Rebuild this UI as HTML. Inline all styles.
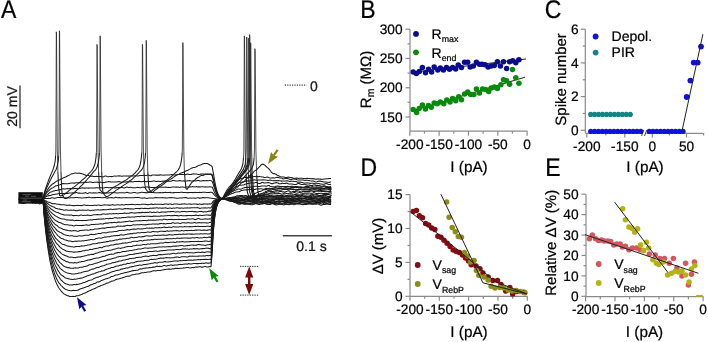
<!DOCTYPE html>
<html><head><meta charset="utf-8"><style>
html,body{margin:0;padding:0;background:#fff;width:708px;height:342px;overflow:hidden}
svg{display:block;will-change:transform}
text{font-family:"Liberation Sans", sans-serif;text-rendering:geometricPrecision;stroke:currentColor;stroke-width:0.22px}
</style></head><body>
<svg width="708" height="342" viewBox="0 0 708 342">
<rect width="708" height="342" fill="#fff"/>
<text transform="translate(1.0,17.5) scale(1,1.11)" font-size="23" fill="#000">A</text>
<path d="M18.7 199.8 19.7 199.6 20.7 199.4 21.7 199.7 22.7 200.2 23.7 200.3 24.7 200.1 25.7 199.9 26.7 200.1 27.7 200.3 28.7 199.9 29.7 199.8 30.7 200.0 31.7 199.9 32.7 199.7 33.7 199.0 34.7 199.0 35.7 198.6 36.7 199.1 37.7 199.1 38.7 199.7 39.7 199.8 40.7 200.1 41.7 199.3 42.7 198.8" fill="none" stroke="#1a1a1a" stroke-width="1.05" stroke-linejoin="round"/>
<path d="M18.7 199.5 19.7 199.2 20.7 199.4 21.7 199.9 22.7 199.9 23.7 200.2 24.7 200.1 25.7 200.2 26.7 200.1 27.7 199.9 28.7 200.1 29.7 199.8 30.7 199.8 31.7 200.2 32.7 200.1 33.7 200.3 34.7 199.9 35.7 200.2 36.7 200.5 37.7 200.7 38.7 200.5 39.7 200.0 40.7 199.9 41.7 200.2 42.7 198.8" fill="none" stroke="#1a1a1a" stroke-width="1.05" stroke-linejoin="round"/>
<path d="M18.7 198.0 19.7 197.9 20.7 197.3 21.7 197.6 22.7 197.2 23.7 197.1 24.7 197.0 25.7 197.6 26.7 198.1 27.7 197.8 28.7 197.3 29.7 197.2 30.7 197.0 31.7 197.1 32.7 196.9 33.7 197.8 34.7 198.1 35.7 198.1 36.7 197.6 37.7 197.3 38.7 197.9 39.7 197.8 40.7 197.8 41.7 197.5 42.7 198.8" fill="none" stroke="#1a1a1a" stroke-width="1.05" stroke-linejoin="round"/>
<path d="M18.7 199.8 19.7 200.4 20.7 200.6 21.7 200.7 22.7 200.6 23.7 200.3 24.7 200.6 25.7 200.4 26.7 200.7 27.7 200.0 28.7 200.1 29.7 199.5 30.7 199.2 31.7 199.1 32.7 199.3 33.7 199.9 34.7 200.7 35.7 200.7 36.7 200.4 37.7 199.9 38.7 200.2 39.7 200.4 40.7 200.2 41.7 200.3 42.7 198.8" fill="none" stroke="#1a1a1a" stroke-width="1.05" stroke-linejoin="round"/>
<path d="M18.7 202.8 19.7 202.9 20.7 202.7 21.7 203.2 22.7 203.2 23.7 203.5 24.7 203.0 25.7 203.0 26.7 202.4 27.7 202.2 28.7 202.3 29.7 202.3 30.7 202.9 31.7 202.3 32.7 203.1 33.7 202.6 34.7 203.3 35.7 203.2 36.7 203.0 37.7 203.1 38.7 203.5 39.7 203.9 40.7 203.5 41.7 203.0 42.7 198.8" fill="none" stroke="#1a1a1a" stroke-width="1.05" stroke-linejoin="round"/>
<path d="M18.7 199.2 19.7 199.2 20.7 198.8 21.7 199.4 22.7 199.6 23.7 200.2 24.7 199.8 25.7 199.7 26.7 199.3 27.7 199.2 28.7 199.4 29.7 199.3 30.7 199.4 31.7 199.0 32.7 198.9 33.7 199.5 34.7 199.7 35.7 199.6 36.7 199.2 37.7 199.8 38.7 199.7 39.7 199.5 40.7 198.9 41.7 198.9 42.7 198.8" fill="none" stroke="#1a1a1a" stroke-width="1.05" stroke-linejoin="round"/>
<path d="M43.0 198.7 43.7 199.5 44.4 200.1 45.1 200.5 45.8 200.8 46.5 201.3 47.2 201.7 47.9 201.9 48.6 202.2 49.3 202.3 50.0 202.7 50.7 202.8 51.4 203.2 52.1 203.5 52.8 203.8 53.5 203.8 54.2 203.6 54.9 203.7 55.6 203.8 56.3 204.1 57.0 204.2 57.7 204.3 58.4 204.2 59.1 204.2 59.8 204.5 60.5 204.8 61.2 204.8 61.9 204.8 62.6 204.7 63.3 204.8 64.0 204.8 64.7 204.9 65.4 205.0 66.1 205.1 66.8 205.4 67.5 205.2 68.2 205.2 68.9 205.1 69.6 205.1 70.3 205.2 71.0 205.3 71.7 205.4 72.4 205.5 73.1 205.8 73.8 205.6 74.5 205.7 75.2 205.5 75.9 205.6 76.6 205.4 77.3 205.3 78.0 205.4 78.7 205.5 79.4 205.6 80.1 205.5 80.8 205.6 81.5 205.6 82.2 205.4 82.9 205.2 83.6 205.0 84.3 204.9 85.0 204.9 85.7 205.2 86.4 205.5 87.1 205.5 87.8 205.2 88.5 205.3 89.2 205.4 89.9 205.5 90.6 205.4 91.3 205.4 92.0 205.4 92.7 205.5 93.4 205.5 94.1 205.3 94.8 205.3 95.5 205.2 96.2 205.4 96.9 205.2 97.6 205.2 98.3 205.1 99.0 205.0 99.7 205.2 100.4 205.4 101.1 205.4 101.8 205.3 102.5 205.2 103.2 205.0 103.9 204.9 104.6 204.8 105.3 205.1 106.0 204.9 106.7 204.9 107.4 204.9 108.1 205.1 108.8 205.1 109.5 205.1 110.2 205.2 110.9 205.0 111.6 205.0 112.3 204.6 113.0 204.8 113.7 205.0 114.4 205.2 115.1 205.1 115.8 205.0 116.5 204.9 117.2 204.8 117.9 204.8 118.6 204.8 119.3 204.9 120.0 205.0 120.7 205.0 121.4 204.7 122.1 204.6 122.8 204.8 123.5 204.9 124.2 204.9 124.9 204.7 125.6 204.5 126.3 204.5 127.0 204.6 127.7 204.7 128.4 204.7 129.1 204.5 129.8 204.6 130.5 204.4 131.2 204.4 131.9 204.3 132.6 204.5 133.3 204.5 134.0 204.6 134.7 204.7 135.4 204.7 136.1 204.6 136.8 204.4 137.5 204.5 138.2 204.4 138.9 204.4 139.6 204.6 140.3 204.7 141.0 204.6 141.7 204.3 142.4 204.3 143.1 204.2 143.8 204.2 144.5 204.3 145.2 204.3 145.9 204.5 146.6 204.6 147.3 204.7 148.0 204.6 148.7 204.7 149.4 204.6 150.1 204.5 150.8 204.1 151.5 204.1 152.2 204.3 152.9 204.6 153.6 204.5 154.3 204.2 155.0 204.1 155.7 204.2 156.4 204.3 157.1 204.3 157.8 204.3 158.5 204.3 159.2 204.3 159.9 204.3 160.6 204.3 161.3 204.3 162.0 204.5 162.7 204.6 163.4 204.5 164.1 204.1 164.8 204.1 165.5 203.9 166.2 203.9 166.9 204.0 167.6 204.2 168.3 204.4 169.0 204.1 169.7 204.0 170.4 203.9 171.1 204.1 171.8 204.4 172.5 204.5 173.2 204.4 173.9 204.0 174.6 204.0 175.3 204.0 176.0 204.0 176.7 204.0 177.4 203.9 178.1 204.2 178.8 204.3 179.5 204.5 180.2 204.3 180.9 204.3 181.6 204.1 182.3 204.1 183.0 204.0 183.7 203.9 184.4 203.8 185.1 203.9 185.8 204.0 186.5 204.2 187.2 204.2 187.9 204.1 188.6 203.9 189.3 203.9 190.0 204.1 190.7 204.1 191.4 204.2 192.1 204.2 192.8 204.1 193.5 203.9 194.2 203.9 194.9 204.1 195.6 204.0 196.3 204.1 197.0 204.1 197.7 204.4 198.4 204.2 199.1 204.1 199.8 203.9 200.5 204.2 201.2 204.2 201.9 204.5 202.6 204.1 203.3 204.2 204.0 203.8 204.7 203.9 205.4 203.9 206.1 204.0 206.8 204.1 207.5 204.1 208.2 204.1 208.9 203.9 209.6 203.8 210.3 203.9 211.0 203.9 212.1 202.9 213.1 201.4 214.1 200.5 215.1 200.0 216.1 199.5 217.1 199.3 218.1 199.0 219.1 198.9 220.1 198.9 221.1 198.8 222.1 198.9 223.1 199.0 224.1 199.4 225.1 199.6 226.1 199.8 227.1 200.1 228.1 200.4 229.1 200.8 230.1 201.0 231.1 201.1 232.1 201.4 233.1 201.6 234.1 202.3 235.1 202.6 236.1 203.1 237.1 203.2 238.1 204.0 239.1 204.2 240.1 204.2 241.1 203.8 242.1 203.8 243.1 203.9 244.1 204.2 245.1 204.2 246.1 204.3 247.1 204.2 248.1 204.2 249.1 204.1 250.1 204.4 251.1 204.7 252.1 204.7 253.1 204.4 254.1 204.2 255.1 203.8 256.1 203.7 257.1 203.8 258.1 204.1 259.1 204.4 260.1 204.0 261.1 203.9 262.1 203.8 263.1 203.9 264.1 203.4 265.1 203.3 266.1 203.6 267.1 204.3 268.1 204.4 269.1 204.2 270.1 204.2 271.1 203.6 272.1 203.8 273.1 203.6 274.1 204.4 275.1 204.6 276.1 205.0 277.1 204.8 278.1 204.6 279.1 204.3 280.1 204.2 281.1 204.2 282.1 204.4 283.1 204.9 284.1 204.8 285.1 204.4 286.1 204.0 287.1 204.4 288.1 204.5 289.1 204.8 290.1 204.2 291.1 204.2 292.1 203.9 293.1 204.4 294.1 204.8 295.1 204.5 296.1 204.0 297.1 203.8 298.1 203.9 299.1 203.8 300.1 203.9 301.1 204.1 302.1 204.6 303.1 204.3 304.1 204.5 305.1 204.3 306.1 204.6 307.1 204.1 308.1 204.0 309.1 203.8 310.1 203.9 311.1 204.3 312.1 204.2 313.1 204.2 314.1 203.9 315.1 203.9 316.1 204.2 317.1 204.0 318.1 204.1 319.1 204.1 320.1 204.9 321.1 205.3 322.1 205.0 323.1 204.6 324.1 204.5 325.1 204.4 326.1 204.3 327.1 203.9 328.1 204.1 329.1 204.1 330.1 203.8 331.1 203.4" fill="none" stroke="#1a1a1a" stroke-width="1.05" stroke-linejoin="round"/>
<path d="M43.0 198.8 43.7 199.8 44.4 200.8 45.1 201.5 45.8 202.3 46.5 202.8 47.2 203.3 47.9 203.7 48.6 204.4 49.3 204.9 50.0 205.4 50.7 205.7 51.4 206.0 52.1 206.5 52.8 206.7 53.5 206.9 54.2 207.1 54.9 207.8 55.6 208.3 56.3 208.5 57.0 208.5 57.7 208.8 58.4 209.0 59.1 209.1 59.8 209.1 60.5 209.4 61.2 209.6 61.9 209.5 62.6 209.8 63.3 210.0 64.0 210.2 64.7 210.2 65.4 209.9 66.1 210.0 66.8 209.9 67.5 210.2 68.2 210.3 68.9 210.3 69.6 210.2 70.3 210.2 71.0 210.1 71.7 210.3 72.4 210.2 73.1 210.3 73.8 210.1 74.5 210.3 75.2 210.4 75.9 210.7 76.6 210.8 77.3 210.8 78.0 210.5 78.7 210.2 79.4 210.1 80.1 210.2 80.8 210.3 81.5 210.2 82.2 210.3 82.9 210.1 83.6 210.3 84.3 210.2 85.0 210.3 85.7 210.3 86.4 210.2 87.1 210.2 87.8 210.0 88.5 210.0 89.2 210.2 89.9 210.6 90.6 210.7 91.3 210.6 92.0 210.3 92.7 210.3 93.4 210.2 94.1 210.2 94.8 210.0 95.5 210.0 96.2 209.9 96.9 209.9 97.6 209.8 98.3 209.7 99.0 209.9 99.7 210.0 100.4 210.0 101.1 209.8 101.8 209.9 102.5 209.7 103.2 209.6 103.9 209.6 104.6 209.7 105.3 209.7 106.0 209.8 106.7 209.7 107.4 209.6 108.1 209.4 108.8 209.6 109.5 209.3 110.2 209.3 110.9 209.1 111.6 209.3 112.3 209.4 113.0 209.6 113.7 209.3 114.4 209.3 115.1 209.1 115.8 209.2 116.5 209.1 117.2 209.1 117.9 208.9 118.6 208.8 119.3 208.7 120.0 208.8 120.7 208.9 121.4 209.0 122.1 209.2 122.8 209.2 123.5 208.9 124.2 208.7 124.9 208.6 125.6 208.6 126.3 208.7 127.0 208.7 127.7 208.6 128.4 208.6 129.1 208.7 129.8 208.9 130.5 208.8 131.2 208.9 131.9 208.8 132.6 208.9 133.3 208.9 134.0 208.9 134.7 208.8 135.4 208.6 136.1 208.5 136.8 208.4 137.5 208.6 138.2 208.4 138.9 208.6 139.6 208.6 140.3 208.6 141.0 208.2 141.7 208.2 142.4 208.3 143.1 208.4 143.8 208.4 144.5 208.3 145.2 208.4 145.9 208.3 146.6 208.4 147.3 208.4 148.0 208.7 148.7 208.6 149.4 208.5 150.1 208.1 150.8 208.3 151.5 208.2 152.2 208.2 152.9 208.1 153.6 208.1 154.3 208.1 155.0 208.0 155.7 207.9 156.4 207.8 157.1 207.8 157.8 208.0 158.5 208.2 159.2 208.0 159.9 207.9 160.6 208.0 161.3 208.3 162.0 208.3 162.7 208.1 163.4 208.1 164.1 208.0 164.8 208.0 165.5 207.8 166.2 208.0 166.9 208.2 167.6 208.4 168.3 208.2 169.0 208.2 169.7 208.0 170.4 208.1 171.1 208.2 171.8 208.4 172.5 208.3 173.2 208.0 173.9 208.0 174.6 208.2 175.3 208.1 176.0 207.9 176.7 207.7 177.4 207.8 178.1 208.0 178.8 208.1 179.5 208.1 180.2 208.2 180.9 208.0 181.6 208.0 182.3 208.1 183.0 208.3 183.7 208.3 184.4 208.0 185.1 208.1 185.8 208.0 186.5 208.0 187.2 207.8 187.9 208.0 188.6 208.0 189.3 208.0 190.0 207.8 190.7 207.9 191.4 207.8 192.1 207.7 192.8 207.7 193.5 207.8 194.2 207.8 194.9 207.8 195.6 207.8 196.3 207.8 197.0 207.8 197.7 207.6 198.4 207.9 199.1 208.1 199.8 208.4 200.5 208.2 201.2 208.1 201.9 207.9 202.6 207.9 203.3 208.0 204.0 207.8 204.7 207.9 205.4 207.8 206.1 208.0 206.8 208.0 207.5 207.9 208.2 207.8 208.9 207.8 209.6 207.9 210.3 207.9 211.0 207.8 212.1 206.1 213.1 203.8 214.1 202.0 215.1 201.0 216.1 200.2 217.1 199.7 218.1 199.3 219.1 199.2 220.1 199.0 221.1 199.0 222.1 198.8 223.1 198.8 224.1 198.8 225.1 198.9 226.1 198.9 227.1 198.9 228.1 199.0 229.1 199.3 230.1 199.4 231.1 199.2 232.1 199.0 233.1 199.0 234.1 198.9 235.1 199.1 236.1 199.1 237.1 199.5 238.1 199.7 239.1 200.0 240.1 199.9 241.1 199.7 242.1 199.8 243.1 199.9 244.1 199.6 245.1 199.4 246.1 199.2 247.1 199.8 248.1 199.2 249.1 199.3 250.1 198.8 251.1 199.4 252.1 199.8 253.1 199.8 254.1 199.6 255.1 199.7 256.1 199.4 257.1 199.5 258.1 199.1 259.1 199.6 260.1 199.6 261.1 199.6 262.1 199.4 263.1 199.4 264.1 199.7 265.1 199.5 266.1 200.0 267.1 200.3 268.1 200.2 269.1 199.8 270.1 199.8 271.1 200.2 272.1 200.1 273.1 199.6 274.1 199.4 275.1 199.5 276.1 199.4 277.1 199.7 278.1 199.6 279.1 199.6 280.1 199.2 281.1 199.4 282.1 199.3 283.1 199.4 284.1 199.5 285.1 199.8 286.1 199.9 287.1 199.9 288.1 199.8 289.1 199.7 290.1 199.5 291.1 199.7 292.1 199.5 293.1 199.8 294.1 199.8 295.1 199.9 296.1 199.6 297.1 199.4 298.1 199.5 299.1 199.3 300.1 199.7 301.1 199.5 302.1 199.2 303.1 198.8 304.1 198.4 305.1 198.9 306.1 199.1 307.1 199.8 308.1 199.5 309.1 199.2 310.1 199.4 311.1 199.8 312.1 199.9 313.1 199.7 314.1 200.0 315.1 200.2 316.1 200.1 317.1 199.9 318.1 199.8 319.1 199.8 320.1 199.3 321.1 199.2 322.1 199.1 323.1 199.4 324.1 199.4 325.1 200.2 326.1 200.1 327.1 200.0 328.1 199.3 329.1 199.6 330.1 199.8 331.1 199.9" fill="none" stroke="#1a1a1a" stroke-width="1.05" stroke-linejoin="round"/>
<path d="M43.0 198.4 43.7 200.1 44.4 201.6 45.1 202.7 45.8 203.6 46.5 204.5 47.2 205.5 47.9 206.3 48.6 207.0 49.3 207.4 50.0 208.0 50.7 208.7 51.4 209.2 52.1 209.8 52.8 210.1 53.5 210.8 54.2 211.1 54.9 211.5 55.6 211.9 56.3 212.3 57.0 212.4 57.7 212.6 58.4 212.8 59.1 213.2 59.8 213.4 60.5 213.8 61.2 214.1 61.9 214.2 62.6 214.4 63.3 214.6 64.0 214.9 64.7 215.1 65.4 215.0 66.1 215.0 66.8 215.0 67.5 215.0 68.2 215.1 68.9 215.0 69.6 215.2 70.3 215.0 71.0 215.0 71.7 215.1 72.4 215.4 73.1 215.6 73.8 215.6 74.5 215.6 75.2 215.4 75.9 215.4 76.6 215.4 77.3 215.6 78.0 215.7 78.7 215.7 79.4 215.5 80.1 215.2 80.8 215.0 81.5 215.1 82.2 215.3 82.9 215.4 83.6 215.4 84.3 215.3 85.0 215.3 85.7 215.4 86.4 215.3 87.1 215.1 87.8 215.1 88.5 215.2 89.2 215.3 89.9 215.4 90.6 215.4 91.3 215.4 92.0 215.3 92.7 215.0 93.4 214.8 94.1 214.7 94.8 214.8 95.5 214.8 96.2 214.7 96.9 214.6 97.6 214.6 98.3 214.7 99.0 214.8 99.7 214.7 100.4 214.7 101.1 214.7 101.8 214.3 102.5 214.0 103.2 213.9 103.9 214.0 104.6 214.1 105.3 214.2 106.0 214.2 106.7 214.0 107.4 214.1 108.1 214.1 108.8 214.0 109.5 213.8 110.2 213.8 110.9 213.9 111.6 213.9 112.3 213.7 113.0 213.7 113.7 213.6 114.4 213.7 115.1 213.7 115.8 213.6 116.5 213.5 117.2 213.8 117.9 213.7 118.6 213.8 119.3 213.5 120.0 213.5 120.7 213.4 121.4 213.5 122.1 213.6 122.8 213.5 123.5 213.3 124.2 213.1 124.9 213.1 125.6 213.2 126.3 213.4 127.0 213.3 127.7 213.3 128.4 213.3 129.1 213.3 129.8 213.0 130.5 212.7 131.2 212.5 131.9 212.8 132.6 212.8 133.3 213.0 134.0 212.9 134.7 213.1 135.4 213.1 136.1 213.0 136.8 212.8 137.5 212.7 138.2 212.7 138.9 212.6 139.6 212.6 140.3 212.7 141.0 212.6 141.7 212.6 142.4 212.3 143.1 212.5 143.8 212.5 144.5 212.6 145.2 212.6 145.9 212.3 146.6 212.4 147.3 212.3 148.0 212.5 148.7 212.4 149.4 212.1 150.1 212.0 150.8 212.0 151.5 212.4 152.2 212.5 152.9 212.5 153.6 212.1 154.3 212.2 155.0 212.4 155.7 212.5 156.4 212.3 157.1 212.0 157.8 212.0 158.5 212.3 159.2 212.5 159.9 212.6 160.6 212.3 161.3 212.1 162.0 212.1 162.7 211.9 163.4 212.0 164.1 211.9 164.8 212.1 165.5 212.1 166.2 212.1 166.9 212.0 167.6 211.8 168.3 211.7 169.0 211.7 169.7 211.7 170.4 211.6 171.1 211.6 171.8 211.5 172.5 211.5 173.2 211.4 173.9 211.6 174.6 211.7 175.3 212.1 176.0 211.9 176.7 211.8 177.4 211.7 178.1 211.8 178.8 211.8 179.5 211.9 180.2 211.9 180.9 211.8 181.6 211.5 182.3 211.5 183.0 211.7 183.7 211.6 184.4 211.5 185.1 211.5 185.8 211.7 186.5 211.7 187.2 211.7 187.9 211.7 188.6 211.6 189.3 211.5 190.0 211.5 190.7 211.6 191.4 211.4 192.1 211.3 192.8 211.5 193.5 211.8 194.2 211.6 194.9 211.8 195.6 211.5 196.3 211.9 197.0 211.7 197.7 211.9 198.4 211.8 199.1 211.6 199.8 211.5 200.5 211.4 201.2 211.3 201.9 211.5 202.6 211.7 203.3 212.1 204.0 211.7 204.7 211.8 205.4 211.8 206.1 212.0 206.8 211.8 207.5 211.6 208.2 211.4 208.9 211.1 209.6 211.1 210.3 211.1 211.0 211.2 212.1 209.3 213.1 205.9 214.1 203.5 215.1 201.9 216.1 200.7 217.1 200.0 218.1 199.6 219.1 199.2 220.1 199.0 221.1 198.7 222.1 198.7 223.1 198.8 224.1 198.9 225.1 198.9 226.1 198.7 227.1 198.7 228.1 198.7 229.1 198.8 230.1 199.2 231.1 199.1 232.1 199.1 233.1 198.9 234.1 198.7 235.1 198.7 236.1 198.5 237.1 198.9 238.1 199.1 239.1 199.0 240.1 198.9 241.1 198.7 242.1 198.9 243.1 199.4 244.1 199.3 245.1 199.0 246.1 198.8 247.1 199.0 248.1 199.4 249.1 199.3 250.1 199.0 251.1 198.9 252.1 199.0 253.1 199.5 254.1 199.4 255.1 199.3 256.1 198.6 257.1 198.9 258.1 199.1 259.1 199.1 260.1 198.9 261.1 198.9 262.1 198.7 263.1 198.4 264.1 198.5 265.1 198.8 266.1 199.0 267.1 199.1 268.1 199.4 269.1 199.4 270.1 199.7 271.1 199.7 272.1 199.8 273.1 199.3 274.1 199.3 275.1 198.9 276.1 198.7 277.1 198.7 278.1 198.5 279.1 198.6 280.1 198.5 281.1 198.8 282.1 198.4 283.1 198.4 284.1 198.5 285.1 198.9 286.1 198.8 287.1 199.0 288.1 198.6 289.1 198.8 290.1 198.9 291.1 199.2 292.1 199.3 293.1 199.3 294.1 199.3 295.1 199.1 296.1 198.8 297.1 199.1 298.1 198.6 299.1 198.4 300.1 198.0 301.1 198.4 302.1 198.4 303.1 198.4 304.1 198.6 305.1 198.7 306.1 199.0 307.1 199.2 308.1 199.2 309.1 199.2 310.1 199.4 311.1 199.6 312.1 199.5 313.1 199.1 314.1 198.9 315.1 199.0 316.1 199.3 317.1 199.3 318.1 199.1 319.1 199.1 320.1 199.2 321.1 199.1 322.1 198.6 323.1 198.5 324.1 198.4 325.1 199.1 326.1 199.3 327.1 199.2 328.1 198.8 329.1 198.9 330.1 199.3 331.1 199.2" fill="none" stroke="#1a1a1a" stroke-width="1.05" stroke-linejoin="round"/>
<path d="M43.0 199.2 43.7 201.1 44.4 202.7 45.1 203.9 45.8 205.2 46.5 206.3 47.2 207.6 47.9 208.4 48.6 209.4 49.3 210.3 50.0 211.3 50.7 211.9 51.4 212.6 52.1 213.4 52.8 213.9 53.5 214.4 54.2 214.9 54.9 215.5 55.6 216.0 56.3 216.4 57.0 216.7 57.7 217.1 58.4 217.6 59.1 217.9 59.8 218.3 60.5 218.5 61.2 218.8 61.9 219.0 62.6 218.9 63.3 219.0 64.0 219.0 64.7 219.2 65.4 219.5 66.1 219.7 66.8 219.9 67.5 219.8 68.2 220.0 68.9 219.9 69.6 220.1 70.3 220.1 71.0 220.2 71.7 220.1 72.4 220.1 73.1 220.3 73.8 220.5 74.5 220.7 75.2 220.6 75.9 220.4 76.6 220.3 77.3 220.4 78.0 220.3 78.7 220.5 79.4 220.4 80.1 220.5 80.8 220.4 81.5 220.5 82.2 220.6 82.9 220.6 83.6 220.5 84.3 220.6 85.0 220.5 85.7 220.5 86.4 220.5 87.1 220.3 87.8 220.3 88.5 220.0 89.2 219.9 89.9 219.9 90.6 219.8 91.3 219.9 92.0 219.8 92.7 219.9 93.4 219.5 94.1 219.4 94.8 219.4 95.5 219.5 96.2 219.5 96.9 219.1 97.6 219.2 98.3 219.1 99.0 219.3 99.7 219.0 100.4 219.1 101.1 218.9 101.8 219.2 102.5 218.9 103.2 218.8 103.9 218.9 104.6 218.9 105.3 218.8 106.0 218.5 106.7 218.4 107.4 218.6 108.1 218.7 108.8 218.7 109.5 218.4 110.2 218.2 110.9 218.4 111.6 218.6 112.3 218.5 113.0 218.3 113.7 218.1 114.4 217.8 115.1 217.7 115.8 217.8 116.5 217.8 117.2 218.2 117.9 218.0 118.6 218.0 119.3 217.8 120.0 217.9 120.7 218.0 121.4 217.7 122.1 217.5 122.8 217.6 123.5 217.6 124.2 217.5 124.9 217.4 125.6 217.4 126.3 217.3 127.0 217.2 127.7 217.0 128.4 217.1 129.1 217.1 129.8 217.3 130.5 217.3 131.2 217.1 131.9 217.0 132.6 217.0 133.3 217.1 134.0 217.2 134.7 217.0 135.4 216.8 136.1 216.8 136.8 216.7 137.5 216.5 138.2 216.5 138.9 216.5 139.6 216.7 140.3 216.4 141.0 216.3 141.7 216.2 142.4 216.3 143.1 216.4 143.8 216.3 144.5 216.4 145.2 216.2 145.9 216.3 146.6 216.2 147.3 216.3 148.0 216.3 148.7 216.3 149.4 216.2 150.1 216.4 150.8 216.2 151.5 216.4 152.2 216.3 152.9 216.4 153.6 216.1 154.3 216.3 155.0 216.1 155.7 216.1 156.4 216.2 157.1 216.3 157.8 216.3 158.5 216.3 159.2 216.3 159.9 216.2 160.6 216.0 161.3 215.8 162.0 216.0 162.7 216.0 163.4 216.1 164.1 215.9 164.8 215.8 165.5 215.8 166.2 215.7 166.9 215.8 167.6 215.5 168.3 215.6 169.0 215.5 169.7 215.6 170.4 215.7 171.1 215.6 171.8 215.7 172.5 215.6 173.2 215.7 173.9 215.4 174.6 215.3 175.3 215.4 176.0 215.4 176.7 215.6 177.4 215.6 178.1 215.8 178.8 216.0 179.5 215.8 180.2 215.6 180.9 215.5 181.6 215.6 182.3 215.8 183.0 215.7 183.7 215.7 184.4 215.7 185.1 215.8 185.8 215.7 186.5 215.6 187.2 215.6 187.9 215.5 188.6 215.6 189.3 215.5 190.0 215.6 190.7 215.5 191.4 215.7 192.1 215.5 192.8 215.5 193.5 215.6 194.2 215.5 194.9 215.4 195.6 215.1 196.3 215.1 197.0 215.5 197.7 215.5 198.4 215.7 199.1 215.3 199.8 215.3 200.5 215.3 201.2 215.6 201.9 215.5 202.6 215.5 203.3 215.3 204.0 215.3 204.7 215.2 205.4 215.1 206.1 215.0 206.8 215.0 207.5 215.1 208.2 215.3 208.9 215.1 209.6 215.2 210.3 215.3 211.0 215.5 212.1 212.4 213.1 207.7 214.1 204.6 215.1 202.6 216.1 201.3 217.1 200.5 218.1 199.9 219.1 199.5 220.1 199.1 221.1 199.0 222.1 198.8 223.1 198.9 224.1 199.0 225.1 199.3 226.1 199.6 227.1 199.8 228.1 200.1 229.1 200.3 230.1 200.6 231.1 200.6 232.1 200.9 233.1 201.2 234.1 201.6 235.1 201.8 236.1 202.1 237.1 202.4 238.1 202.3 239.1 202.5 240.1 202.5 241.1 202.7 242.1 202.5 243.1 202.8 244.1 203.0 245.1 203.3 246.1 203.5 247.1 203.4 248.1 203.2 249.1 203.3 250.1 203.0 251.1 203.3 252.1 202.9 253.1 202.9 254.1 202.2 255.1 202.3 256.1 202.4 257.1 203.1 258.1 203.1 259.1 203.0 260.1 202.5 261.1 202.4 262.1 202.3 263.1 202.4 264.1 202.2 265.1 202.3 266.1 202.4 267.1 202.7 268.1 202.5 269.1 202.2 270.1 202.7 271.1 202.5 272.1 203.1 273.1 202.9 274.1 203.2 275.1 202.7 276.1 202.8 277.1 203.2 278.1 203.1 279.1 202.9 280.1 202.9 281.1 203.2 282.1 203.4 283.1 203.0 284.1 203.0 285.1 202.3 286.1 202.9 287.1 202.6 288.1 202.4 289.1 202.1 290.1 202.2 291.1 203.1 292.1 203.1 293.1 203.2 294.1 202.9 295.1 203.3 296.1 203.1 297.1 203.4 298.1 203.2 299.1 203.1 300.1 202.8 301.1 202.7 302.1 202.7 303.1 203.1 304.1 202.8 305.1 203.2 306.1 203.0 307.1 203.1 308.1 202.7 309.1 202.5 310.1 202.9 311.1 203.2 312.1 203.1 313.1 203.0 314.1 202.8 315.1 202.8 316.1 202.3 317.1 202.5 318.1 202.6 319.1 202.9 320.1 202.9 321.1 203.1 322.1 202.6 323.1 202.4 324.1 201.8 325.1 202.5 326.1 203.1 327.1 203.3 328.1 203.1 329.1 202.6 330.1 202.8 331.1 203.0" fill="none" stroke="#1a1a1a" stroke-width="1.05" stroke-linejoin="round"/>
<path d="M43.0 199.0 43.7 201.4 44.4 203.5 45.1 205.3 45.8 207.1 46.5 208.5 47.2 209.7 47.9 210.8 48.6 212.1 49.3 213.4 50.0 214.3 50.7 215.3 51.4 216.1 52.1 217.1 52.8 217.9 53.5 218.7 54.2 219.3 54.9 220.0 55.6 220.4 56.3 221.1 57.0 221.3 57.7 221.8 58.4 222.0 59.1 222.5 59.8 222.6 60.5 222.8 61.2 223.1 61.9 223.4 62.6 223.9 63.3 224.0 64.0 224.4 64.7 224.5 65.4 224.8 66.1 224.8 66.8 224.8 67.5 224.8 68.2 225.0 68.9 225.1 69.6 225.3 70.3 225.3 71.0 225.3 71.7 225.3 72.4 225.5 73.1 225.8 73.8 225.9 74.5 225.9 75.2 225.5 75.9 225.3 76.6 225.2 77.3 225.4 78.0 225.5 78.7 225.6 79.4 225.5 80.1 225.5 80.8 225.6 81.5 225.6 82.2 225.5 82.9 225.2 83.6 225.4 84.3 225.2 85.0 225.1 85.7 224.9 86.4 224.8 87.1 224.9 87.8 225.2 88.5 225.2 89.2 225.2 89.9 224.9 90.6 224.8 91.3 224.6 92.0 224.5 92.7 224.5 93.4 224.6 94.1 224.4 94.8 224.4 95.5 224.2 96.2 224.3 96.9 224.2 97.6 224.2 98.3 224.2 99.0 224.1 99.7 224.0 100.4 223.7 101.1 223.8 101.8 223.9 102.5 224.1 103.2 224.0 103.9 223.5 104.6 223.4 105.3 223.1 106.0 223.1 106.7 223.2 107.4 223.1 108.1 223.1 108.8 222.7 109.5 222.7 110.2 222.7 110.9 222.7 111.6 222.6 112.3 222.7 113.0 222.6 113.7 222.5 114.4 222.2 115.1 222.4 115.8 222.6 116.5 222.7 117.2 222.4 117.9 222.1 118.6 222.1 119.3 222.1 120.0 222.2 120.7 222.2 121.4 222.2 122.1 222.1 122.8 222.0 123.5 222.1 124.2 221.8 124.9 221.8 125.6 221.6 126.3 221.6 127.0 221.4 127.7 221.4 128.4 221.3 129.1 221.1 129.8 221.0 130.5 221.2 131.2 221.5 131.9 221.6 132.6 221.5 133.3 221.2 134.0 221.1 134.7 221.0 135.4 220.9 136.1 220.7 136.8 220.7 137.5 220.7 138.2 220.7 138.9 220.7 139.6 220.6 140.3 220.8 141.0 220.7 141.7 220.7 142.4 220.6 143.1 220.5 143.8 220.5 144.5 220.4 145.2 220.4 145.9 220.5 146.6 220.7 147.3 220.4 148.0 220.2 148.7 220.0 149.4 220.2 150.1 220.2 150.8 220.1 151.5 220.2 152.2 220.2 152.9 220.1 153.6 220.1 154.3 220.2 155.0 220.2 155.7 220.2 156.4 219.9 157.1 220.1 157.8 220.0 158.5 219.9 159.2 219.8 159.9 219.7 160.6 219.8 161.3 219.8 162.0 219.9 162.7 219.8 163.4 219.3 164.1 219.3 164.8 219.2 165.5 219.5 166.2 219.6 166.9 219.8 167.6 219.7 168.3 219.6 169.0 219.5 169.7 219.5 170.4 219.4 171.1 219.3 171.8 219.5 172.5 219.5 173.2 219.7 173.9 219.6 174.6 219.5 175.3 219.4 176.0 219.5 176.7 219.5 177.4 219.6 178.1 219.4 178.8 219.2 179.5 219.4 180.2 219.4 180.9 219.4 181.6 219.4 182.3 219.5 183.0 219.6 183.7 219.4 184.4 219.5 185.1 219.5 185.8 219.6 186.5 219.3 187.2 219.1 187.9 218.9 188.6 219.0 189.3 219.1 190.0 219.2 190.7 219.1 191.4 218.9 192.1 218.8 192.8 218.8 193.5 219.0 194.2 219.2 194.9 219.6 195.6 219.6 196.3 219.4 197.0 219.0 197.7 218.6 198.4 218.5 199.1 218.6 199.8 219.1 200.5 219.2 201.2 219.2 201.9 219.2 202.6 219.2 203.3 219.2 204.0 219.1 204.7 219.0 205.4 218.7 206.1 218.9 206.8 219.1 207.5 219.3 208.2 219.0 208.9 218.9 209.6 218.8 210.3 218.9 211.0 218.9 212.1 215.4 213.1 209.7 214.1 206.0 215.1 203.4 216.1 201.8 217.1 200.8 218.1 200.0 219.1 199.6 220.1 199.2 221.1 198.9 222.1 198.8 223.1 198.8 224.1 199.1 225.1 199.2 226.1 199.2 227.1 199.4 228.1 199.5 229.1 199.7 230.1 199.8 231.1 200.1 232.1 200.2 233.1 200.4 234.1 200.4 235.1 200.4 236.1 200.7 237.1 200.9 238.1 201.2 239.1 201.1 240.1 201.0 241.1 200.8 242.1 200.7 243.1 200.9 244.1 201.2 245.1 201.5 246.1 201.5 247.1 201.8 248.1 201.7 249.1 201.6 250.1 201.4 251.1 200.9 252.1 201.3 253.1 201.3 254.1 201.8 255.1 201.2 256.1 201.2 257.1 200.9 258.1 201.3 259.1 201.3 260.1 201.3 261.1 201.3 262.1 201.4 263.1 201.5 264.1 201.8 265.1 201.7 266.1 201.7 267.1 201.4 268.1 201.4 269.1 201.4 270.1 201.4 271.1 201.8 272.1 202.1 273.1 202.0 274.1 202.0 275.1 201.7 276.1 201.8 277.1 201.4 278.1 201.5 279.1 201.8 280.1 201.8 281.1 201.5 282.1 201.3 283.1 201.3 284.1 201.5 285.1 200.8 286.1 201.1 287.1 201.4 288.1 202.1 289.1 202.0 290.1 202.1 291.1 202.1 292.1 202.0 293.1 201.5 294.1 201.3 295.1 201.2 296.1 201.5 297.1 201.3 298.1 201.1 299.1 201.0 300.1 201.1 301.1 201.2 302.1 201.3 303.1 201.0 304.1 200.6 305.1 201.0 306.1 201.1 307.1 201.4 308.1 201.3 309.1 201.7 310.1 201.5 311.1 201.2 312.1 201.2 313.1 201.5 314.1 201.5 315.1 201.3 316.1 201.3 317.1 201.6 318.1 201.9 319.1 201.7 320.1 201.6 321.1 201.5 322.1 201.8 323.1 201.4 324.1 201.5 325.1 201.2 326.1 201.1 327.1 201.1 328.1 201.2 329.1 201.4 330.1 201.3 331.1 200.9" fill="none" stroke="#1a1a1a" stroke-width="1.05" stroke-linejoin="round"/>
<path d="M43.0 198.9 43.7 202.1 44.4 204.4 45.1 206.4 45.8 208.3 46.5 210.3 47.2 212.3 47.9 213.9 48.6 215.2 49.3 216.3 50.0 217.4 50.7 218.4 51.4 219.7 52.1 220.8 52.8 221.9 53.5 222.5 54.2 223.4 54.9 224.1 55.6 224.8 56.3 225.1 57.0 225.5 57.7 226.1 58.4 226.8 59.1 227.4 59.8 227.7 60.5 228.0 61.2 228.2 61.9 228.6 62.6 229.0 63.3 229.4 64.0 229.5 64.7 229.7 65.4 229.9 66.1 230.2 66.8 230.1 67.5 230.2 68.2 230.5 68.9 230.7 69.6 230.7 70.3 230.6 71.0 230.9 71.7 231.0 72.4 230.8 73.1 230.8 73.8 230.6 74.5 230.7 75.2 230.7 75.9 230.8 76.6 231.0 77.3 231.2 78.0 231.3 78.7 231.3 79.4 230.8 80.1 230.6 80.8 230.4 81.5 230.4 82.2 230.3 82.9 230.3 83.6 230.2 84.3 230.2 85.0 230.0 85.7 229.9 86.4 229.9 87.1 230.0 87.8 230.2 88.5 230.2 89.2 230.1 89.9 229.9 90.6 229.6 91.3 229.8 92.0 229.8 92.7 229.8 93.4 229.4 94.1 229.2 94.8 228.9 95.5 228.9 96.2 228.9 96.9 229.0 97.6 228.9 98.3 228.8 99.0 228.6 99.7 228.6 100.4 228.4 101.1 228.3 101.8 228.3 102.5 228.1 103.2 228.3 103.9 228.1 104.6 228.4 105.3 228.0 106.0 228.0 106.7 227.6 107.4 227.5 108.1 227.4 108.8 227.5 109.5 227.4 110.2 227.4 110.9 227.2 111.6 227.3 112.3 227.1 113.0 227.2 113.7 226.9 114.4 227.0 115.1 226.9 115.8 227.0 116.5 226.6 117.2 226.3 117.9 226.1 118.6 226.2 119.3 226.3 120.0 226.3 120.7 226.1 121.4 226.2 122.1 226.2 122.8 226.2 123.5 226.1 124.2 226.1 124.9 226.1 125.6 225.8 126.3 225.6 127.0 225.4 127.7 225.3 128.4 225.4 129.1 225.5 129.8 225.6 130.5 225.6 131.2 225.5 131.9 225.3 132.6 225.0 133.3 224.8 134.0 224.8 134.7 224.9 135.4 224.9 136.1 224.8 136.8 224.7 137.5 224.7 138.2 224.8 138.9 224.8 139.6 224.8 140.3 224.7 141.0 224.6 141.7 224.5 142.4 224.7 143.1 224.7 143.8 224.8 144.5 224.7 145.2 224.9 145.9 224.6 146.6 224.7 147.3 224.5 148.0 224.5 148.7 224.2 149.4 224.3 150.1 224.2 150.8 224.2 151.5 224.3 152.2 224.1 152.9 224.0 153.6 223.9 154.3 224.0 155.0 224.2 155.7 224.0 156.4 224.0 157.1 223.9 157.8 224.2 158.5 223.9 159.2 223.9 159.9 223.6 160.6 223.6 161.3 223.4 162.0 223.6 162.7 223.7 163.4 223.6 164.1 223.6 164.8 223.7 165.5 223.9 166.2 223.7 166.9 223.5 167.6 223.5 168.3 223.5 169.0 223.4 169.7 223.4 170.4 223.6 171.1 223.5 171.8 223.1 172.5 222.8 173.2 222.8 173.9 223.0 174.6 223.2 175.3 223.3 176.0 223.2 176.7 223.1 177.4 223.0 178.1 223.1 178.8 223.0 179.5 223.4 180.2 223.4 180.9 223.4 181.6 223.0 182.3 222.8 183.0 222.7 183.7 222.8 184.4 222.7 185.1 223.0 185.8 223.0 186.5 223.0 187.2 222.7 187.9 222.6 188.6 222.7 189.3 222.8 190.0 223.0 190.7 222.9 191.4 223.1 192.1 223.0 192.8 223.0 193.5 222.7 194.2 222.5 194.9 222.6 195.6 222.9 196.3 223.1 197.0 223.0 197.7 222.8 198.4 222.8 199.1 222.6 199.8 222.8 200.5 222.8 201.2 222.9 201.9 222.7 202.6 222.7 203.3 222.8 204.0 222.7 204.7 222.8 205.4 222.8 206.1 222.9 206.8 222.8 207.5 222.9 208.2 222.9 208.9 222.8 209.6 222.6 210.3 222.5 211.0 222.2 212.1 218.3 213.1 211.5 214.1 207.2 215.1 204.2 216.1 202.3 217.1 201.2 218.1 200.4 219.1 199.9 220.1 199.5 221.1 199.1 222.1 198.9 223.1 198.7 224.1 198.6 225.1 198.3 226.1 198.1 227.1 198.0 228.1 197.7 229.1 197.6 230.1 197.4 231.1 197.4 232.1 197.2 233.1 197.0 234.1 196.9 235.1 196.7 236.1 196.3 237.1 195.8 238.1 195.7 239.1 195.7 240.1 195.5 241.1 195.5 242.1 195.6 243.1 195.8 244.1 196.0 245.1 195.5 246.1 195.6 247.1 195.9 248.1 196.3 249.1 196.1 250.1 195.8 251.1 196.2 252.1 196.0 253.1 195.8 254.1 195.4 255.1 195.8 256.1 195.8 257.1 196.0 258.1 195.7 259.1 195.6 260.1 195.4 261.1 195.4 262.1 195.3 263.1 195.5 264.1 195.4 265.1 195.9 266.1 195.8 267.1 195.9 268.1 195.7 269.1 195.5 270.1 195.7 271.1 195.6 272.1 195.9 273.1 196.1 274.1 196.0 275.1 195.9 276.1 196.1 277.1 195.7 278.1 195.7 279.1 195.5 280.1 195.8 281.1 195.4 282.1 195.6 283.1 195.8 284.1 196.6 285.1 196.3 286.1 196.3 287.1 196.0 288.1 196.0 289.1 196.1 290.1 196.0 291.1 196.0 292.1 195.7 293.1 196.0 294.1 196.0 295.1 195.9 296.1 195.5 297.1 195.5 298.1 195.4 299.1 195.5 300.1 195.1 301.1 195.3 302.1 195.5 303.1 196.0 304.1 196.2 305.1 196.5 306.1 196.3 307.1 196.9 308.1 196.6 309.1 196.7 310.1 196.0 311.1 195.2 312.1 195.1 313.1 195.2 314.1 196.3 315.1 196.0 316.1 196.2 317.1 195.6 318.1 196.2 319.1 195.4 320.1 195.4 321.1 195.1 322.1 195.7 323.1 195.7 324.1 195.3 325.1 195.3 326.1 195.6 327.1 196.1 328.1 196.2 329.1 196.3 330.1 196.2 331.1 195.6" fill="none" stroke="#1a1a1a" stroke-width="1.05" stroke-linejoin="round"/>
<path d="M43.0 198.9 43.7 202.7 44.4 205.4 45.1 207.9 45.8 210.2 46.5 212.4 47.2 214.2 47.9 216.2 48.6 217.9 49.3 219.5 50.0 220.5 50.7 221.7 51.4 223.1 52.1 224.4 52.8 225.5 53.5 226.4 54.2 227.2 54.9 227.9 55.6 228.8 56.3 229.6 57.0 230.6 57.7 231.0 58.4 231.5 59.1 231.8 59.8 232.3 60.5 232.6 61.2 232.8 61.9 233.2 62.6 233.8 63.3 234.1 64.0 234.5 64.7 234.8 65.4 235.1 66.1 235.2 66.8 235.2 67.5 235.4 68.2 235.6 68.9 235.8 69.6 235.9 70.3 235.8 71.0 235.8 71.7 235.7 72.4 235.8 73.1 236.0 73.8 236.3 74.5 236.3 75.2 236.3 75.9 236.3 76.6 236.4 77.3 236.2 78.0 236.0 78.7 235.9 79.4 235.8 80.1 235.8 80.8 235.9 81.5 235.9 82.2 235.9 82.9 235.7 83.6 235.7 84.3 235.4 85.0 235.3 85.7 235.2 86.4 235.2 87.1 235.3 87.8 235.3 88.5 235.2 89.2 235.0 89.9 234.6 90.6 234.5 91.3 234.3 92.0 234.5 92.7 234.4 93.4 234.5 94.1 234.4 94.8 234.4 95.5 234.2 96.2 234.0 96.9 233.9 97.6 233.8 98.3 233.6 99.0 233.5 99.7 233.6 100.4 233.6 101.1 233.4 101.8 232.9 102.5 232.7 103.2 232.7 103.9 232.7 104.6 232.8 105.3 232.8 106.0 232.9 106.7 232.7 107.4 232.5 108.1 232.2 108.8 232.3 109.5 232.1 110.2 232.0 110.9 232.0 111.6 231.9 112.3 231.9 113.0 231.8 113.7 231.7 114.4 231.6 115.1 231.4 115.8 231.4 116.5 231.4 117.2 231.2 117.9 230.9 118.6 230.7 119.3 230.5 120.0 230.5 120.7 230.5 121.4 230.4 122.1 230.3 122.8 230.2 123.5 230.4 124.2 230.2 124.9 230.2 125.6 230.0 126.3 229.9 127.0 229.6 127.7 229.6 128.4 229.8 129.1 230.0 129.8 229.9 130.5 229.6 131.2 229.4 131.9 229.2 132.6 229.2 133.3 229.1 134.0 229.1 134.7 229.1 135.4 229.3 136.1 229.2 136.8 229.0 137.5 228.8 138.2 228.7 138.9 228.8 139.6 229.0 140.3 229.0 141.0 228.9 141.7 228.7 142.4 228.9 143.1 228.8 143.8 228.7 144.5 228.6 145.2 228.4 145.9 228.3 146.6 228.0 147.3 228.1 148.0 228.2 148.7 228.3 149.4 228.1 150.1 228.3 150.8 228.2 151.5 228.1 152.2 228.1 152.9 228.2 153.6 228.3 154.3 227.9 155.0 227.7 155.7 227.7 156.4 227.8 157.1 228.0 157.8 227.8 158.5 227.8 159.2 227.5 159.9 227.8 160.6 227.7 161.3 227.8 162.0 227.6 162.7 227.4 163.4 227.2 164.1 227.1 164.8 227.1 165.5 227.4 166.2 227.5 166.9 227.6 167.6 227.4 168.3 227.2 169.0 227.1 169.7 227.3 170.4 227.3 171.1 227.4 171.8 227.2 172.5 226.9 173.2 226.8 173.9 226.7 174.6 226.9 175.3 227.0 176.0 227.0 176.7 226.9 177.4 227.0 178.1 227.0 178.8 226.9 179.5 226.7 180.2 226.7 180.9 226.7 181.6 226.8 182.3 227.0 183.0 226.9 183.7 226.8 184.4 226.6 185.1 226.8 185.8 226.7 186.5 226.7 187.2 226.8 187.9 226.7 188.6 226.7 189.3 226.6 190.0 226.7 190.7 226.6 191.4 226.7 192.1 226.7 192.8 226.7 193.5 226.6 194.2 226.5 194.9 226.4 195.6 226.3 196.3 226.4 197.0 226.4 197.7 226.3 198.4 226.3 199.1 226.5 199.8 226.4 200.5 226.5 201.2 226.4 201.9 226.6 202.6 226.5 203.3 226.5 204.0 226.5 204.7 226.6 205.4 226.4 206.1 226.5 206.8 226.3 207.5 226.3 208.2 226.3 208.9 226.3 209.6 226.6 210.3 226.5 211.0 226.5 212.1 221.3 213.1 213.6 214.1 208.5 215.1 205.2 216.1 203.1 217.1 201.6 218.1 200.7 219.1 199.9 220.1 199.3 221.1 199.0 222.1 198.8 223.1 198.3 224.1 197.6 225.1 196.9 226.1 196.5 227.1 196.1 228.1 195.6 229.1 194.9 230.1 194.3 231.1 194.0 232.1 193.6 233.1 193.2 234.1 192.7 235.1 192.3 236.1 192.0 237.1 191.9 238.1 191.8 239.1 191.7 240.1 191.2 241.1 190.6 242.1 190.4 243.1 190.2 244.1 189.9 245.1 189.9 246.1 189.8 247.1 190.0 248.1 189.7 249.1 189.4 250.1 189.4 251.1 189.2 252.1 189.0 253.1 189.4 254.1 189.4 255.1 189.5 256.1 188.9 257.1 188.9 258.1 188.8 259.1 188.9 260.1 188.8 261.1 188.8 262.1 188.9 263.1 189.3 264.1 189.1 265.1 188.8 266.1 188.2 267.1 188.7 268.1 188.9 269.1 189.3 270.1 189.1 271.1 188.9 272.1 188.8 273.1 188.8 274.1 188.8 275.1 188.9 276.1 188.9 277.1 189.1 278.1 188.8 279.1 188.4 280.1 188.6 281.1 188.7 282.1 189.1 283.1 189.0 284.1 188.9 285.1 189.1 286.1 189.1 287.1 189.5 288.1 189.2 289.1 189.0 290.1 189.0 291.1 189.2 292.1 189.2 293.1 188.9 294.1 189.3 295.1 189.6 296.1 190.2 297.1 189.9 298.1 189.8 299.1 189.3 300.1 189.3 301.1 189.8 302.1 190.0 303.1 190.1 304.1 190.0 305.1 190.1 306.1 190.0 307.1 189.8 308.1 190.0 309.1 190.2 310.1 190.3 311.1 190.2 312.1 190.0 313.1 190.0 314.1 189.8 315.1 190.1 316.1 189.8 317.1 190.1 318.1 190.4 319.1 190.8 320.1 190.6 321.1 190.2 322.1 190.6 323.1 190.8 324.1 191.1 325.1 190.9 326.1 190.9 327.1 191.2 328.1 191.2 329.1 191.3 330.1 190.7 331.1 190.6" fill="none" stroke="#1a1a1a" stroke-width="1.05" stroke-linejoin="round"/>
<path d="M43.0 198.9 43.7 203.0 44.4 206.4 45.1 209.3 45.8 212.0 46.5 214.2 47.2 216.4 47.9 218.4 48.6 220.5 49.3 222.1 50.0 223.8 50.7 225.3 51.4 226.7 52.1 227.9 52.8 229.0 53.5 230.3 54.2 231.1 54.9 232.1 55.6 232.7 56.3 233.7 57.0 234.6 57.7 235.4 58.4 236.1 59.1 236.5 59.8 237.3 60.5 237.8 61.2 238.5 61.9 238.6 62.6 238.7 63.3 239.0 64.0 239.5 64.7 239.8 65.4 240.0 66.1 240.1 66.8 240.4 67.5 240.5 68.2 240.9 68.9 240.9 69.6 241.0 70.3 241.0 71.0 241.2 71.7 241.4 72.4 241.6 73.1 241.6 73.8 241.5 74.5 241.2 75.2 241.2 75.9 241.1 76.6 241.4 77.3 241.2 78.0 241.0 78.7 240.9 79.4 241.0 80.1 241.2 80.8 241.1 81.5 240.9 82.2 240.8 82.9 240.7 83.6 240.9 84.3 240.7 85.0 240.6 85.7 240.4 86.4 240.5 87.1 240.3 87.8 240.3 88.5 239.9 89.2 240.1 89.9 239.8 90.6 239.6 91.3 239.4 92.0 239.4 92.7 239.7 93.4 239.7 94.1 239.5 94.8 239.2 95.5 238.8 96.2 238.6 96.9 238.4 97.6 238.3 98.3 238.0 99.0 237.9 99.7 237.9 100.4 238.3 101.1 238.2 101.8 238.0 102.5 237.7 103.2 237.4 103.9 237.3 104.6 236.9 105.3 237.1 106.0 237.1 106.7 237.0 107.4 236.8 108.1 236.7 108.8 236.8 109.5 236.7 110.2 236.4 110.9 236.2 111.6 236.0 112.3 236.1 113.0 236.0 113.7 235.8 114.4 235.7 115.1 235.6 115.8 235.7 116.5 235.5 117.2 235.6 117.9 235.6 118.6 235.5 119.3 235.4 120.0 235.1 120.7 234.8 121.4 234.7 122.1 234.9 122.8 235.0 123.5 235.1 124.2 234.9 124.9 234.7 125.6 234.5 126.3 234.4 127.0 234.3 127.7 234.0 128.4 234.0 129.1 233.8 129.8 233.9 130.5 233.6 131.2 233.7 131.9 233.5 132.6 233.7 133.3 233.3 134.0 233.3 134.7 233.3 135.4 233.3 136.1 233.3 136.8 233.0 137.5 232.8 138.2 232.8 138.9 232.8 139.6 232.9 140.3 232.8 141.0 232.7 141.7 232.6 142.4 232.5 143.1 232.5 143.8 232.7 144.5 232.5 145.2 232.6 145.9 232.4 146.6 232.3 147.3 232.0 148.0 231.9 148.7 232.0 149.4 232.2 150.1 232.2 150.8 232.2 151.5 232.0 152.2 231.5 152.9 231.6 153.6 231.5 154.3 231.8 155.0 231.8 155.7 231.7 156.4 231.8 157.1 231.8 157.8 232.0 158.5 231.7 159.2 231.5 159.9 231.3 160.6 231.3 161.3 231.2 162.0 231.3 162.7 231.3 163.4 231.5 164.1 231.3 164.8 231.4 165.5 231.4 166.2 231.1 166.9 230.9 167.6 230.8 168.3 231.2 169.0 231.2 169.7 231.1 170.4 230.9 171.1 231.0 171.8 230.9 172.5 230.9 173.2 230.7 173.9 230.8 174.6 230.8 175.3 230.7 176.0 230.7 176.7 230.6 177.4 230.8 178.1 230.8 178.8 230.9 179.5 231.0 180.2 230.9 180.9 230.7 181.6 230.4 182.3 230.6 183.0 230.7 183.7 230.9 184.4 230.7 185.1 230.4 185.8 230.4 186.5 230.4 187.2 230.7 187.9 230.5 188.6 230.5 189.3 230.5 190.0 230.4 190.7 230.4 191.4 230.3 192.1 230.4 192.8 230.4 193.5 230.5 194.2 230.5 194.9 230.2 195.6 230.1 196.3 230.1 197.0 230.3 197.7 230.1 198.4 230.0 199.1 229.9 199.8 230.0 200.5 230.1 201.2 230.4 201.9 230.3 202.6 230.2 203.3 230.1 204.0 230.1 204.7 230.1 205.4 230.2 206.1 230.3 206.8 230.4 207.5 230.1 208.2 230.1 208.9 229.8 209.6 229.8 210.3 229.9 211.0 230.3 212.1 224.5 213.1 215.6 214.1 209.8 215.1 206.0 216.1 203.5 217.1 201.9 218.1 200.6 219.1 199.8 220.1 199.2 221.1 198.8 222.1 198.6 223.1 198.1 224.1 197.2 225.1 196.5 226.1 195.7 227.1 195.0 228.1 194.3 229.1 193.6 230.1 192.9 231.1 192.4 232.1 191.8 233.1 191.2 234.1 190.6 235.1 190.2 236.1 190.0 237.1 189.4 238.1 189.1 239.1 189.0 240.1 189.3 241.1 189.0 242.1 188.8 243.1 188.1 244.1 187.9 245.1 187.3 246.1 187.4 247.1 187.3 248.1 187.6 249.1 187.2 250.1 187.2 251.1 186.7 252.1 186.8 253.1 186.5 254.1 186.3 255.1 186.3 256.1 186.3 257.1 186.3 258.1 186.4 259.1 186.4 260.1 186.4 261.1 186.1 262.1 186.0 263.1 185.9 264.1 186.0 265.1 186.1 266.1 186.3 267.1 185.9 268.1 185.6 269.1 185.5 270.1 186.2 271.1 186.5 272.1 186.8 273.1 186.7 274.1 186.7 275.1 186.5 276.1 186.2 277.1 186.0 278.1 186.1 279.1 186.3 280.1 186.5 281.1 186.6 282.1 186.6 283.1 186.6 284.1 186.6 285.1 186.7 286.1 186.8 287.1 186.8 288.1 186.6 289.1 186.8 290.1 186.8 291.1 187.2 292.1 187.1 293.1 187.5 294.1 187.3 295.1 187.3 296.1 187.0 297.1 187.1 298.1 187.1 299.1 187.5 300.1 187.7 301.1 187.9 302.1 187.6 303.1 187.7 304.1 187.9 305.1 187.9 306.1 187.7 307.1 187.7 308.1 187.7 309.1 187.9 310.1 188.2 311.1 187.8 312.1 188.0 313.1 188.3 314.1 188.9 315.1 188.6 316.1 188.2 317.1 188.1 318.1 188.0 319.1 188.3 320.1 188.2 321.1 188.5 322.1 188.8 323.1 188.6 324.1 188.6 325.1 188.0 326.1 188.1 327.1 188.1 328.1 188.3 329.1 188.6 330.1 188.4 331.1 188.7" fill="none" stroke="#1a1a1a" stroke-width="1.05" stroke-linejoin="round"/>
<path d="M43.0 199.1 43.7 203.8 44.4 207.4 45.1 210.8 45.8 213.8 46.5 216.8 47.2 219.5 47.9 221.8 48.6 223.9 49.3 225.8 50.0 227.4 50.7 228.9 51.4 230.2 52.1 231.7 52.8 233.2 53.5 234.5 54.2 235.9 54.9 237.0 55.6 238.1 56.3 238.8 57.0 239.5 57.7 240.2 58.4 240.9 59.1 241.5 59.8 242.1 60.5 242.7 61.2 243.4 61.9 243.9 62.6 244.2 63.3 244.4 64.0 244.5 64.7 245.0 65.4 245.1 66.1 245.5 66.8 245.7 67.5 246.1 68.2 246.2 68.9 246.1 69.6 246.3 70.3 246.4 71.0 246.8 71.7 246.7 72.4 246.8 73.1 246.9 73.8 246.9 74.5 247.0 75.2 246.6 75.9 246.7 76.6 246.5 77.3 246.6 78.0 246.4 78.7 246.4 79.4 246.6 80.1 246.3 80.8 246.2 81.5 245.8 82.2 246.1 82.9 245.9 83.6 245.9 84.3 245.7 85.0 245.7 85.7 245.6 86.4 245.5 87.1 245.3 87.8 244.9 88.5 244.9 89.2 244.8 89.9 244.8 90.6 244.8 91.3 244.3 92.0 244.1 92.7 243.7 93.4 243.7 94.1 243.8 94.8 243.8 95.5 243.7 96.2 243.6 96.9 243.4 97.6 243.2 98.3 242.8 99.0 243.0 99.7 242.7 100.4 242.7 101.1 242.5 101.8 242.6 102.5 242.4 103.2 242.2 103.9 242.1 104.6 242.1 105.3 241.9 106.0 241.8 106.7 241.6 107.4 241.6 108.1 241.6 108.8 241.4 109.5 241.0 110.2 240.8 110.9 240.9 111.6 241.0 112.3 240.8 113.0 240.8 113.7 240.5 114.4 240.4 115.1 240.0 115.8 240.0 116.5 239.8 117.2 239.9 117.9 239.7 118.6 239.6 119.3 239.1 120.0 239.2 120.7 239.1 121.4 239.2 122.1 238.9 122.8 238.8 123.5 238.8 124.2 238.8 124.9 238.8 125.6 238.7 126.3 238.6 127.0 238.2 127.7 238.2 128.4 238.2 129.1 238.3 129.8 237.9 130.5 237.7 131.2 237.3 131.9 237.3 132.6 237.5 133.3 237.7 134.0 237.7 134.7 237.5 135.4 237.5 136.1 237.4 136.8 237.3 137.5 237.2 138.2 236.9 138.9 236.8 139.6 236.8 140.3 237.0 141.0 236.9 141.7 236.7 142.4 236.6 143.1 236.6 143.8 236.6 144.5 236.5 145.2 236.0 145.9 235.9 146.6 235.8 147.3 235.8 148.0 235.9 148.7 236.1 149.4 236.1 150.1 236.0 150.8 236.0 151.5 236.0 152.2 236.0 152.9 235.7 153.6 235.6 154.3 235.3 155.0 235.3 155.7 235.5 156.4 235.5 157.1 235.4 157.8 235.2 158.5 235.3 159.2 235.3 159.9 235.5 160.6 235.3 161.3 235.2 162.0 235.0 162.7 235.1 163.4 235.1 164.1 235.1 164.8 235.2 165.5 235.2 166.2 235.2 166.9 235.1 167.6 235.1 168.3 234.9 169.0 234.6 169.7 234.7 170.4 234.8 171.1 234.9 171.8 234.8 172.5 234.9 173.2 234.9 173.9 234.8 174.6 234.6 175.3 234.5 176.0 234.7 176.7 234.6 177.4 234.5 178.1 234.4 178.8 234.2 179.5 234.2 180.2 234.2 180.9 234.4 181.6 234.3 182.3 234.3 183.0 234.1 183.7 234.1 184.4 234.2 185.1 234.2 185.8 234.3 186.5 234.1 187.2 234.1 187.9 233.9 188.6 233.9 189.3 233.9 190.0 234.1 190.7 234.1 191.4 234.1 192.1 234.1 192.8 234.1 193.5 234.2 194.2 234.2 194.9 234.1 195.6 234.0 196.3 234.0 197.0 233.9 197.7 234.0 198.4 234.0 199.1 234.1 199.8 234.0 200.5 233.8 201.2 233.7 201.9 233.7 202.6 233.9 203.3 233.9 204.0 233.8 204.7 233.8 205.4 233.8 206.1 233.8 206.8 233.8 207.5 234.0 208.2 234.1 208.9 233.9 209.6 233.7 210.3 233.7 211.0 233.6 212.1 227.4 213.1 217.6 214.1 211.1 215.1 207.0 216.1 204.2 217.1 202.2 218.1 200.8 219.1 199.8 220.1 199.3 221.1 199.0 222.1 198.9 223.1 198.0 224.1 196.7 225.1 195.5 226.1 194.3 227.1 193.1 228.1 192.1 229.1 191.3 230.1 190.6 231.1 190.0 232.1 189.4 233.1 188.8 234.1 188.1 235.1 187.3 236.1 186.8 237.1 186.3 238.1 186.0 239.1 185.6 240.1 185.3 241.1 185.2 242.1 185.1 243.1 184.9 244.1 184.7 245.1 184.2 246.1 184.1 247.1 183.6 248.1 183.5 249.1 183.2 250.1 183.1 251.1 182.9 252.1 182.8 253.1 183.0 254.1 183.1 255.1 182.6 256.1 182.5 257.1 182.6 258.1 183.2 259.1 183.6 260.1 183.4 261.1 183.0 262.1 182.5 263.1 182.5 264.1 182.9 265.1 182.9 266.1 182.8 267.1 182.7 268.1 182.6 269.1 182.7 270.1 182.9 271.1 183.6 272.1 183.6 273.1 183.6 274.1 183.0 275.1 183.1 276.1 182.4 277.1 182.8 278.1 183.0 279.1 183.8 280.1 183.7 281.1 183.7 282.1 183.1 283.1 183.4 284.1 183.4 285.1 183.6 286.1 183.0 287.1 183.3 288.1 183.7 289.1 184.1 290.1 183.9 291.1 183.9 292.1 184.1 293.1 184.3 294.1 184.5 295.1 184.5 296.1 184.4 297.1 184.0 298.1 183.6 299.1 183.5 300.1 183.9 301.1 184.5 302.1 184.5 303.1 184.4 304.1 184.1 305.1 184.4 306.1 184.7 307.1 185.2 308.1 185.0 309.1 185.0 310.1 185.3 311.1 185.6 312.1 185.6 313.1 185.0 314.1 184.9 315.1 185.0 316.1 185.4 317.1 185.6 318.1 185.5 319.1 185.5 320.1 185.8 321.1 186.3 322.1 186.3 323.1 185.9 324.1 185.7 325.1 186.0 326.1 186.5 327.1 186.5 328.1 186.8 329.1 186.8 330.1 186.8 331.1 186.1" fill="none" stroke="#1a1a1a" stroke-width="1.05" stroke-linejoin="round"/>
<path d="M43.0 198.6 43.7 204.3 44.4 208.5 45.1 212.5 45.8 215.7 46.5 218.8 47.2 221.4 47.9 224.0 48.6 226.4 49.3 228.7 50.0 230.8 50.7 232.8 51.4 234.4 52.1 236.1 52.8 237.3 53.5 238.5 54.2 239.6 54.9 240.8 55.6 242.0 56.3 243.2 57.0 243.9 57.7 244.6 58.4 245.1 59.1 246.2 59.8 246.9 60.5 247.7 61.2 248.0 61.9 248.6 62.6 249.1 63.3 249.6 64.0 249.7 64.7 250.1 65.4 250.5 66.1 251.0 66.8 251.2 67.5 251.3 68.2 251.4 68.9 251.5 69.6 251.7 70.3 251.8 71.0 251.8 71.7 251.8 72.4 251.9 73.1 252.1 73.8 252.1 74.5 252.2 75.2 252.0 75.9 251.9 76.6 251.9 77.3 251.9 78.0 251.7 78.7 251.6 79.4 251.6 80.1 251.6 80.8 251.4 81.5 251.2 82.2 251.0 82.9 250.8 83.6 250.8 84.3 250.7 85.0 250.5 85.7 250.3 86.4 250.3 87.1 250.2 87.8 250.3 88.5 250.1 89.2 249.8 89.9 249.4 90.6 249.3 91.3 249.5 92.0 249.5 92.7 249.3 93.4 249.1 94.1 248.8 94.8 248.8 95.5 248.5 96.2 248.5 96.9 248.3 97.6 248.2 98.3 248.0 99.0 247.7 99.7 247.5 100.4 247.5 101.1 247.8 101.8 247.8 102.5 247.5 103.2 246.8 103.9 246.7 104.6 246.4 105.3 246.3 106.0 246.1 106.7 246.0 107.4 246.1 108.1 246.0 108.8 245.9 109.5 245.6 110.2 245.2 110.9 245.0 111.6 244.9 112.3 245.0 113.0 245.0 113.7 244.9 114.4 244.6 115.1 244.5 115.8 244.2 116.5 244.1 117.2 244.1 117.9 244.3 118.6 244.1 119.3 243.8 120.0 243.7 120.7 243.8 121.4 243.6 122.1 243.3 122.8 243.0 123.5 243.2 124.2 243.1 124.9 243.0 125.6 242.7 126.3 243.0 127.0 242.9 127.7 242.8 128.4 242.4 129.1 242.4 129.8 242.3 130.5 242.2 131.2 242.0 131.9 241.7 132.6 241.6 133.3 241.4 134.0 241.3 134.7 241.2 135.4 241.2 136.1 241.3 136.8 241.4 137.5 241.4 138.2 241.1 138.9 241.0 139.6 240.8 140.3 240.6 141.0 240.5 141.7 240.7 142.4 241.0 143.1 240.8 143.8 240.5 144.5 240.3 145.2 240.3 145.9 240.3 146.6 240.2 147.3 239.9 148.0 239.8 148.7 239.9 149.4 240.1 150.1 240.0 150.8 239.8 151.5 239.6 152.2 239.7 152.9 239.6 153.6 239.6 154.3 239.3 155.0 239.2 155.7 239.2 156.4 239.5 157.1 239.5 157.8 239.3 158.5 239.2 159.2 239.3 159.9 239.2 160.6 239.2 161.3 239.2 162.0 239.3 162.7 239.3 163.4 239.2 164.1 239.0 164.8 238.9 165.5 238.8 166.2 238.6 166.9 238.7 167.6 238.6 168.3 238.8 169.0 238.7 169.7 238.8 170.4 238.7 171.1 238.7 171.8 238.8 172.5 238.7 173.2 238.6 173.9 238.4 174.6 238.6 175.3 238.7 176.0 238.6 176.7 238.3 177.4 238.1 178.1 238.2 178.8 238.2 179.5 238.5 180.2 238.3 180.9 238.3 181.6 238.1 182.3 238.2 183.0 238.0 183.7 237.9 184.4 238.0 185.1 238.1 185.8 237.9 186.5 238.0 187.2 237.9 187.9 238.2 188.6 238.1 189.3 238.2 190.0 238.1 190.7 238.1 191.4 238.0 192.1 237.8 192.8 237.8 193.5 237.8 194.2 238.1 194.9 237.8 195.6 237.7 196.3 237.5 197.0 237.6 197.7 237.6 198.4 237.7 199.1 237.9 199.8 237.9 200.5 237.8 201.2 237.7 201.9 237.9 202.6 237.8 203.3 237.6 204.0 237.5 204.7 237.3 205.4 237.4 206.1 237.5 206.8 237.7 207.5 237.6 208.2 237.3 208.9 237.1 209.6 237.1 210.3 237.4 211.0 237.4 212.1 230.4 213.1 219.7 214.1 212.4 215.1 207.7 216.1 204.6 217.1 202.4 218.1 201.0 219.1 200.0 220.1 199.5 221.1 199.2 222.1 198.9 223.1 197.7 224.1 196.2 225.1 194.7 226.1 193.3 227.1 191.7 228.1 190.3 229.1 189.4 230.1 188.6 231.1 187.9 232.1 186.8 233.1 186.0 234.1 185.3 235.1 184.8 236.1 184.5 237.1 183.9 238.1 183.2 239.1 182.6 240.1 182.2 241.1 182.2 242.1 182.1 243.1 182.0 244.1 181.9 245.1 181.4 246.1 181.1 247.1 180.9 248.1 180.8 249.1 180.9 250.1 180.8 251.1 180.6 252.1 180.2 253.1 180.0 254.1 179.8 255.1 180.1 256.1 180.0 257.1 180.2 258.1 179.9 259.1 180.0 260.1 180.0 261.1 180.0 262.1 180.0 263.1 179.7 264.1 180.0 265.1 179.9 266.1 180.1 267.1 180.2 268.1 180.4 269.1 180.2 270.1 180.1 271.1 180.3 272.1 180.6 273.1 180.7 274.1 180.6 275.1 180.8 276.1 180.6 277.1 180.7 278.1 180.6 279.1 180.7 280.1 180.8 281.1 181.1 282.1 181.1 283.1 181.0 284.1 181.0 285.1 180.9 286.1 180.9 287.1 180.8 288.1 181.0 289.1 181.2 290.1 181.4 291.1 181.2 292.1 181.3 293.1 181.3 294.1 181.5 295.1 181.5 296.1 181.4 297.1 182.2 298.1 182.1 299.1 182.3 300.1 182.1 301.1 182.2 302.1 182.4 303.1 182.7 304.1 182.9 305.1 183.0 306.1 182.9 307.1 182.7 308.1 183.0 309.1 183.1 310.1 183.5 311.1 183.2 312.1 183.2 313.1 183.2 314.1 183.4 315.1 183.7 316.1 183.7 317.1 183.8 318.1 183.5 319.1 183.6 320.1 183.9 321.1 183.9 322.1 184.2 323.1 184.3 324.1 184.2 325.1 183.8 326.1 183.5 327.1 183.8 328.1 184.2 329.1 184.5 330.1 184.4 331.1 184.2" fill="none" stroke="#1a1a1a" stroke-width="1.05" stroke-linejoin="round"/>
<path d="M43.0 198.8 43.7 204.9 44.4 209.5 45.1 213.8 45.8 217.5 46.5 221.2 47.2 224.1 47.9 226.8 48.6 229.3 49.3 231.8 50.0 234.2 50.7 236.3 51.4 238.3 52.1 240.2 52.8 241.7 53.5 243.0 54.2 244.4 54.9 245.7 55.6 247.1 56.3 248.2 57.0 249.2 57.7 249.9 58.4 250.6 59.1 251.3 59.8 252.0 60.5 252.5 61.2 253.3 61.9 253.9 62.6 254.4 63.3 254.7 64.0 255.0 64.7 255.5 65.4 255.6 66.1 256.0 66.8 256.1 67.5 256.4 68.2 256.7 68.9 257.0 69.6 257.2 70.3 257.2 71.0 257.1 71.7 257.3 72.4 257.3 73.1 257.4 73.8 257.5 74.5 257.6 75.2 257.7 75.9 257.5 76.6 257.3 77.3 257.1 78.0 257.1 78.7 256.9 79.4 257.0 80.1 256.8 80.8 256.9 81.5 256.6 82.2 256.4 82.9 256.3 83.6 256.2 84.3 256.1 85.0 255.7 85.7 255.7 86.4 255.4 87.1 255.3 87.8 254.9 88.5 254.7 89.2 254.9 89.9 254.7 90.6 254.6 91.3 254.3 92.0 254.5 92.7 254.3 93.4 254.5 94.1 254.0 94.8 253.8 95.5 253.3 96.2 253.3 96.9 253.1 97.6 252.9 98.3 252.6 99.0 252.2 99.7 252.0 100.4 251.9 101.1 251.7 101.8 251.6 102.5 251.5 103.2 251.5 103.9 251.3 104.6 251.1 105.3 250.9 106.0 250.8 106.7 250.7 107.4 250.6 108.1 250.5 108.8 250.5 109.5 250.3 110.2 250.2 110.9 250.2 111.6 250.0 112.3 249.7 113.0 249.5 113.7 249.3 114.4 249.2 115.1 248.9 115.8 248.8 116.5 248.6 117.2 248.3 117.9 248.2 118.6 247.9 119.3 248.1 120.0 248.2 120.7 248.4 121.4 248.1 122.1 247.9 122.8 247.8 123.5 247.7 124.2 247.6 124.9 247.3 125.6 247.1 126.3 246.8 127.0 246.7 127.7 246.4 128.4 246.4 129.1 246.5 129.8 246.4 130.5 246.4 131.2 246.4 131.9 246.4 132.6 246.1 133.3 245.8 134.0 245.8 134.7 245.8 135.4 245.6 136.1 245.4 136.8 245.1 137.5 245.2 138.2 245.2 138.9 245.3 139.6 245.3 140.3 245.2 141.0 245.1 141.7 245.0 142.4 244.8 143.1 244.6 143.8 244.5 144.5 244.6 145.2 244.7 145.9 244.7 146.6 244.4 147.3 244.1 148.0 244.0 148.7 244.1 149.4 244.2 150.1 244.1 150.8 243.8 151.5 243.8 152.2 243.8 152.9 243.8 153.6 243.7 154.3 243.8 155.0 243.7 155.7 243.8 156.4 243.7 157.1 243.7 157.8 243.5 158.5 243.3 159.2 243.2 159.9 243.0 160.6 242.9 161.3 243.0 162.0 243.0 162.7 243.1 163.4 243.0 164.1 242.7 164.8 242.6 165.5 242.3 166.2 242.6 166.9 242.4 167.6 242.6 168.3 242.6 169.0 242.5 169.7 242.5 170.4 242.3 171.1 242.2 171.8 242.2 172.5 242.2 173.2 242.3 173.9 242.1 174.6 242.4 175.3 242.4 176.0 242.3 176.7 241.8 177.4 241.8 178.1 241.9 178.8 241.9 179.5 241.8 180.2 241.9 180.9 241.8 181.6 241.8 182.3 241.6 183.0 241.6 183.7 241.8 184.4 241.9 185.1 241.9 185.8 241.8 186.5 241.7 187.2 241.9 187.9 241.8 188.6 241.8 189.3 241.7 190.0 241.6 190.7 241.6 191.4 241.5 192.1 241.5 192.8 241.5 193.5 241.6 194.2 241.7 194.9 241.6 195.6 241.5 196.3 241.6 197.0 241.5 197.7 241.5 198.4 241.3 199.1 241.4 199.8 241.5 200.5 241.4 201.2 241.4 201.9 241.5 202.6 241.4 203.3 241.3 204.0 241.2 204.7 241.1 205.4 241.1 206.1 241.0 206.8 241.1 207.5 241.2 208.2 241.5 208.9 241.5 209.6 241.3 210.3 241.2 211.0 241.0 212.1 233.5 213.1 221.7 214.1 213.8 215.1 208.6 216.1 205.1 217.1 202.8 218.1 201.3 219.1 200.4 220.1 199.8 221.1 199.3 222.1 198.9 223.1 197.3 224.1 195.2 225.1 193.2 226.1 191.5 227.1 189.9 228.1 188.5 229.1 187.0 230.1 186.0 231.1 185.0 232.1 184.0 233.1 183.3 234.1 182.7 235.1 181.9 236.1 180.8 237.1 180.1 238.1 179.7 239.1 179.5 240.1 178.8 241.1 178.7 242.1 178.3 243.1 178.2 244.1 177.5 245.1 177.4 246.1 177.3 247.1 177.4 248.1 177.2 249.1 177.4 250.1 177.2 251.1 177.3 252.1 176.7 253.1 176.7 254.1 176.5 255.1 176.6 256.1 176.8 257.1 176.5 258.1 176.7 259.1 176.4 260.1 176.6 261.1 176.7 262.1 176.9 263.1 177.0 264.1 177.5 265.1 177.4 266.1 177.3 267.1 177.1 268.1 177.3 269.1 177.7 270.1 178.0 271.1 177.9 272.1 177.9 273.1 177.7 274.1 177.9 275.1 177.9 276.1 177.4 277.1 177.3 278.1 177.5 279.1 177.7 280.1 177.9 281.1 177.9 282.1 178.4 283.1 179.0 284.1 178.7 285.1 178.6 286.1 178.3 287.1 178.5 288.1 178.7 289.1 179.0 290.1 179.6 291.1 179.8 292.1 179.2 293.1 179.0 294.1 179.0 295.1 179.3 296.1 179.3 297.1 179.8 298.1 179.9 299.1 180.0 300.1 179.9 301.1 179.9 302.1 180.0 303.1 179.9 304.1 180.2 305.1 180.4 306.1 180.3 307.1 180.3 308.1 180.4 309.1 180.5 310.1 180.8 311.1 180.9 312.1 181.0 313.1 180.9 314.1 181.3 315.1 181.9 316.1 182.1 317.1 181.8 318.1 181.3 319.1 181.1 320.1 181.1 321.1 181.4 322.1 181.6 323.1 181.8 324.1 182.0 325.1 182.0 326.1 182.1 327.1 182.2 328.1 182.2 329.1 182.4 330.1 182.0 331.1 182.1" fill="none" stroke="#1a1a1a" stroke-width="1.05" stroke-linejoin="round"/>
<path d="M43.0 199.2 43.7 205.8 44.4 210.7 45.1 215.3 45.8 219.5 46.5 223.2 47.2 226.7 47.9 229.7 48.6 232.8 49.3 235.3 50.0 237.7 50.7 239.8 51.4 242.1 52.1 244.0 52.8 245.8 53.5 247.4 54.2 249.0 54.9 250.4 55.6 251.8 56.3 252.7 57.0 253.9 57.7 254.8 58.4 255.6 59.1 256.5 59.8 257.1 60.5 258.0 61.2 258.5 61.9 259.1 62.6 259.5 63.3 260.0 64.0 260.3 64.7 260.6 65.4 261.2 66.1 261.4 66.8 261.7 67.5 261.8 68.2 262.1 68.9 262.4 69.6 262.7 70.3 262.7 71.0 262.7 71.7 262.7 72.4 262.8 73.1 263.0 73.8 262.9 74.5 262.6 75.2 262.7 75.9 262.8 76.6 263.0 77.3 262.7 78.0 262.5 78.7 262.2 79.4 262.1 80.1 262.0 80.8 261.9 81.5 261.6 82.2 261.5 82.9 261.5 83.6 261.4 84.3 261.3 85.0 260.9 85.7 260.7 86.4 260.5 87.1 260.4 87.8 260.1 88.5 260.0 89.2 259.8 89.9 259.9 90.6 259.6 91.3 259.6 92.0 259.3 92.7 259.0 93.4 258.7 94.1 258.5 94.8 258.6 95.5 258.3 96.2 258.1 96.9 258.0 97.6 258.0 98.3 257.9 99.0 257.7 99.7 257.4 100.4 257.3 101.1 257.1 101.8 256.9 102.5 256.6 103.2 256.3 103.9 256.4 104.6 256.2 105.3 256.0 106.0 255.5 106.7 255.3 107.4 255.2 108.1 254.9 108.8 254.6 109.5 254.4 110.2 254.2 110.9 254.2 111.6 254.1 112.3 254.2 113.0 254.2 113.7 254.0 114.4 253.7 115.1 253.3 115.8 253.0 116.5 252.9 117.2 252.6 117.9 252.6 118.6 252.4 119.3 252.6 120.0 252.4 120.7 252.3 121.4 252.0 122.1 251.8 122.8 251.5 123.5 251.5 124.2 251.5 124.9 251.6 125.6 251.5 126.3 251.1 127.0 251.1 127.7 250.9 128.4 251.0 129.1 250.7 129.8 250.6 130.5 250.5 131.2 250.4 131.9 250.4 132.6 250.2 133.3 250.1 134.0 249.9 134.7 249.8 135.4 249.7 136.1 249.6 136.8 249.4 137.5 249.2 138.2 249.0 138.9 248.9 139.6 249.0 140.3 249.1 141.0 248.9 141.7 248.8 142.4 248.4 143.1 248.4 143.8 248.2 144.5 248.1 145.2 248.0 145.9 247.9 146.6 248.1 147.3 248.2 148.0 248.0 148.7 248.2 149.4 248.1 150.1 248.0 150.8 247.9 151.5 247.9 152.2 247.9 152.9 247.8 153.6 247.7 154.3 247.7 155.0 247.5 155.7 247.4 156.4 247.3 157.1 247.3 157.8 247.2 158.5 247.0 159.2 247.0 159.9 247.0 160.6 247.0 161.3 246.9 162.0 246.9 162.7 246.7 163.4 246.7 164.1 246.7 164.8 246.9 165.5 246.9 166.2 246.8 166.9 246.8 167.6 246.7 168.3 246.6 169.0 246.7 169.7 246.6 170.4 246.7 171.1 246.7 171.8 246.5 172.5 246.3 173.2 246.2 173.9 246.1 174.6 246.2 175.3 246.1 176.0 246.1 176.7 246.1 177.4 246.0 178.1 245.9 178.8 245.8 179.5 245.8 180.2 245.7 180.9 245.5 181.6 245.5 182.3 245.6 183.0 245.7 183.7 245.9 184.4 246.0 185.1 245.9 185.8 245.8 186.5 245.8 187.2 245.6 187.9 245.6 188.6 245.4 189.3 245.4 190.0 245.3 190.7 245.2 191.4 245.1 192.1 245.0 192.8 245.1 193.5 245.1 194.2 245.2 194.9 245.2 195.6 245.2 196.3 245.1 197.0 245.1 197.7 244.8 198.4 244.6 199.1 244.4 199.8 244.7 200.5 244.7 201.2 245.0 201.9 244.9 202.6 245.0 203.3 245.1 204.0 245.2 204.7 245.3 205.4 245.4 206.1 245.2 206.8 245.0 207.5 244.8 208.2 244.7 208.9 244.6 209.6 244.4 210.3 244.7 211.0 244.7 212.1 236.4 213.1 223.5 214.1 215.0 215.1 209.3 216.1 205.5 217.1 203.0 218.1 201.5 219.1 200.6 220.1 200.0 221.1 199.6 222.1 199.1 223.1 198.5 224.1 197.5 225.1 196.7 226.1 195.8 227.1 195.0 228.1 194.4 229.1 193.8 230.1 193.2 231.1 192.2 232.1 191.2 233.1 190.3 234.1 189.5 235.1 188.9 236.1 188.1 237.1 187.4 238.1 186.5 239.1 185.5 240.1 184.4 241.1 183.2 242.1 182.4 243.1 182.1 244.1 181.4 245.1 180.4 246.1 179.4 247.1 178.3 248.1 177.5 249.1 176.4 250.1 175.3 251.1 174.5 252.1 173.6 253.1 172.8 254.1 171.4 255.1 170.6 256.1 170.0 257.1 169.3 258.1 168.2 259.1 167.2 260.1 166.1 261.1 164.9 262.1 164.2 263.1 164.1 264.1 164.8 265.1 165.4 266.1 166.5 267.1 167.4 268.1 168.2 269.1 169.2 270.1 170.3 271.1 171.8 272.1 172.9 273.1 173.7 274.1 173.6 275.1 173.9 276.1 174.2 277.1 175.2 278.1 175.5 279.1 176.1 280.1 176.5 281.1 176.8 282.1 176.9 283.1 177.0 284.1 177.1 285.1 177.4 286.1 177.5 287.1 177.4 288.1 177.1 289.1 177.2 290.1 177.4 291.1 177.8 292.1 177.6 293.1 178.3 294.1 178.3 295.1 178.4 296.1 178.1 297.1 178.1 298.1 178.4 299.1 178.3 300.1 178.2 301.1 178.3 302.1 178.3 303.1 178.4 304.1 178.4 305.1 178.7 306.1 178.4 307.1 178.2 308.1 178.4 309.1 178.6 310.1 178.4 311.1 178.7 312.1 178.6 313.1 179.0 314.1 178.6 315.1 179.2 316.1 179.0 317.1 179.2 318.1 178.8 319.1 179.1 320.1 179.0 321.1 179.5 322.1 179.2 323.1 179.3 324.1 179.0 325.1 179.0 326.1 178.8 327.1 178.8 328.1 178.7 329.1 178.5 330.1 178.5 331.1 178.6" fill="none" stroke="#1a1a1a" stroke-width="1.05" stroke-linejoin="round"/>
<path d="M43.0 199.0 43.7 206.3 44.4 212.2 45.1 217.1 45.8 221.6 46.5 225.6 47.2 229.4 47.9 233.0 48.6 236.2 49.3 239.0 50.0 241.5 50.7 243.6 51.4 245.9 52.1 248.1 52.8 250.1 53.5 251.9 54.2 253.6 54.9 255.1 55.6 256.5 56.3 257.7 57.0 258.7 57.7 259.6 58.4 260.5 59.1 261.6 59.8 262.4 60.5 263.1 61.2 263.7 61.9 264.4 62.6 265.0 63.3 265.7 64.0 266.2 64.7 266.6 65.4 266.9 66.1 267.1 66.8 267.4 67.5 267.7 68.2 267.6 68.9 267.8 69.6 267.8 70.3 268.3 71.0 268.2 71.7 268.3 72.4 268.3 73.1 268.4 73.8 268.1 74.5 268.0 75.2 267.8 75.9 268.1 76.6 267.9 77.3 268.1 78.0 268.0 78.7 267.9 79.4 267.5 80.1 267.3 80.8 267.2 81.5 267.3 82.2 267.2 82.9 267.1 83.6 266.7 84.3 266.6 85.0 266.5 85.7 266.3 86.4 266.2 87.1 265.9 87.8 265.6 88.5 265.2 89.2 264.7 89.9 264.8 90.6 264.7 91.3 264.6 92.0 264.4 92.7 264.2 93.4 264.0 94.1 263.7 94.8 263.6 95.5 263.3 96.2 263.3 96.9 262.9 97.6 262.7 98.3 262.4 99.0 262.3 99.7 261.9 100.4 261.7 101.1 261.3 101.8 261.2 102.5 261.1 103.2 260.9 103.9 260.8 104.6 260.5 105.3 260.6 106.0 260.4 106.7 260.1 107.4 259.6 108.1 259.3 108.8 259.3 109.5 259.2 110.2 259.2 110.9 259.0 111.6 258.9 112.3 258.6 113.0 258.4 113.7 258.2 114.4 258.1 115.1 258.0 115.8 257.8 116.5 257.4 117.2 257.0 117.9 257.0 118.6 256.7 119.3 256.6 120.0 256.5 120.7 256.5 121.4 256.3 122.1 256.3 122.8 256.3 123.5 256.3 124.2 256.1 124.9 255.9 125.6 255.7 126.3 255.7 127.0 255.4 127.7 255.3 128.4 254.8 129.1 254.8 129.8 254.5 130.5 254.5 131.2 254.5 131.9 254.5 132.6 254.4 133.3 254.3 134.0 254.1 134.7 254.1 135.4 253.8 136.1 253.8 136.8 253.6 137.5 253.5 138.2 253.4 138.9 253.2 139.6 253.0 140.3 253.0 141.0 253.0 141.7 252.8 142.4 252.6 143.1 252.4 143.8 252.5 144.5 252.5 145.2 252.5 145.9 252.3 146.6 252.2 147.3 252.0 148.0 251.7 148.7 251.6 149.4 251.5 150.1 251.6 150.8 251.4 151.5 251.5 152.2 251.4 152.9 251.5 153.6 251.3 154.3 251.3 155.0 251.0 155.7 251.0 156.4 251.1 157.1 251.3 157.8 251.4 158.5 251.3 159.2 251.2 159.9 250.9 160.6 250.8 161.3 250.7 162.0 250.6 162.7 250.7 163.4 250.5 164.1 250.6 164.8 250.4 165.5 250.5 166.2 250.3 166.9 250.2 167.6 250.1 168.3 250.0 169.0 250.0 169.7 250.0 170.4 250.0 171.1 250.0 171.8 249.9 172.5 249.9 173.2 249.8 173.9 249.9 174.6 249.8 175.3 249.8 176.0 249.6 176.7 249.5 177.4 249.4 178.1 249.4 178.8 249.6 179.5 249.7 180.2 249.6 180.9 249.5 181.6 249.2 182.3 249.0 183.0 248.8 183.7 248.9 184.4 248.9 185.1 248.8 185.8 248.9 186.5 249.0 187.2 248.9 187.9 249.1 188.6 249.2 189.3 249.3 190.0 249.1 190.7 248.9 191.4 249.1 192.1 248.9 192.8 248.8 193.5 248.6 194.2 248.6 194.9 248.9 195.6 248.7 196.3 248.7 197.0 248.5 197.7 248.7 198.4 248.9 199.1 248.9 199.8 249.0 200.5 248.8 201.2 248.8 201.9 248.6 202.6 248.6 203.3 248.6 204.0 248.4 204.7 248.4 205.4 248.3 206.1 248.2 206.8 248.1 207.5 248.2 208.2 248.1 208.9 248.5 209.6 248.6 210.3 248.9 211.0 248.6 212.1 239.4 213.1 225.5 214.1 216.3 215.1 210.3 216.1 206.3 217.1 203.6 218.1 201.8 219.1 200.6 220.1 199.8 221.1 199.3 222.1 198.9 223.5 197.9 224.5 196.8 225.5 195.8 226.5 194.7 227.5 193.5 228.5 192.4 229.5 191.2 230.5 190.0 231.5 188.8 232.5 187.6 233.5 186.4 234.5 185.2 235.5 184.0 236.5 182.8 237.5 181.5 238.5 180.3 239.5 179.0 240.5 177.7 241.5 176.5 242.5 175.2 243.5 173.9 244.5 172.7 245.5 171.4 246.5 170.1 247.5 168.8 249.1 164.5 249.8 158.0 M252.4 175.0 253.6 192.0 255.6 198.0 256.6 197.5 257.6 197.1 258.6 196.5 259.6 196.2 260.6 195.9 261.6 195.7 262.6 195.0 263.6 194.6 264.6 194.1 265.6 194.0 266.6 193.8 267.6 193.9 268.6 193.7 269.6 193.2 270.6 192.8 271.6 192.8 272.6 192.8 273.6 192.7 274.6 192.3 275.6 191.9 276.6 191.9 277.6 191.9 278.6 191.9 279.6 191.5 280.6 191.6 281.6 191.5 282.6 191.9 283.6 191.8 284.6 192.2 285.6 191.8 286.6 191.6 287.6 190.9 288.6 190.8 289.6 191.1 290.6 192.0 291.6 192.1 292.6 191.6 293.6 191.3 294.6 191.5 295.6 191.5 296.6 191.3 297.6 190.9 298.6 191.1 299.6 191.3 300.6 191.9 301.6 191.9 302.6 191.6 303.6 191.4 304.6 191.6 305.6 191.6 306.6 191.5 307.6 191.4 308.6 191.5 309.6 191.4 310.6 191.1 311.6 190.9 312.6 191.3 313.6 191.6 314.6 191.5 315.6 191.3 316.6 191.1 317.6 191.1 318.6 191.2 319.6 191.2 320.6 191.2 321.6 191.6 322.6 191.4 323.6 191.4 324.6 191.1 325.6 191.7 326.6 191.8 327.6 191.7 328.6 191.6 329.6 191.6 330.6 191.6 331.6 191.9" fill="none" stroke="#1a1a1a" stroke-width="1.05" stroke-linejoin="round"/>
<path d="M43.0 199.2 43.7 207.4 44.4 213.5 45.1 218.7 45.8 223.6 46.5 228.0 47.2 232.2 47.9 235.8 48.6 239.1 49.3 242.0 50.0 244.9 50.7 247.8 51.4 250.3 52.1 252.5 52.8 254.5 53.5 256.4 54.2 258.0 54.9 259.4 55.6 261.1 56.3 262.5 57.0 263.8 57.7 264.6 58.4 265.6 59.1 266.7 59.8 267.8 60.5 268.5 61.2 269.2 61.9 269.7 62.6 270.4 63.3 270.9 64.0 271.4 64.7 271.7 65.4 272.1 66.1 272.5 66.8 272.8 67.5 273.0 68.2 273.3 68.9 273.3 69.6 273.4 70.3 273.5 71.0 273.8 71.7 274.1 72.4 273.9 73.1 273.9 73.8 273.9 74.5 273.9 75.2 273.8 75.9 273.7 76.6 273.8 77.3 273.6 78.0 273.4 78.7 273.1 79.4 273.0 80.1 272.9 80.8 272.9 81.5 272.6 82.2 272.3 82.9 272.1 83.6 271.8 84.3 271.7 85.0 271.5 85.7 271.5 86.4 271.2 87.1 271.2 87.8 270.9 88.5 270.7 89.2 270.4 89.9 270.1 90.6 269.9 91.3 269.3 92.0 269.3 92.7 269.1 93.4 269.1 94.1 268.8 94.8 268.5 95.5 268.1 96.2 267.8 96.9 267.6 97.6 267.5 98.3 267.5 99.0 267.2 99.7 266.9 100.4 266.4 101.1 266.4 101.8 266.1 102.5 266.0 103.2 265.8 103.9 265.7 104.6 265.5 105.3 264.9 106.0 264.7 106.7 264.2 107.4 264.2 108.1 264.1 108.8 263.9 109.5 263.8 110.2 263.7 110.9 263.5 111.6 263.1 112.3 262.8 113.0 262.6 113.7 262.7 114.4 262.6 115.1 262.5 115.8 262.0 116.5 262.0 117.2 261.8 117.9 261.7 118.6 261.2 119.3 260.9 120.0 260.9 120.7 260.9 121.4 260.9 122.1 260.5 122.8 260.2 123.5 260.0 124.2 260.0 124.9 259.9 125.6 259.7 126.3 259.6 127.0 259.4 127.7 259.3 128.4 259.2 129.1 258.8 129.8 258.6 130.5 258.5 131.2 258.5 131.9 258.4 132.6 258.3 133.3 258.3 134.0 258.3 134.7 258.2 135.4 257.9 136.1 257.6 136.8 257.5 137.5 257.5 138.2 257.4 138.9 257.2 139.6 257.2 140.3 257.2 141.0 257.2 141.7 256.9 142.4 256.8 143.1 256.6 143.8 256.5 144.5 256.3 145.2 256.2 145.9 255.9 146.6 256.2 147.3 256.3 148.0 256.5 148.7 256.4 149.4 256.1 150.1 255.9 150.8 255.7 151.5 255.8 152.2 255.5 152.9 255.4 153.6 255.3 154.3 255.5 155.0 255.4 155.7 255.6 156.4 255.6 157.1 255.4 157.8 255.1 158.5 254.6 159.2 254.7 159.9 254.6 160.6 254.6 161.3 254.6 162.0 254.7 162.7 254.7 163.4 254.5 164.1 254.4 164.8 254.3 165.5 254.3 166.2 254.2 166.9 254.2 167.6 254.0 168.3 254.0 169.0 254.1 169.7 254.2 170.4 253.9 171.1 253.8 171.8 253.7 172.5 253.5 173.2 253.3 173.9 253.3 174.6 253.6 175.3 253.7 176.0 253.7 176.7 253.6 177.4 253.3 178.1 253.0 178.8 253.0 179.5 253.2 180.2 253.2 180.9 253.1 181.6 253.0 182.3 252.9 183.0 252.7 183.7 252.6 184.4 252.8 185.1 252.9 185.8 252.7 186.5 252.6 187.2 252.5 187.9 252.8 188.6 252.7 189.3 252.8 190.0 252.8 190.7 252.7 191.4 252.8 192.1 252.8 192.8 252.9 193.5 252.9 194.2 252.7 194.9 252.7 195.6 252.5 196.3 252.5 197.0 252.4 197.7 252.2 198.4 252.3 199.1 252.3 199.8 252.4 200.5 252.4 201.2 252.4 201.9 252.1 202.6 252.1 203.3 252.2 204.0 252.4 204.7 252.4 205.4 252.2 206.1 252.0 206.8 252.0 207.5 251.8 208.2 251.8 208.9 251.9 209.6 251.9 210.3 252.2 211.0 251.9 212.1 242.4 213.1 227.5 214.1 217.6 215.1 211.1 216.1 206.8 217.1 203.9 218.1 202.0 219.1 200.8 220.1 199.9 221.1 199.3 222.1 198.9 223.5 197.8 224.5 196.8 225.5 195.6 226.5 194.5 227.5 193.3 228.5 192.1 229.5 190.9 230.5 189.6 231.5 188.4 232.5 187.1 233.5 185.9 234.5 184.6 235.5 183.3 236.5 182.0 237.5 180.7 238.5 179.4 239.5 178.1 240.5 176.8 241.5 175.5 242.5 174.2 243.5 172.8 244.5 171.5 245.5 170.2 246.5 168.8 248.1 164.5 248.8 158.0 M251.4 175.0 252.6 192.0 254.6 198.0 255.6 197.3 256.6 196.6 257.6 196.0 258.6 195.5 259.6 195.0 260.6 194.6 261.6 194.1 262.6 193.9 263.6 193.7 264.6 193.2 265.6 192.6 266.6 192.5 267.6 192.0 268.6 191.8 269.6 191.0 270.6 191.5 271.6 191.3 272.6 191.8 273.6 191.2 274.6 191.0 275.6 190.7 276.6 190.7 277.6 190.3 278.6 190.2 279.6 190.1 280.6 190.2 281.6 190.0 282.6 189.7 283.6 189.6 284.6 189.4 285.6 189.3 286.6 189.2 287.6 189.0 288.6 189.0 289.6 188.8 290.6 189.1 291.6 189.1 292.6 189.2 293.6 189.2 294.6 189.5 295.6 189.9 296.6 189.5 297.6 189.4 298.6 189.1 299.6 189.4 300.6 189.1 301.6 189.0 302.6 189.3 303.6 189.4 304.6 189.4 305.6 189.2 306.6 188.9 307.6 189.1 308.6 189.4 309.6 189.5 310.6 189.4 311.6 188.8 312.6 188.9 313.6 188.9 314.6 189.3 315.6 189.0 316.6 188.7 317.6 188.8 318.6 189.3 319.6 189.8 320.6 189.4 321.6 189.3 322.6 189.2 323.6 189.3 324.6 189.1 325.6 189.1 326.6 189.3 327.6 189.3 328.6 189.5 329.6 189.6 330.6 189.6 331.6 189.5" fill="none" stroke="#1a1a1a" stroke-width="1.05" stroke-linejoin="round"/>
<path d="M43.0 198.9 43.7 207.8 44.4 214.3 45.1 220.3 45.8 225.7 46.5 230.6 47.2 234.9 47.9 239.0 48.6 242.5 49.3 245.9 50.0 248.7 50.7 251.7 51.4 254.3 52.1 256.7 52.8 258.9 53.5 260.7 54.2 262.7 54.9 264.4 55.6 265.9 56.3 267.2 57.0 268.6 57.7 270.0 58.4 271.2 59.1 272.0 59.8 273.1 60.5 274.1 61.2 275.0 61.9 275.4 62.6 275.8 63.3 276.3 64.0 276.8 64.7 277.5 65.4 277.9 66.1 278.3 66.8 278.3 67.5 278.5 68.2 278.6 68.9 278.9 69.6 279.0 70.3 279.2 71.0 279.3 71.7 279.4 72.4 279.6 73.1 279.5 73.8 279.3 74.5 279.1 75.2 279.2 75.9 279.2 76.6 279.1 77.3 278.8 78.0 278.7 78.7 278.6 79.4 278.4 80.1 278.2 80.8 278.1 81.5 278.1 82.2 278.0 82.9 277.8 83.6 277.4 84.3 277.1 85.0 276.9 85.7 276.5 86.4 276.3 87.1 275.8 87.8 275.7 88.5 275.4 89.2 275.2 89.9 275.0 90.6 274.8 91.3 274.6 92.0 274.3 92.7 274.0 93.4 274.0 94.1 273.7 94.8 273.5 95.5 273.0 96.2 272.7 96.9 272.4 97.6 272.3 98.3 272.0 99.0 271.8 99.7 271.8 100.4 271.6 101.1 271.3 101.8 270.8 102.5 270.9 103.2 270.8 103.9 270.7 104.6 270.3 105.3 269.8 106.0 269.5 106.7 269.2 107.4 269.1 108.1 268.8 108.8 268.4 109.5 268.3 110.2 268.2 110.9 267.8 111.6 267.6 112.3 267.4 113.0 267.4 113.7 267.2 114.4 266.7 115.1 266.7 115.8 266.3 116.5 266.2 117.2 265.9 117.9 266.0 118.6 265.9 119.3 265.6 120.0 265.2 120.7 265.1 121.4 265.3 122.1 264.9 122.8 264.6 123.5 264.2 124.2 264.2 124.9 264.2 125.6 264.2 126.3 263.9 127.0 263.6 127.7 263.3 128.4 263.4 129.1 263.4 129.8 263.2 130.5 262.9 131.2 262.8 131.9 262.8 132.6 263.0 133.3 262.8 134.0 262.7 134.7 262.2 135.4 262.0 136.1 261.6 136.8 261.6 137.5 261.4 138.2 261.3 138.9 261.2 139.6 261.2 140.3 261.2 141.0 261.0 141.7 261.0 142.4 261.0 143.1 260.9 143.8 260.8 144.5 260.5 145.2 260.4 145.9 260.4 146.6 260.2 147.3 260.2 148.0 260.2 148.7 260.3 149.4 260.0 150.1 259.6 150.8 259.4 151.5 259.3 152.2 259.5 152.9 259.4 153.6 259.3 154.3 259.3 155.0 259.2 155.7 259.2 156.4 259.1 157.1 258.9 157.8 258.8 158.5 258.6 159.2 258.5 159.9 258.2 160.6 258.1 161.3 258.1 162.0 258.2 162.7 258.3 163.4 258.1 164.1 258.1 164.8 257.9 165.5 257.8 166.2 257.6 166.9 257.6 167.6 257.8 168.3 257.8 169.0 257.7 169.7 257.7 170.4 257.9 171.1 257.7 171.8 257.7 172.5 257.7 173.2 257.7 173.9 257.7 174.6 257.2 175.3 257.3 176.0 257.1 176.7 257.1 177.4 257.0 178.1 257.1 178.8 257.4 179.5 257.4 180.2 257.2 180.9 257.0 181.6 256.7 182.3 256.7 183.0 256.8 183.7 256.7 184.4 256.7 185.1 256.7 185.8 256.8 186.5 257.0 187.2 257.1 187.9 256.9 188.6 256.5 189.3 256.2 190.0 256.1 190.7 256.2 191.4 256.2 192.1 256.2 192.8 256.1 193.5 256.2 194.2 256.3 194.9 256.2 195.6 256.2 196.3 256.3 197.0 256.3 197.7 256.3 198.4 256.1 199.1 256.1 199.8 255.9 200.5 256.0 201.2 256.1 201.9 256.0 202.6 256.0 203.3 255.8 204.0 256.0 204.7 255.9 205.4 255.9 206.1 255.6 206.8 255.5 207.5 255.6 208.2 255.6 208.9 255.7 209.6 255.5 210.3 255.6 211.0 255.5 212.1 245.4 213.1 229.5 214.1 218.9 215.1 212.0 216.1 207.4 217.1 204.3 218.1 202.3 219.1 200.9 220.1 200.0 221.1 199.4 222.1 198.9 223.5 197.8 224.5 196.7 225.5 195.5 226.5 194.3 227.5 193.1 228.5 191.8 229.5 190.5 230.5 189.3 231.5 188.0 232.5 186.7 233.5 185.4 234.5 184.0 235.5 182.7 236.5 181.4 237.5 180.0 238.5 178.7 239.5 177.3 240.5 175.9 241.5 174.5 242.5 173.2 243.5 171.8 244.5 170.4 245.5 169.0 247.2 164.5 247.9 158.0 M250.5 175.0 251.7 192.0 253.7 198.0 254.7 197.0 255.7 196.2 256.7 195.5 257.7 194.8 258.7 194.5 259.7 194.0 260.7 193.7 261.7 193.4 262.7 193.1 263.7 192.6 264.7 192.1 265.7 191.4 266.7 191.2 267.7 190.6 268.7 190.5 269.7 190.3 270.7 190.0 271.7 189.9 272.7 189.4 273.7 189.2 274.7 189.5 275.7 189.2 276.7 189.0 277.7 188.7 278.7 188.5 279.7 188.5 280.7 188.4 281.7 188.6 282.7 188.7 283.7 188.4 284.7 187.9 285.7 187.8 286.7 187.9 287.7 188.5 288.7 188.8 289.7 188.5 290.7 188.0 291.7 187.7 292.7 187.6 293.7 187.5 294.7 187.5 295.7 187.6 296.7 187.6 297.7 187.5 298.7 187.3 299.7 187.3 300.7 187.1 301.7 187.5 302.7 187.3 303.7 187.8 304.7 187.8 305.7 188.1 306.7 187.7 307.7 187.6 308.7 187.4 309.7 187.8 310.7 188.0 311.7 188.2 312.7 188.0 313.7 188.0 314.7 188.0 315.7 188.1 316.7 188.0 317.7 188.1 318.7 187.8 319.7 188.1 320.7 187.7 321.7 188.0 322.7 188.2 323.7 188.4 324.7 188.2 325.7 187.9 326.7 187.8 327.7 187.7 328.7 187.4 329.7 187.6 330.7 188.0 331.7 188.2" fill="none" stroke="#1a1a1a" stroke-width="1.05" stroke-linejoin="round"/>
<path d="M43.0 198.8 43.7 208.5 44.4 215.8 45.1 222.1 45.8 227.9 46.5 233.1 47.2 237.6 47.9 241.9 48.6 245.6 49.3 249.4 50.0 252.6 50.7 255.5 51.4 258.2 52.1 260.8 52.8 263.2 53.5 265.5 54.2 267.4 54.9 269.1 55.6 270.8 56.3 272.5 57.0 273.9 57.7 275.2 58.4 276.2 59.1 277.0 59.8 278.1 60.5 279.2 61.2 280.2 61.9 280.7 62.6 281.3 63.3 282.1 64.0 282.7 64.7 283.3 65.4 283.6 66.1 283.9 66.8 284.1 67.5 284.3 68.2 284.6 68.9 284.8 69.6 285.0 70.3 285.0 71.0 285.1 71.7 284.9 72.4 285.0 73.1 284.6 73.8 284.6 74.5 284.5 75.2 284.7 75.9 284.7 76.6 284.3 77.3 284.4 78.0 284.3 78.7 284.3 79.4 284.0 80.1 283.8 80.8 283.7 81.5 283.5 82.2 283.1 82.9 282.7 83.6 282.5 84.3 282.5 85.0 282.3 85.7 281.9 86.4 281.6 87.1 281.5 87.8 281.0 88.5 280.6 89.2 280.4 89.9 280.2 90.6 280.1 91.3 279.9 92.0 279.7 92.7 279.4 93.4 278.8 94.1 278.5 94.8 278.2 95.5 277.9 96.2 277.4 96.9 277.3 97.6 277.2 98.3 277.2 99.0 276.8 99.7 276.6 100.4 276.3 101.1 276.1 101.8 275.7 102.5 275.5 103.2 275.1 103.9 274.9 104.6 274.8 105.3 274.7 106.0 274.6 106.7 274.0 107.4 273.8 108.1 273.4 108.8 273.3 109.5 272.9 110.2 272.6 110.9 272.3 111.6 272.0 112.3 271.8 113.0 271.6 113.7 271.5 114.4 271.3 115.1 270.9 115.8 270.7 116.5 270.6 117.2 270.5 117.9 270.3 118.6 270.3 119.3 270.0 120.0 269.7 120.7 269.3 121.4 269.1 122.1 269.2 122.8 268.8 123.5 268.7 124.2 268.5 124.9 268.5 125.6 268.1 126.3 268.0 127.0 267.8 127.7 267.9 128.4 267.7 129.1 267.4 129.8 267.1 130.5 266.9 131.2 266.9 131.9 266.6 132.6 266.6 133.3 266.4 134.0 266.3 134.7 266.1 135.4 265.9 136.1 265.8 136.8 265.7 137.5 265.6 138.2 265.5 138.9 265.2 139.6 265.0 140.3 265.1 141.0 265.2 141.7 265.2 142.4 264.9 143.1 264.7 143.8 264.4 144.5 264.4 145.2 264.4 145.9 264.5 146.6 264.3 147.3 264.2 148.0 264.0 148.7 263.9 149.4 263.8 150.1 263.7 150.8 263.5 151.5 263.3 152.2 263.2 152.9 263.2 153.6 262.9 154.3 262.8 155.0 262.5 155.7 262.9 156.4 262.9 157.1 263.1 157.8 262.7 158.5 262.5 159.2 262.3 159.9 262.3 160.6 262.2 161.3 262.2 162.0 262.2 162.7 262.3 163.4 262.1 164.1 261.7 164.8 261.6 165.5 261.6 166.2 261.8 166.9 261.9 167.6 262.0 168.3 261.9 169.0 261.8 169.7 261.8 170.4 261.7 171.1 261.5 171.8 261.4 172.5 261.3 173.2 261.2 173.9 261.0 174.6 261.0 175.3 260.9 176.0 261.0 176.7 260.9 177.4 261.1 178.1 261.1 178.8 260.9 179.5 260.8 180.2 260.6 180.9 260.8 181.6 260.7 182.3 260.7 183.0 260.6 183.7 260.5 184.4 260.5 185.1 260.4 185.8 260.4 186.5 260.4 187.2 260.2 187.9 260.2 188.6 260.0 189.3 260.2 190.0 260.1 190.7 260.3 191.4 260.1 192.1 260.3 192.8 260.2 193.5 260.2 194.2 259.8 194.9 260.0 195.6 259.9 196.3 260.0 197.0 259.8 197.7 259.8 198.4 259.6 199.1 259.8 199.8 259.7 200.5 259.6 201.2 259.6 201.9 259.4 202.6 259.4 203.3 259.4 204.0 259.3 204.7 259.5 205.4 259.3 206.1 259.4 206.8 259.3 207.5 259.4 208.2 259.4 208.9 259.3 209.6 259.3 210.3 259.5 211.0 259.4 212.1 248.4 213.1 231.4 214.1 220.2 215.1 212.8 216.1 207.9 217.1 204.7 218.1 202.5 219.1 201.0 220.1 200.1 221.1 199.4 222.1 198.9 223.5 197.7 224.5 196.5 225.5 195.2 226.5 193.8 227.5 192.5 228.5 191.1 229.5 189.7 230.5 188.3 231.5 186.9 232.5 185.5 233.5 184.0 234.5 182.6 235.5 181.1 236.5 179.6 237.5 178.1 238.5 176.6 239.5 175.1 240.5 173.6 241.5 172.1 242.5 170.6 243.5 169.1 245.2 164.5 245.9 158.0 M248.5 175.0 249.7 192.0 251.7 198.0 252.7 197.4 253.7 197.2 254.7 197.0 255.7 196.8 256.7 196.5 257.7 196.2 258.7 195.9 259.7 195.6 260.7 195.5 261.7 195.2 262.7 195.0 263.7 194.7 264.7 194.6 265.7 194.7 266.7 194.7 267.7 194.5 268.7 194.2 269.7 193.8 270.7 193.9 271.7 193.8 272.7 193.9 273.7 193.8 274.7 193.6 275.7 193.7 276.7 193.5 277.7 193.7 278.7 193.3 279.7 193.5 280.7 193.7 281.7 194.2 282.7 193.9 283.7 193.6 284.7 193.1 285.7 193.3 286.7 193.5 287.7 193.7 288.7 193.4 289.7 193.1 290.7 193.1 291.7 193.3 292.7 193.1 293.7 192.6 294.7 192.4 295.7 192.9 296.7 193.3 297.7 193.0 298.7 192.7 299.7 192.2 300.7 193.0 301.7 193.0 302.7 193.4 303.7 193.2 304.7 193.0 305.7 193.3 306.7 193.1 307.7 193.1 308.7 193.1 309.7 192.9 310.7 193.4 311.7 193.2 312.7 193.2 313.7 192.6 314.7 192.9 315.7 193.4 316.7 193.5 317.7 193.5 318.7 193.3 319.7 193.6 320.7 193.3 321.7 193.2 322.7 193.5 323.7 193.5 324.7 193.3 325.7 193.5 326.7 193.6 327.7 193.7 328.7 193.1 329.7 192.8 330.7 193.1 331.7 193.4" fill="none" stroke="#1a1a1a" stroke-width="1.05" stroke-linejoin="round"/>
<path d="M43.0 198.7 43.7 209.3 44.4 217.2 45.1 224.3 45.8 230.2 46.5 235.8 47.2 240.6 47.9 245.1 48.6 249.3 49.3 253.1 50.0 256.6 50.7 259.7 51.4 262.7 52.1 265.4 52.8 268.1 53.5 270.3 54.2 272.5 54.9 274.5 55.6 276.3 56.3 278.0 57.0 279.4 57.7 280.8 58.4 282.1 59.1 283.1 59.8 283.9 60.5 284.7 61.2 285.6 61.9 286.2 62.6 287.0 63.3 287.6 64.0 288.3 64.7 288.8 65.4 289.2 66.1 289.5 66.8 289.7 67.5 290.0 68.2 290.2 68.9 290.4 69.6 290.5 70.3 290.8 71.0 290.7 71.7 290.7 72.4 290.4 73.1 290.5 73.8 290.3 74.5 290.5 75.2 290.5 75.9 290.5 76.6 290.4 77.3 290.3 78.0 290.2 78.7 289.7 79.4 289.2 80.1 289.0 80.8 288.8 81.5 288.6 82.2 288.4 82.9 288.0 83.6 287.9 84.3 287.6 85.0 287.4 85.7 287.1 86.4 286.7 87.1 286.6 87.8 286.4 88.5 286.2 89.2 285.7 89.9 285.3 90.6 284.8 91.3 284.8 92.0 284.5 92.7 284.3 93.4 283.8 94.1 283.6 94.8 283.5 95.5 283.2 96.2 282.8 96.9 282.1 97.6 282.0 98.3 281.8 99.0 281.9 99.7 281.6 100.4 281.2 101.1 280.6 101.8 280.5 102.5 280.1 103.2 279.9 103.9 279.6 104.6 279.4 105.3 279.0 106.0 278.8 106.7 278.8 107.4 278.6 108.1 278.2 108.8 278.0 109.5 277.7 110.2 277.4 110.9 276.8 111.6 276.6 112.3 276.4 113.0 276.3 113.7 276.0 114.4 275.6 115.1 275.3 115.8 275.0 116.5 275.0 117.2 274.9 117.9 274.7 118.6 274.4 119.3 274.3 120.0 274.1 120.7 273.8 121.4 273.6 122.1 273.5 122.8 273.3 123.5 273.1 124.2 272.8 124.9 272.8 125.6 272.5 126.3 272.5 127.0 272.2 127.7 272.0 128.4 271.9 129.1 271.7 129.8 271.5 130.5 271.5 131.2 271.1 131.9 271.0 132.6 270.6 133.3 270.6 134.0 270.6 134.7 270.5 135.4 270.4 136.1 270.2 136.8 270.2 137.5 270.2 138.2 270.1 138.9 269.5 139.6 269.1 140.3 268.8 141.0 269.0 141.7 268.9 142.4 268.7 143.1 268.5 143.8 268.3 144.5 268.3 145.2 268.1 145.9 268.1 146.6 268.0 147.3 268.1 148.0 267.9 148.7 267.7 149.4 267.6 150.1 267.6 150.8 267.7 151.5 267.6 152.2 267.4 152.9 267.1 153.6 267.1 154.3 267.1 155.0 267.0 155.7 266.6 156.4 266.4 157.1 266.1 157.8 266.4 158.5 266.4 159.2 266.5 159.9 266.2 160.6 266.4 161.3 266.5 162.0 266.3 162.7 266.0 163.4 265.6 164.1 265.5 164.8 265.5 165.5 265.8 166.2 266.0 166.9 266.0 167.6 265.6 168.3 265.4 169.0 265.4 169.7 265.3 170.4 265.0 171.1 265.0 171.8 265.1 172.5 265.4 173.2 265.2 173.9 265.3 174.6 265.0 175.3 265.0 176.0 264.9 176.7 265.0 177.4 264.9 178.1 264.7 178.8 264.5 179.5 264.4 180.2 264.3 180.9 264.5 181.6 264.6 182.3 264.4 183.0 264.3 183.7 264.2 184.4 264.3 185.1 263.9 185.8 263.9 186.5 264.0 187.2 264.2 187.9 263.9 188.6 263.6 189.3 263.7 190.0 263.9 190.7 264.0 191.4 263.9 192.1 263.8 192.8 263.7 193.5 263.6 194.2 263.4 194.9 263.5 195.6 263.5 196.3 263.6 197.0 263.6 197.7 263.6 198.4 263.6 199.1 263.4 199.8 263.5 200.5 263.4 201.2 263.6 201.9 263.3 202.6 263.3 203.3 263.2 204.0 263.6 204.7 263.2 205.4 263.0 206.1 262.8 206.8 263.0 207.5 263.2 208.2 263.1 208.9 263.2 209.6 263.1 210.3 263.0 211.0 262.8 212.1 251.4 213.1 233.4 214.1 221.5 215.1 213.7 216.1 208.5 217.1 205.0 218.1 202.7 219.1 201.2 220.1 200.1 221.1 199.4 222.1 199.0 223.5 197.5 224.5 196.1 225.5 194.7 226.5 193.2 227.5 191.6 228.5 190.1 229.5 188.5 230.5 186.9 231.5 185.3 232.5 183.7 233.5 182.0 234.5 180.4 235.5 178.7 236.5 177.0 237.5 175.3 238.5 173.6 239.5 171.9 240.5 170.2 241.5 168.5 242.8 164.5 243.5 158.0 M246.1 175.0 247.3 192.0 249.3 198.0 250.3 197.2 251.3 196.4 252.3 195.7 253.3 194.8 254.3 194.0 255.3 193.3 256.3 192.9 257.3 192.4 258.3 192.0 259.3 191.6 260.3 191.4 261.3 191.1 262.3 190.6 263.3 189.9 264.3 189.7 265.3 189.6 266.3 189.6 267.3 188.9 268.3 188.5 269.3 188.2 270.3 188.7 271.3 188.5 272.3 188.5 273.3 187.9 274.3 187.7 275.3 187.4 276.3 187.2 277.3 187.1 278.3 186.9 279.3 187.3 280.3 186.9 281.3 187.0 282.3 186.5 283.3 186.5 284.3 186.8 285.3 186.5 286.3 187.0 287.3 186.2 288.3 186.7 289.3 186.8 290.3 186.7 291.3 186.3 292.3 186.2 293.3 186.6 294.3 186.8 295.3 186.6 296.3 186.5 297.3 186.7 298.3 187.0 299.3 186.9 300.3 186.9 301.3 186.9 302.3 187.5 303.3 187.3 304.3 187.1 305.3 186.5 306.3 186.5 307.3 186.4 308.3 186.4 309.3 186.2 310.3 185.8 311.3 185.9 312.3 186.3 313.3 187.0 314.3 187.0 315.3 187.0 316.3 186.8 317.3 187.0 318.3 187.0 319.3 186.9 320.3 187.1 321.3 187.0 322.3 187.1 323.3 186.5 324.3 186.7 325.3 186.8 326.3 187.4 327.3 187.3 328.3 187.4 329.3 187.3 330.3 187.6 331.3 187.4" fill="none" stroke="#1a1a1a" stroke-width="1.05" stroke-linejoin="round"/>
<path d="M43.0 199.0 43.7 210.1 44.4 218.5 45.1 225.8 45.8 232.1 46.5 238.0 47.2 243.3 47.9 248.3 48.6 252.7 49.3 257.0 50.0 260.8 50.7 264.2 51.4 267.3 52.1 270.0 52.8 272.7 53.5 274.9 54.2 277.2 54.9 279.3 55.6 281.3 56.3 283.0 57.0 284.4 57.7 285.8 58.4 287.2 59.1 288.3 59.8 289.3 60.5 290.3 61.2 291.1 61.9 291.9 62.6 292.7 63.3 293.3 64.0 293.9 64.7 294.2 65.4 294.6 66.1 295.1 66.8 295.4 67.5 295.7 68.2 295.8 68.9 296.1 69.6 296.4 70.3 296.5 71.0 296.5 71.7 296.5 72.4 296.4 73.1 296.3 73.8 296.5 74.5 296.5 75.2 296.5 75.9 296.0 76.6 295.8 77.3 295.8 78.0 295.7 78.7 295.5 79.4 295.2 80.1 295.0 80.8 294.8 81.5 294.4 82.2 294.2 82.9 293.7 83.6 293.6 84.3 293.3 85.0 293.1 85.7 292.7 86.4 292.3 87.1 292.0 87.8 291.5 88.5 291.2 89.2 290.8 89.9 290.7 90.6 290.3 91.3 290.0 92.0 289.6 92.7 289.3 93.4 288.9 94.1 288.8 94.8 288.5 95.5 288.3 96.2 287.7 96.9 287.4 97.6 286.9 98.3 286.8 99.0 286.4 99.7 286.2 100.4 285.8 101.1 285.4 101.8 285.3 102.5 285.1 103.2 284.8 103.9 284.4 104.6 284.2 105.3 284.1 106.0 283.5 106.7 283.1 107.4 283.1 108.1 282.9 108.8 282.7 109.5 282.1 110.2 282.0 110.9 281.6 111.6 281.3 112.3 281.0 113.0 280.9 113.7 280.7 114.4 280.4 115.1 280.0 115.8 279.5 116.5 279.4 117.2 279.1 117.9 279.0 118.6 278.9 119.3 278.8 120.0 278.6 120.7 278.2 121.4 278.1 122.1 277.9 122.8 277.6 123.5 277.5 124.2 277.2 124.9 277.0 125.6 276.6 126.3 276.5 127.0 276.3 127.7 276.2 128.4 276.1 129.1 276.2 129.8 275.9 130.5 275.7 131.2 275.1 131.9 275.0 132.6 274.8 133.3 274.8 134.0 274.7 134.7 274.5 135.4 274.2 136.1 274.0 136.8 273.9 137.5 273.9 138.2 273.9 138.9 273.8 139.6 273.7 140.3 273.3 141.0 273.0 141.7 272.8 142.4 272.7 143.1 272.8 143.8 272.7 144.5 272.6 145.2 272.4 145.9 272.4 146.6 272.2 147.3 272.0 148.0 271.9 148.7 271.9 149.4 271.9 150.1 271.8 150.8 271.7 151.5 271.4 152.2 271.1 152.9 271.0 153.6 270.6 154.3 270.7 155.0 270.7 155.7 270.9 156.4 270.7 157.1 270.6 157.8 270.5 158.5 270.5 159.2 270.6 159.9 270.5 160.6 270.5 161.3 270.2 162.0 270.1 162.7 269.9 163.4 269.8 164.1 269.8 164.8 269.5 165.5 269.4 166.2 269.3 166.9 269.3 167.6 269.3 168.3 269.1 169.0 269.1 169.7 269.1 170.4 269.3 171.1 269.2 171.8 269.0 172.5 268.8 173.2 268.8 173.9 268.9 174.6 268.6 175.3 268.5 176.0 268.2 176.7 268.4 177.4 268.3 178.1 268.5 178.8 268.5 179.5 268.4 180.2 268.3 180.9 268.2 181.6 268.2 182.3 268.2 183.0 268.1 183.7 267.8 184.4 267.9 185.1 267.8 185.8 267.8 186.5 267.6 187.2 267.5 187.9 267.5 188.6 267.6 189.3 267.8 190.0 267.9 190.7 267.9 191.4 267.7 192.1 267.5 192.8 267.5 193.5 267.8 194.2 267.6 194.9 267.2 195.6 267.0 196.3 267.1 197.0 267.1 197.7 267.1 198.4 267.0 199.1 266.8 199.8 266.7 200.5 266.8 201.2 267.1 201.9 267.1 202.6 267.1 203.3 267.0 204.0 266.8 204.7 266.6 205.4 266.5 206.1 266.7 206.8 266.9 207.5 267.1 208.2 267.0 208.9 266.7 209.6 266.6 210.3 266.6 211.0 266.7 212.1 254.4 213.1 235.4 214.1 222.8 215.1 214.5 216.1 209.0 217.1 205.4 218.1 202.9 219.1 201.3 220.1 200.2 221.1 199.5 222.1 199.0 223.5 198.0 224.5 197.1 225.5 196.2 226.5 195.3 227.5 194.3 228.5 193.4 229.5 192.4 230.5 191.4 231.5 190.4 232.5 189.4 233.5 188.3 234.5 187.3 235.5 186.3 236.5 185.2 237.5 184.2 238.5 183.1 239.5 182.1 240.5 181.0 241.5 179.9 242.5 178.9 243.5 177.8 244.5 176.7 245.5 175.6 246.5 174.5 247.5 173.4 248.5 172.3 249.5 171.2 250.5 170.1 251.5 169.0 253.4 164.5 254.1 158.0 M256.7 175.0 257.9 192.0 259.9 198.0 260.9 197.7 261.9 197.6 262.9 197.3 263.9 197.0 264.9 196.7 265.9 196.6 266.9 196.5 267.9 196.4 268.9 196.3 269.9 196.1 270.9 196.2 271.9 196.1 272.9 196.0 273.9 196.3 274.9 196.4 275.9 196.1 276.9 195.7 277.9 195.2 278.9 195.4 279.9 195.3 280.9 195.5 281.9 195.4 282.9 195.3 283.9 194.9 284.9 195.1 285.9 195.4 286.9 195.6 287.9 195.3 288.9 195.1 289.9 195.1 290.9 194.8 291.9 194.9 292.9 194.7 293.9 194.9 294.9 194.3 295.9 194.4 296.9 194.7 297.9 194.8 298.9 195.1 299.9 195.0 300.9 195.3 301.9 194.5 302.9 194.7 303.9 194.8 304.9 195.3 305.9 194.9 306.9 194.8 307.9 194.9 308.9 194.9 309.9 195.2 310.9 194.7 311.9 194.7 312.9 194.4 313.9 195.0 314.9 194.8 315.9 194.7 316.9 194.5 317.9 194.9 318.9 195.5 319.9 195.8 320.9 195.8 321.9 195.5 322.9 194.8 323.9 194.5 324.9 194.3 325.9 194.5 326.9 194.5 327.9 194.4 328.9 194.4 329.9 194.9 330.9 195.1 331.9 195.2" fill="none" stroke="#1a1a1a" stroke-width="1.05" stroke-linejoin="round"/>
<path d="M43.0 198.7 43.8 198.6 44.6 198.3 45.4 198.4 46.2 198.4 47.0 198.5 47.8 198.4 48.6 198.3 49.4 198.4 50.2 198.4 51.0 198.1 51.8 197.8 52.6 197.8 53.4 198.0 54.2 198.2 55.0 198.2 55.8 198.0 56.6 197.8 57.4 197.6 58.2 197.4 59.0 197.5 59.8 197.4 60.6 197.6 61.4 197.6 62.2 197.5 63.0 197.6 63.8 197.7 64.6 197.7 65.4 197.7 66.2 197.7 67.0 197.8 67.8 197.8 68.6 197.8 69.4 197.9 70.2 197.8 71.0 197.8 71.8 197.8 72.6 197.8 73.4 197.8 74.2 197.8 75.0 197.6 75.8 197.5 76.6 197.5 77.4 197.6 78.2 197.7 79.0 197.7 79.8 197.7 80.6 197.7 81.4 197.9 82.2 198.0 83.0 197.9 83.8 197.8 84.6 197.7 85.4 197.7 86.2 197.6 87.0 197.6 87.8 197.5 88.6 197.3 89.4 197.3 90.2 197.6 91.0 197.8 91.8 197.8 92.6 197.6 93.4 197.8 94.2 197.6 95.0 197.6 95.8 197.6 96.6 197.5 97.4 197.5 98.2 197.5 99.0 197.5 99.8 197.5 100.6 197.5 101.4 197.8 102.2 197.8 103.0 197.8 103.8 197.6 104.6 197.5 105.4 197.5 106.2 197.9 107.0 198.1 107.8 198.1 108.6 197.8 109.4 197.7 110.2 197.8 111.0 197.8 111.8 197.6 112.6 197.8 113.4 198.0 114.2 197.9 115.0 197.5 115.8 197.3 116.6 197.5 117.4 197.8 118.2 197.8 119.0 197.6 119.8 197.6 120.6 197.7 121.4 197.9 122.2 197.8 123.0 197.8 123.8 197.8 124.6 197.7 125.4 197.7 126.2 197.6 127.0 197.8 127.8 197.8 128.6 197.8 129.4 197.8 130.2 197.8 131.0 197.7 131.8 197.7 132.6 197.7 133.4 197.8 134.2 197.8 135.0 197.5 135.8 197.6 136.6 197.4 137.4 197.4 138.2 197.4 139.0 197.6 139.8 197.8 140.6 197.9 141.4 198.0 142.2 198.1 143.0 198.1 143.8 197.9 144.6 197.8 145.4 198.0 146.2 198.4 147.0 198.5 147.8 198.2 148.6 198.1 149.4 198.0 150.2 198.1 151.0 198.0 151.8 198.0 152.6 198.0 153.4 197.9 154.2 197.9 155.0 197.5 155.8 197.7 156.6 197.6 157.4 197.8 158.2 197.8 159.0 197.8 159.8 197.8 160.6 197.7 161.4 197.7 162.2 197.6 163.0 197.8 163.8 197.7 164.6 197.9 165.4 197.8 166.2 197.9 167.0 197.9 167.8 198.0 168.6 197.8 169.4 197.8 170.2 197.5 171.0 197.7 171.8 197.6 172.6 197.7 173.4 197.7 174.2 197.7 175.0 198.1 175.8 198.0 176.6 198.3 177.4 198.2 178.2 198.2 179.0 197.9 179.8 197.9 180.6 198.0 181.4 198.1 182.2 197.9 183.0 197.8 183.8 197.7 184.6 197.7 185.4 197.6 186.2 197.6 187.0 197.9 187.8 198.3 188.6 198.3 189.4 198.1 190.2 198.0 191.0 198.1 191.8 198.2 192.6 198.1 193.4 197.9 194.2 198.0 195.0 198.3 195.8 198.3 196.6 197.9 197.4 197.8 198.2 197.8 199.0 198.1 199.8 198.1 200.6 198.1 201.4 198.0 202.2 197.6 203.0 197.6 203.8 197.6 204.6 197.9 205.4 197.8 206.2 197.8 207.0 197.7 207.8 197.8 208.6 197.7 209.4 198.0 210.2 198.1 211.0 198.2 212.1 198.3 213.1 198.5 214.1 198.5 215.1 198.7 216.1 198.8 217.1 198.9 218.1 198.9 219.1 198.8 220.1 198.7 221.1 198.7 222.1 198.7 223.1 198.7 224.1 198.6 225.1 198.5 226.1 198.4 227.1 198.2 228.1 198.2 229.1 197.9 230.1 197.8 231.1 197.6 232.1 197.7 233.1 197.6 234.1 197.3 235.1 197.0 236.1 197.4 237.1 197.7 238.1 197.7 239.1 197.2 240.1 196.8 241.1 196.8 242.1 196.8 243.1 196.8 244.1 196.8 245.1 197.0 246.1 197.3 247.1 197.5 248.1 197.4 249.1 197.2 250.1 196.4 251.1 196.2 252.1 196.4 253.1 196.9 254.1 197.3 255.1 197.1 256.1 196.9 257.1 196.8 258.1 197.0 259.1 197.0 260.1 197.1 261.1 197.0 262.1 197.4 263.1 197.1 264.1 196.6 265.1 196.6 266.1 196.8 267.1 197.3 268.1 197.1 269.1 196.9 270.1 196.8 271.1 196.8 272.1 197.2 273.1 197.0 274.1 197.3 275.1 197.1 276.1 197.6 277.1 197.2 278.1 197.2 279.1 197.2 280.1 197.3 281.1 196.9 282.1 196.4 283.1 196.6 284.1 196.6 285.1 196.5 286.1 196.4 287.1 196.7 288.1 197.1 289.1 197.0 290.1 196.6 291.1 196.2 292.1 196.6 293.1 196.8 294.1 197.0 295.1 196.8 296.1 196.6 297.1 197.0 298.1 196.9 299.1 197.2 300.1 196.6 301.1 196.2 302.1 195.6 303.1 196.0 304.1 196.6 305.1 197.3 306.1 197.7 307.1 197.4 308.1 197.1 309.1 196.9 310.1 197.4 311.1 197.3 312.1 197.4 313.1 196.9 314.1 197.2 315.1 197.1 316.1 197.0 317.1 196.7 318.1 196.8 319.1 196.9 320.1 196.9 321.1 196.7 322.1 196.9 323.1 196.9 324.1 197.0 325.1 197.0 326.1 197.5 327.1 197.7 328.1 197.7 329.1 197.2 330.1 197.2 331.1 197.0" fill="none" stroke="#1a1a1a" stroke-width="1.05" stroke-linejoin="round"/>
<path d="M43.0 199.1 43.8 198.4 44.6 197.8 45.4 197.2 46.2 196.6 47.0 196.3 47.8 195.9 48.6 195.6 49.4 195.6 50.2 195.5 51.0 195.4 51.8 195.0 52.6 194.6 53.4 194.5 54.2 194.4 55.0 194.3 55.8 194.2 56.6 194.0 57.4 193.9 58.2 193.7 59.0 193.6 59.8 193.5 60.6 193.5 61.4 193.6 62.2 193.7 63.0 193.5 63.8 193.4 64.6 193.5 65.4 193.3 66.2 193.5 67.0 193.2 67.8 193.4 68.6 193.2 69.4 193.1 70.2 193.0 71.0 192.9 71.8 192.9 72.6 192.8 73.4 193.0 74.2 193.1 75.0 192.9 75.8 192.6 76.6 192.5 77.4 192.9 78.2 193.1 79.0 193.1 79.8 193.1 80.6 193.2 81.4 193.3 82.2 193.3 83.0 193.2 83.8 192.9 84.6 192.9 85.4 192.6 86.2 192.9 87.0 193.2 87.8 193.4 88.6 193.1 89.4 192.8 90.2 192.8 91.0 192.9 91.8 193.0 92.6 193.1 93.4 192.8 94.2 192.9 95.0 192.7 95.8 192.9 96.6 192.9 97.4 192.9 98.2 192.8 99.0 192.6 99.8 192.6 100.6 192.8 101.4 193.1 102.2 193.1 103.0 192.9 103.8 192.9 104.6 192.9 105.4 193.1 106.2 193.0 107.0 193.0 107.8 192.9 108.6 192.9 109.4 192.8 110.2 192.7 111.0 192.7 111.8 192.7 112.6 192.8 113.4 192.8 114.2 192.8 115.0 192.8 115.8 192.7 116.6 192.9 117.4 192.9 118.2 192.9 119.0 192.7 119.8 192.8 120.6 192.8 121.4 192.8 122.2 192.7 123.0 192.7 123.8 192.8 124.6 192.9 125.4 192.7 126.2 192.5 127.0 192.2 127.8 192.4 128.6 192.7 129.4 193.1 130.2 193.0 131.0 193.0 131.8 192.9 132.6 192.8 133.4 192.5 134.2 192.5 135.0 192.4 135.8 192.7 136.6 192.9 137.4 192.9 138.2 192.9 139.0 192.7 139.8 192.7 140.6 192.5 141.4 192.3 142.2 192.3 143.0 192.4 143.8 192.5 144.6 192.6 145.4 192.6 146.2 192.7 147.0 192.6 147.8 192.7 148.6 192.5 149.4 192.6 150.2 192.5 151.0 192.6 151.8 192.4 152.6 192.5 153.4 192.5 154.2 192.7 155.0 192.7 155.8 192.8 156.6 192.7 157.4 192.7 158.2 192.8 159.0 192.7 159.8 192.6 160.6 192.6 161.4 192.7 162.2 192.7 163.0 192.6 163.8 192.6 164.6 192.5 165.4 192.3 166.2 192.5 167.0 192.5 167.8 192.6 168.6 192.4 169.4 192.5 170.2 192.3 171.0 192.8 171.8 192.7 172.6 192.7 173.4 192.4 174.2 192.7 175.0 192.5 175.8 192.5 176.6 192.4 177.4 192.5 178.2 192.6 179.0 192.4 179.8 192.4 180.6 192.3 181.4 192.3 182.2 192.3 183.0 192.5 183.8 192.5 184.6 192.6 185.4 192.5 186.2 192.5 187.0 192.7 187.8 192.6 188.6 192.6 189.4 192.5 190.2 192.5 191.0 192.5 191.8 192.5 192.6 192.6 193.4 192.6 194.2 192.5 195.0 192.3 195.8 192.4 196.6 192.5 197.4 192.6 198.2 192.4 199.0 192.4 199.8 192.3 200.6 192.4 201.4 192.4 202.2 192.2 203.0 192.3 203.8 192.3 204.6 192.3 205.4 192.3 206.2 192.4 207.0 192.5 207.8 192.6 208.6 192.4 209.4 192.4 210.2 192.2 211.0 192.2 212.1 192.4 213.1 193.4 214.1 194.6 215.1 195.7 216.1 196.6 217.1 197.3 218.1 197.7 219.1 198.2 220.1 198.4 221.1 198.7 222.1 198.6 223.1 198.7 224.1 198.6 225.1 198.6 226.1 198.5 227.1 198.5 228.1 198.4 229.1 198.4 230.1 198.3 231.1 198.3 232.1 198.2 233.1 198.2 234.1 198.2 235.1 198.5 236.1 198.7 237.1 198.8 238.1 198.8 239.1 198.7 240.1 198.4 241.1 198.1 242.1 198.1 243.1 198.1 244.1 198.1 245.1 198.2 246.1 198.7 247.1 198.8 248.1 198.2 249.1 198.0 250.1 198.0 251.1 198.2 252.1 198.0 253.1 198.2 254.1 198.4 255.1 198.9 256.1 198.9 257.1 198.9 258.1 198.7 259.1 199.1 260.1 199.2 261.1 198.8 262.1 198.3 263.1 198.1 264.1 198.2 265.1 198.2 266.1 198.3 267.1 198.3 268.1 198.1 269.1 198.1 270.1 197.9 271.1 198.2 272.1 198.0 273.1 198.3 274.1 197.7 275.1 198.1 276.1 197.6 277.1 197.9 278.1 197.8 279.1 198.1 280.1 198.1 281.1 197.5 282.1 197.5 283.1 197.7 284.1 198.4 285.1 198.4 286.1 198.3 287.1 198.1 288.1 198.1 289.1 197.9 290.1 198.4 291.1 198.5 292.1 198.9 293.1 198.5 294.1 198.7 295.1 198.4 296.1 198.5 297.1 198.4 298.1 198.5 299.1 198.4 300.1 198.2 301.1 198.1 302.1 198.0 303.1 198.3 304.1 198.3 305.1 198.0 306.1 197.7 307.1 197.8 308.1 198.0 309.1 198.3 310.1 198.4 311.1 198.7 312.1 198.3 313.1 198.2 314.1 198.2 315.1 197.9 316.1 198.1 317.1 198.1 318.1 198.3 319.1 198.2 320.1 197.9 321.1 198.1 322.1 197.8 323.1 197.6 324.1 197.8 325.1 197.9 326.1 197.9 327.1 197.9 328.1 197.9 329.1 197.6 330.1 197.3 331.1 197.7" fill="none" stroke="#1a1a1a" stroke-width="1.05" stroke-linejoin="round"/>
<path d="M43.0 199.0 43.8 198.0 44.6 196.9 45.4 196.1 46.2 195.4 47.0 194.9 47.8 194.3 48.6 193.4 49.4 192.8 50.2 192.2 51.0 192.1 51.8 191.7 52.6 191.5 53.4 191.0 54.2 191.0 55.0 190.6 55.8 190.5 56.6 190.4 57.4 190.3 58.2 190.0 59.0 189.7 59.8 189.6 60.6 189.7 61.4 189.3 62.2 189.1 63.0 188.7 63.8 189.0 64.6 188.9 65.4 189.0 66.2 188.8 67.0 188.8 67.8 188.6 68.6 188.7 69.4 188.6 70.2 188.5 71.0 188.4 71.8 188.5 72.6 188.8 73.4 188.7 74.2 188.4 75.0 188.3 75.8 188.5 76.6 188.6 77.4 188.7 78.2 188.4 79.0 188.4 79.8 188.3 80.6 188.2 81.4 187.9 82.2 187.7 83.0 187.9 83.8 188.1 84.6 188.1 85.4 188.1 86.2 188.0 87.0 188.0 87.8 188.1 88.6 188.1 89.4 188.1 90.2 188.0 91.0 187.9 91.8 188.0 92.6 187.9 93.4 188.1 94.2 188.0 95.0 188.1 95.8 187.8 96.6 187.8 97.4 187.8 98.2 187.9 99.0 187.8 99.8 187.7 100.6 187.7 101.4 187.7 102.2 187.9 103.0 188.0 103.8 188.0 104.6 187.7 105.4 187.5 106.2 187.4 107.0 187.4 107.8 187.5 108.6 187.8 109.4 187.8 110.2 187.7 111.0 187.6 111.8 187.5 112.6 187.6 113.4 187.5 114.2 187.9 115.0 187.7 115.8 187.9 116.6 187.6 117.4 187.8 118.2 187.6 119.0 187.7 119.8 187.6 120.6 187.6 121.4 187.5 122.2 187.6 123.0 187.7 123.8 187.9 124.6 187.9 125.4 187.6 126.2 187.3 127.0 187.1 127.8 187.3 128.6 187.4 129.4 187.4 130.2 187.3 131.0 187.3 131.8 187.4 132.6 187.7 133.4 187.7 134.2 187.8 135.0 187.8 135.8 187.7 136.6 187.6 137.4 187.3 138.2 187.4 139.0 187.5 139.8 187.7 140.6 187.7 141.4 187.5 142.2 187.3 143.0 187.1 143.8 187.2 144.6 187.4 145.4 187.3 146.2 187.0 147.0 187.0 147.8 187.1 148.6 187.4 149.4 187.1 150.2 187.3 151.0 187.4 151.8 187.5 152.6 187.5 153.4 187.4 154.2 187.4 155.0 187.5 155.8 187.6 156.6 187.5 157.4 187.2 158.2 187.1 159.0 187.1 159.8 187.2 160.6 187.2 161.4 187.2 162.2 187.2 163.0 187.3 163.8 187.2 164.6 187.3 165.4 187.1 166.2 187.3 167.0 187.2 167.8 187.4 168.6 187.3 169.4 187.4 170.2 187.4 171.0 187.3 171.8 187.2 172.6 187.0 173.4 186.9 174.2 186.9 175.0 187.0 175.8 187.3 176.6 187.1 177.4 187.1 178.2 187.0 179.0 187.3 179.8 187.4 180.6 187.1 181.4 186.9 182.2 186.9 183.0 186.9 183.8 187.2 184.6 187.2 185.4 187.2 186.2 187.1 187.0 187.0 187.8 187.0 188.6 186.9 189.4 186.9 190.2 186.8 191.0 186.9 191.8 186.8 192.6 186.6 193.4 186.7 194.2 186.8 195.0 186.9 195.8 186.8 196.6 186.6 197.4 186.9 198.2 186.8 199.0 187.1 199.8 186.8 200.6 187.0 201.4 186.8 202.2 186.8 203.0 186.8 203.8 186.9 204.6 186.9 205.4 186.7 206.2 186.9 207.0 187.0 207.8 187.1 208.6 186.9 209.4 186.8 210.2 186.7 211.0 186.9 212.1 187.1 213.1 189.1 214.1 191.4 215.1 193.4 216.1 195.1 217.1 196.3 218.1 197.3 219.1 197.8 220.1 198.3 221.1 198.6 222.1 198.9 223.1 199.1 224.1 199.3 225.1 199.5 226.1 199.6 227.1 200.0 228.1 200.6 229.1 200.9 230.1 201.1 231.1 201.1 232.1 201.3 233.1 201.4 234.1 201.7 235.1 201.7 236.1 202.5 237.1 202.9 238.1 203.1 239.1 203.1 240.1 203.5 241.1 203.5 242.1 203.3 243.1 203.1 244.1 203.5 245.1 203.7 246.1 203.5 247.1 203.3 248.1 203.6 249.1 203.6 250.1 203.6 251.1 203.2 252.1 203.2 253.1 203.3 254.1 203.2 255.1 203.5 256.1 203.4 257.1 203.8 258.1 203.9 259.1 204.2 260.1 203.9 261.1 203.7 262.1 203.5 263.1 203.3 264.1 203.5 265.1 203.6 266.1 204.1 267.1 203.7 268.1 203.9 269.1 204.2 270.1 204.5 271.1 203.8 272.1 203.3 273.1 203.2 274.1 203.5 275.1 203.4 276.1 203.6 277.1 203.6 278.1 203.7 279.1 203.6 280.1 203.7 281.1 204.0 282.1 203.9 283.1 204.0 284.1 203.6 285.1 203.8 286.1 203.5 287.1 203.9 288.1 203.7 289.1 204.0 290.1 203.6 291.1 203.8 292.1 203.6 293.1 204.0 294.1 203.8 295.1 203.3 296.1 203.3 297.1 203.2 298.1 203.7 299.1 203.3 300.1 203.7 301.1 204.0 302.1 204.6 303.1 204.7 304.1 204.1 305.1 203.8 306.1 203.6 307.1 203.8 308.1 204.0 309.1 203.5 310.1 203.6 311.1 203.4 312.1 203.6 313.1 204.0 314.1 203.5 315.1 203.8 316.1 203.4 317.1 203.3 318.1 202.9 319.1 202.8 320.1 203.4 321.1 203.8 322.1 203.9 323.1 203.8 324.1 203.1 325.1 203.2 326.1 203.2 327.1 203.8 328.1 203.9 329.1 204.4 330.1 204.5 331.1 204.5" fill="none" stroke="#1a1a1a" stroke-width="1.05" stroke-linejoin="round"/>
<path d="M43.0 198.6 43.8 197.3 44.6 195.8 45.4 194.7 46.2 193.4 47.0 192.4 47.8 191.6 48.6 190.8 49.4 190.1 50.2 189.2 51.0 188.8 51.8 188.2 52.6 187.9 53.4 187.5 54.2 186.9 55.0 186.3 55.8 185.7 56.6 185.7 57.4 185.5 58.2 185.3 59.0 184.9 59.8 184.8 60.6 184.4 61.4 184.4 62.2 183.8 63.0 183.6 63.8 183.6 64.6 183.8 65.4 183.8 66.2 183.7 67.0 183.7 67.8 183.8 68.6 183.5 69.4 183.4 70.2 183.2 71.0 183.0 71.8 183.0 72.6 182.9 73.4 183.1 74.2 183.1 75.0 183.1 75.8 182.8 76.6 182.7 77.4 182.8 78.2 182.7 79.0 182.7 79.8 182.6 80.6 182.7 81.4 182.8 82.2 182.8 83.0 182.6 83.8 182.3 84.6 182.3 85.4 182.3 86.2 182.5 87.0 182.3 87.8 182.2 88.6 182.2 89.4 181.9 90.2 182.0 91.0 181.9 91.8 182.4 92.6 182.5 93.4 182.5 94.2 182.3 95.0 182.3 95.8 182.3 96.6 182.2 97.4 182.1 98.2 182.4 99.0 182.4 99.8 182.3 100.6 182.1 101.4 182.3 102.2 182.4 103.0 182.7 103.8 182.4 104.6 182.6 105.4 182.1 106.2 182.1 107.0 181.9 107.8 181.8 108.6 181.6 109.4 181.8 110.2 181.8 111.0 182.1 111.8 182.0 112.6 182.0 113.4 181.9 114.2 181.9 115.0 181.9 115.8 181.9 116.6 181.9 117.4 181.8 118.2 181.7 119.0 181.6 119.8 181.7 120.6 181.9 121.4 182.2 122.2 182.2 123.0 182.1 123.8 182.0 124.6 182.0 125.4 181.9 126.2 182.0 127.0 181.8 127.8 181.8 128.6 181.9 129.4 181.8 130.2 181.8 131.0 181.5 131.8 181.7 132.6 181.9 133.4 181.9 134.2 181.5 135.0 181.4 135.8 181.5 136.6 181.6 137.4 181.5 138.2 181.4 139.0 181.3 139.8 181.4 140.6 181.4 141.4 181.7 142.2 181.5 143.0 181.4 143.8 181.3 144.6 181.4 145.4 181.4 146.2 181.6 147.0 181.6 147.8 181.4 148.6 181.4 149.4 181.4 150.2 181.6 151.0 181.4 151.8 181.2 152.6 181.2 153.4 180.9 154.2 181.0 155.0 181.1 155.8 181.5 156.6 181.6 157.4 181.3 158.2 181.3 159.0 181.3 159.8 181.4 160.6 181.4 161.4 181.2 162.2 181.3 163.0 181.0 163.8 181.2 164.6 181.0 165.4 181.1 166.2 180.9 167.0 181.1 167.8 181.3 168.6 181.3 169.4 181.3 170.2 181.3 171.0 181.2 171.8 180.9 172.6 180.6 173.4 180.4 174.2 180.6 175.0 180.8 175.8 181.0 176.6 181.0 177.4 181.0 178.2 180.9 179.0 180.7 179.8 180.5 180.6 180.7 181.4 181.0 182.2 181.0 183.0 180.9 183.8 180.8 184.6 181.1 185.4 181.1 186.2 181.0 187.0 181.0 187.8 180.8 188.6 180.7 189.4 180.6 190.2 180.7 191.0 181.0 191.8 181.0 192.6 181.1 193.4 180.8 194.2 180.8 195.0 180.8 195.8 180.9 196.6 180.7 197.4 180.5 198.2 180.5 199.0 180.6 199.8 180.9 200.6 180.9 201.4 180.9 202.2 180.7 203.0 180.6 203.8 180.6 204.6 180.7 205.4 180.7 206.2 180.6 207.0 180.6 207.8 180.8 208.6 180.7 209.4 180.6 210.2 180.5 211.0 180.7 212.1 181.2 213.1 183.9 214.1 187.2 215.1 190.2 216.1 192.9 217.1 194.9 218.1 196.4 219.1 197.6 220.1 198.2 221.1 198.5 222.1 198.7 223.1 198.8 224.1 199.0 225.1 199.1 226.1 199.2 227.1 199.3 228.1 199.1 229.1 199.2 230.1 199.4 231.1 200.0 232.1 200.0 233.1 200.1 234.1 199.9 235.1 200.2 236.1 200.3 237.1 200.5 238.1 200.8 239.1 200.7 240.1 200.6 241.1 200.6 242.1 200.9 243.1 200.6 244.1 200.6 245.1 200.2 246.1 200.2 247.1 200.0 248.1 200.4 249.1 201.0 250.1 201.4 251.1 201.0 252.1 200.7 253.1 200.3 254.1 200.6 255.1 200.8 256.1 201.2 257.1 201.2 258.1 200.9 259.1 200.2 260.1 199.8 261.1 199.8 262.1 200.3 263.1 200.9 264.1 200.9 265.1 200.9 266.1 200.7 267.1 200.8 268.1 201.0 269.1 200.7 270.1 200.7 271.1 200.6 272.1 200.9 273.1 200.5 274.1 200.5 275.1 200.0 276.1 199.9 277.1 199.8 278.1 200.1 279.1 200.5 280.1 200.9 281.1 201.0 282.1 201.2 283.1 200.8 284.1 201.0 285.1 200.3 286.1 200.4 287.1 200.2 288.1 200.6 289.1 200.7 290.1 200.5 291.1 200.5 292.1 200.3 293.1 200.6 294.1 200.6 295.1 200.6 296.1 200.3 297.1 200.1 298.1 200.2 299.1 200.3 300.1 200.8 301.1 200.4 302.1 200.9 303.1 200.4 304.1 201.0 305.1 200.6 306.1 200.9 307.1 200.6 308.1 200.9 309.1 201.0 310.1 201.2 311.1 201.0 312.1 201.1 313.1 201.3 314.1 201.1 315.1 201.3 316.1 201.0 317.1 200.8 318.1 200.5 319.1 200.2 320.1 201.0 321.1 200.8 322.1 201.0 323.1 200.6 324.1 200.2 325.1 200.2 326.1 199.9 327.1 200.5 328.1 200.7 329.1 201.1 330.1 200.6 331.1 200.4" fill="none" stroke="#1a1a1a" stroke-width="1.05" stroke-linejoin="round"/>
<path d="M43.0 198.9 43.8 196.7 44.6 194.8 45.4 193.2 46.2 192.0 47.0 190.6 47.8 189.4 48.6 188.1 49.4 187.0 50.2 186.1 51.0 185.3 51.8 184.6 52.6 184.0 53.4 183.5 54.2 183.0 55.0 182.3 55.8 181.6 56.6 181.2 57.4 180.8 58.2 180.5 59.0 180.0 59.8 179.7 60.6 179.3 61.4 178.9 62.2 178.4 63.0 178.1 63.8 177.6 64.6 177.5 65.4 177.0 66.2 176.7 67.0 176.2 67.8 175.8 68.6 175.5 69.4 175.0 70.2 174.6 71.0 174.1 71.8 173.7 72.6 173.7 73.4 173.4 74.2 173.3 75.0 173.0 75.8 173.0 76.6 173.2 77.4 173.2 78.2 173.2 79.0 173.1 79.8 173.3 80.6 173.5 81.4 173.6 82.2 173.9 83.0 174.1 83.8 174.4 84.6 174.7 85.4 175.0 86.2 175.5 87.0 175.4 87.8 175.5 88.6 175.5 89.4 175.9 90.2 176.2 91.0 176.2 91.8 176.2 92.6 176.1 93.4 176.5 94.2 176.6 95.0 176.5 95.8 176.4 96.6 176.3 97.4 176.4 98.2 176.4 99.0 176.4 99.8 176.5 100.6 176.4 101.4 176.7 102.2 176.7 103.0 177.0 103.8 176.6 104.6 176.2 105.4 176.0 106.2 176.1 107.0 176.5 107.8 176.7 108.6 176.7 109.4 176.6 110.2 176.5 111.0 176.6 111.8 176.6 112.6 176.4 113.4 176.3 114.2 176.1 115.0 176.0 115.8 176.2 116.6 176.1 117.4 175.9 118.2 175.9 119.0 175.7 119.8 176.1 120.6 175.9 121.4 176.3 122.2 176.3 123.0 176.1 123.8 175.9 124.6 175.9 125.4 176.0 126.2 176.1 127.0 175.9 127.8 176.0 128.6 176.1 129.4 176.1 130.2 175.9 131.0 175.8 131.8 175.8 132.6 175.9 133.4 175.9 134.2 176.1 135.0 175.8 135.8 175.8 136.6 175.8 137.4 176.0 138.2 176.0 139.0 175.7 139.8 175.5 140.6 175.4 141.4 175.5 142.2 175.5 143.0 175.4 143.8 175.2 144.6 175.3 145.4 175.5 146.2 175.4 147.0 175.3 147.8 175.0 148.6 175.1 149.4 175.5 150.2 175.7 151.0 175.7 151.8 175.2 152.6 175.0 153.4 174.9 154.2 174.9 155.0 175.0 155.8 175.3 156.6 175.1 157.4 175.2 158.2 175.1 159.0 175.1 159.8 175.1 160.6 174.8 161.4 175.0 162.2 175.1 163.0 175.2 163.8 175.2 164.6 174.9 165.4 174.9 166.2 175.0 167.0 175.0 167.8 175.0 168.6 174.9 169.4 175.0 170.2 174.8 171.0 174.7 171.8 174.6 172.6 174.8 173.4 174.8 174.2 174.9 175.0 175.0 175.8 174.8 176.6 174.7 177.4 174.4 178.2 174.5 179.0 174.5 179.8 174.6 180.6 174.4 181.4 174.4 182.2 174.3 183.0 174.5 183.8 174.5 184.6 174.6 185.4 174.6 186.2 174.4 187.0 174.2 187.8 174.0 188.6 174.3 189.4 174.5 190.2 174.6 191.0 174.5 191.8 174.2 192.6 173.9 193.4 173.8 194.2 173.9 195.0 174.0 195.8 174.0 196.6 174.1 197.4 174.3 198.2 174.4 199.0 174.4 199.8 174.3 200.6 174.1 201.4 174.1 202.2 174.0 203.0 174.1 203.8 174.1 204.6 174.2 205.4 174.0 206.2 174.2 207.0 174.3 207.8 174.5 208.6 174.3 209.4 174.3 210.2 174.2 211.0 174.0 212.1 174.5 213.1 178.5 214.1 182.9 215.1 187.1 216.1 190.7 217.1 193.3 218.1 195.5 219.1 196.7 220.1 197.7 221.1 198.2 222.1 198.8 223.1 198.9 224.1 199.0 225.1 198.7 226.1 198.6 227.1 198.4 228.1 198.3 229.1 198.1 230.1 198.0 231.1 197.9 232.1 197.7 233.1 197.7 234.1 197.6 235.1 197.5 236.1 197.0 237.1 196.9 238.1 196.8 239.1 197.1 240.1 196.8 241.1 196.8 242.1 196.8 243.1 197.2 244.1 197.5 245.1 197.2 246.1 197.0 247.1 196.6 248.1 196.4 249.1 197.0 250.1 197.3 251.1 197.6 252.1 197.3 253.1 197.1 254.1 197.6 255.1 197.3 256.1 196.8 257.1 195.9 258.1 196.1 259.1 196.2 260.1 196.6 261.1 196.7 262.1 196.8 263.1 196.8 264.1 196.8 265.1 197.0 266.1 197.1 267.1 197.1 268.1 196.8 269.1 196.6 270.1 196.9 271.1 197.0 272.1 197.1 273.1 196.5 274.1 196.4 275.1 196.1 276.1 195.9 277.1 196.1 278.1 196.6 279.1 196.9 280.1 196.6 281.1 196.0 282.1 196.3 283.1 196.6 284.1 197.3 285.1 197.2 286.1 197.1 287.1 197.0 288.1 196.6 289.1 196.7 290.1 196.7 291.1 197.3 292.1 197.5 293.1 197.4 294.1 197.2 295.1 197.2 296.1 196.7 297.1 196.5 298.1 196.5 299.1 197.0 300.1 196.9 301.1 196.8 302.1 197.0 303.1 197.1 304.1 197.0 305.1 196.7 306.1 196.7 307.1 197.1 308.1 197.5 309.1 197.3 310.1 196.9 311.1 196.4 312.1 196.8 313.1 197.0 314.1 197.3 315.1 197.1 316.1 197.0 317.1 196.8 318.1 196.7 319.1 196.5 320.1 196.5 321.1 196.7 322.1 196.8 323.1 196.7 324.1 197.0 325.1 196.8 326.1 197.1 327.1 196.8 328.1 196.7 329.1 196.4 330.1 196.3 331.1 196.5" fill="none" stroke="#1a1a1a" stroke-width="1.05" stroke-linejoin="round"/>
<path d="M223.1 199.0 224.1 198.9 225.1 198.9 226.1 198.8 227.1 198.9 228.1 199.0 229.1 199.0 230.1 199.2 231.1 199.0 232.1 199.0 233.1 198.8 234.1 198.8 235.1 198.4 236.1 198.6 237.1 198.6 238.1 198.9 239.1 198.7 240.1 198.8 241.1 199.3 242.1 199.5 243.1 199.8 244.1 199.4 245.1 199.2 246.1 198.7 247.1 198.8 248.1 198.6 249.1 198.7 250.1 198.6 251.1 198.4 252.1 198.8 253.1 199.0 254.1 199.1 255.1 198.8 256.1 199.0 257.1 199.3 258.1 199.1 259.1 198.6 260.1 198.6 261.1 199.1 262.1 198.9 263.1 198.7 264.1 198.1 265.1 198.3 266.1 198.5 267.1 198.8 268.1 198.8 269.1 199.1 270.1 199.0 271.1 199.1 272.1 198.9 273.1 199.0 274.1 199.0 275.1 198.9 276.1 198.6 277.1 198.9 278.1 198.9 279.1 199.4 280.1 199.1 281.1 199.1 282.1 198.4 283.1 198.4 284.1 198.4 285.1 199.0 286.1 199.1 287.1 199.1 288.1 198.7 289.1 198.7 290.1 198.6 291.1 199.1 292.1 199.2 293.1 199.1 294.1 198.6 295.1 198.5 296.1 198.5 297.1 198.2 298.1 198.0 299.1 197.8 300.1 198.4 301.1 198.7 302.1 199.0 303.1 199.1 304.1 198.8 305.1 198.9 306.1 198.7 307.1 198.9 308.1 199.0 309.1 198.7 310.1 198.5 311.1 198.1 312.1 198.3 313.1 198.6 314.1 198.3 315.1 198.3 316.1 198.2 317.1 199.1 318.1 199.5 319.1 199.5 320.1 198.7 321.1 198.6 322.1 198.3 323.1 198.6 324.1 198.6 325.1 198.8 326.1 198.8 327.1 198.5 328.1 198.6 329.1 198.8 330.1 199.1 331.1 199.0" fill="none" stroke="#1a1a1a" stroke-width="1.05" stroke-linejoin="round"/>
<path d="M43.0 198.8 43.7 195.1 44.4 192.5 45.1 190.2 45.8 188.0 46.5 186.0 47.2 184.0 47.9 182.1 48.6 180.3 49.3 178.5 50.0 176.8 50.7 175.0 51.4 173.4 52.1 171.7 52.8 170.1 54.3 165.5 55.2 161.0 55.6 156.0 M57.9 172.0 58.6 187.0 59.3 192.5 59.6 195.4 60.6 196.0 61.3 195.8 62.1 195.6 62.9 195.4 63.7 194.9 64.5 194.3 65.3 193.6 66.1 193.0 66.9 192.5 67.7 191.8 68.5 191.1 69.3 190.4 70.1 189.7 70.9 189.2 71.7 188.6 72.5 188.0 73.3 187.4 74.1 186.9 74.9 186.3 75.7 185.7 76.5 184.9 77.3 184.3 78.1 183.6 78.9 183.0 79.7 182.3 80.5 181.6 81.3 180.9 82.1 180.2 82.9 179.5 83.7 178.8 84.5 178.2 85.3 177.4 86.1 176.6 86.9 175.7 87.7 175.0 88.5 174.1 89.3 173.2 90.1 172.3 90.9 171.5 91.7 170.6 92.5 169.6 93.3 168.3 94.8 164.5 95.4 161.8 96.0 157.4 96.4 152.5 M98.6 172.0 99.3 184.4 100.0 189.9 103.0 192.8 104.0 193.4 104.7 193.0 105.5 192.9 106.3 192.7 107.1 192.3 107.9 191.7 108.7 191.0 109.5 190.4 110.3 189.8 111.1 189.2 111.9 188.6 112.7 187.9 113.5 187.3 114.3 186.9 115.1 186.5 115.9 186.0 116.7 185.6 117.5 185.1 118.3 184.7 119.1 184.1 119.9 183.8 120.7 183.2 121.5 182.7 122.3 182.2 123.1 181.7 123.9 181.2 124.7 180.7 125.5 180.4 126.3 179.9 127.1 179.3 127.9 178.7 128.7 177.9 129.5 177.3 130.3 176.8 131.1 176.4 131.9 175.9 132.7 175.2 133.5 174.4 134.3 173.6 135.1 172.8 135.9 171.9 136.7 171.1 137.5 170.3 138.3 169.2 139.1 167.7 140.2 164.6 140.8 161.7 141.4 157.3 141.8 152.3 M144.0 172.0 144.7 183.0 145.4 188.5 147.5 191.4 148.5 192.0 149.2 191.8 150.0 191.6 150.8 191.3 151.6 190.9 152.4 190.2 153.2 189.5 154.0 188.9 154.8 188.3 155.6 187.8 156.4 187.2 157.2 186.7 158.0 186.1 158.8 185.5 159.6 185.0 160.4 184.5 161.2 184.1 162.0 183.4 162.8 182.9 163.6 182.3 164.4 181.8 165.2 181.2 166.0 180.7 166.8 180.2 167.6 179.6 168.4 179.0 169.2 178.3 170.0 177.6 170.8 177.0 171.6 176.3 172.4 175.6 173.2 175.0 174.0 174.2 174.8 173.4 175.6 172.5 176.4 171.8 177.2 171.0 178.0 170.1 178.8 168.9 179.6 167.5 180.6 164.6 181.2 161.7 181.8 157.3 182.2 152.4 M184.4 172.0 185.1 180.4 185.8 185.9 186.0 188.8 187.0 189.4 188.0 188.0 189.0 186.6 190.0 184.9 191.0 183.6 192.0 182.2 193.0 181.6 194.0 180.6 195.0 179.9 196.0 178.7 197.0 178.0 198.0 177.3 199.0 176.9 200.0 176.1 201.0 175.6 202.0 175.2 203.0 175.4 204.0 175.1 205.0 174.6 206.0 174.2 207.0 174.1 208.0 174.1 209.0 174.2 210.0 174.1 211.0 174.5 212.1 175.4 213.1 179.1 214.1 183.5 215.1 187.4 216.1 190.8 217.1 193.4 218.1 195.3 219.1 196.6 220.1 197.5 221.1 198.2 222.1 198.5 223.1 198.6 224.1 198.8 225.1 199.1 226.1 199.5 227.1 199.5 228.1 199.8 229.1 200.0 230.1 200.3 231.1 200.3 232.1 200.7 233.1 200.9 234.1 201.0 235.1 200.9 236.1 201.3 237.1 201.5 238.1 201.9 239.1 201.7 240.1 201.9 241.1 202.0 242.1 202.2 243.1 202.8 244.1 202.7 245.1 202.6 246.1 202.0 247.1 201.8 248.1 201.5 249.1 201.8 250.1 201.6 251.1 202.1 252.1 202.0 253.1 202.4 254.1 202.0 255.1 202.0 256.1 201.9 257.1 202.3 258.1 202.3 259.1 202.2 260.1 202.0 261.1 201.8 262.1 201.8 263.1 201.4 264.1 201.1 265.1 201.1 266.1 201.5 267.1 202.1 268.1 202.6 269.1 203.1 270.1 203.0 271.1 203.1 272.1 202.6 273.1 202.1 274.1 202.2 275.1 202.1 276.1 202.3 277.1 201.8 278.1 202.3 279.1 202.3 280.1 202.3 281.1 202.0 282.1 201.8 283.1 201.8 284.1 201.9 285.1 202.0 286.1 201.7 287.1 201.5 288.1 201.9 289.1 202.3 290.1 202.4 291.1 202.2 292.1 202.1 293.1 202.2 294.1 202.0 295.1 201.8 296.1 201.7 297.1 201.8 298.1 202.1 299.1 202.4 300.1 202.2 301.1 202.2 302.1 201.9 303.1 201.8 304.1 202.0 305.1 201.9 306.1 201.9 307.1 202.0 308.1 201.9 309.1 202.4 310.1 202.2 311.1 202.3 312.1 201.9 313.1 201.7 314.1 201.6 315.1 201.9 316.1 201.8 317.1 202.2 318.1 202.3 319.1 202.9 320.1 202.5 321.1 201.8 322.1 201.3 323.1 201.5 324.1 202.1 325.1 202.1 326.1 202.0 327.1 202.0 328.1 201.7 329.1 202.0 330.1 201.7 331.1 202.2" fill="none" stroke="#1a1a1a" stroke-width="1.05" stroke-linejoin="round"/>
<path d="M43.0 198.8 43.7 195.8 44.4 193.7 45.1 191.8 45.8 190.0 46.5 188.3 47.2 186.7 47.9 185.2 48.6 183.7 49.3 182.3 50.0 180.8 50.7 179.5 51.4 178.1 52.1 176.8 52.8 175.5 53.5 174.2 54.2 172.9 54.9 171.6 55.6 170.4 56.3 169.2 57.4 165.5 58.3 161.0 58.7 156.0 M61.0 172.0 61.7 189.6 62.4 195.1 64.2 198.0 65.2 198.6 65.9 198.4 66.7 198.2 67.5 197.9 68.3 197.5 69.1 196.9 69.9 196.3 70.7 195.6 71.5 194.9 72.3 194.2 73.1 193.5 73.9 192.8 74.7 192.2 75.5 191.3 76.3 190.6 77.1 189.9 77.9 189.2 78.7 188.5 79.5 187.6 80.3 186.7 81.1 185.9 81.9 185.2 82.7 184.4 83.5 183.6 84.3 182.7 85.1 181.9 85.9 180.9 86.7 180.0 87.5 179.0 88.3 178.2 89.1 177.3 89.9 176.3 90.7 175.3 91.5 174.3 92.3 173.3 93.1 172.3 93.9 171.4 94.7 170.7 95.5 169.8 96.3 168.6 97.1 167.0 97.9 164.5 98.5 161.7 99.1 157.3 99.5 152.5 M101.7 172.0 102.4 187.6 103.1 193.1 105.4 196.0 106.4 196.6 107.1 196.4 107.9 196.2 108.7 195.8 109.5 195.4 110.3 194.7 111.1 194.1 111.9 193.4 112.7 192.8 113.5 192.3 114.3 191.7 115.1 191.1 115.9 190.4 116.7 189.9 117.5 189.4 118.3 189.0 119.1 188.4 119.9 187.9 120.7 187.3 121.5 186.7 122.3 186.2 123.1 185.6 123.9 185.1 124.7 184.6 125.5 184.1 126.3 183.6 127.1 183.0 127.9 182.4 128.7 181.6 129.5 181.0 130.3 180.4 131.1 180.0 131.9 179.5 132.7 178.7 133.5 177.9 134.3 177.2 135.1 176.6 135.9 175.8 136.7 175.0 137.5 174.2 138.3 173.3 139.1 172.5 139.9 171.7 140.7 170.9 141.5 169.9 142.3 168.7 143.1 167.2 144.0 164.6 144.6 161.8 145.2 157.4 145.6 152.5 M147.8 172.0 148.5 183.6 149.2 189.1 151.3 192.0 152.3 192.6 153.3 191.7 154.3 190.9 155.3 189.9 156.3 189.3 157.3 188.5 158.3 187.8 159.3 186.9 160.3 186.4 161.3 185.8 162.3 185.1 163.3 184.2 164.3 183.5 165.3 182.6 166.3 181.8 167.3 181.1 168.3 180.5 169.3 179.9 170.3 179.4 171.3 178.8 172.3 178.2 173.3 177.4 174.3 176.6 175.3 176.0 176.3 175.3 177.3 174.9 178.3 174.4 179.3 173.9 180.3 173.3 181.3 173.0 182.3 172.6 183.3 172.4 184.3 171.8 185.3 171.3 186.3 170.8 187.3 170.4 188.3 170.0 189.3 169.4 190.3 168.9 191.3 168.3 192.3 167.9 193.3 167.6 194.3 167.5 195.3 167.2 196.3 166.8 197.3 166.2 198.3 165.6 199.3 165.3 200.3 164.9 201.3 164.7 202.3 164.1 203.3 163.7 204.3 163.4 205.3 163.4 206.3 163.5 207.3 163.6 208.3 164.0 209.3 164.5 210.3 165.3 211.3 165.8 212.1 166.6 213.1 171.8 214.1 177.7 215.1 183.1 216.1 187.8 217.1 191.4 218.1 194.2 219.1 196.1 220.1 197.5 221.1 198.0 222.1 198.5 223.1 198.9 224.1 199.2 225.1 199.4 226.1 199.4 227.1 199.4 228.1 199.3 229.1 199.6 230.1 199.8 231.1 200.0 232.1 199.7 233.1 199.9 234.1 200.1 235.1 200.7 236.1 200.8 237.1 201.1 238.1 201.0 239.1 201.0 240.1 201.1 241.1 200.5 242.1 200.7 243.1 200.7 244.1 200.9 245.1 201.1 246.1 201.0 247.1 201.2 248.1 200.8 249.1 200.5 250.1 200.5 251.1 200.4 252.1 200.9 253.1 201.2 254.1 201.3 255.1 200.8 256.1 200.6 257.1 200.4 258.1 201.0 259.1 201.0 260.1 201.3 261.1 201.1 262.1 201.2 263.1 201.7 264.1 201.6 265.1 201.5 266.1 201.0 267.1 200.9 268.1 200.9 269.1 201.3 270.1 201.5 271.1 201.3 272.1 201.1 273.1 201.0 274.1 201.3 275.1 201.4 276.1 201.5 277.1 201.5 278.1 201.6 279.1 201.4 280.1 201.2 281.1 201.0 282.1 201.3 283.1 201.3 284.1 201.8 285.1 201.6 286.1 201.7 287.1 201.3 288.1 201.3 289.1 201.3 290.1 201.2 291.1 201.2 292.1 201.0 293.1 200.9 294.1 201.2 295.1 201.4 296.1 201.8 297.1 201.2 298.1 201.1 299.1 201.0 300.1 201.2 301.1 201.3 302.1 201.3 303.1 201.2 304.1 201.2 305.1 201.3 306.1 201.8 307.1 201.4 308.1 201.4 309.1 201.0 310.1 201.1 311.1 201.0 312.1 200.8 313.1 200.5 314.1 200.1 315.1 200.4 316.1 201.4 317.1 201.5 318.1 201.2 319.1 200.3 320.1 200.4 321.1 200.7 322.1 201.1 323.1 200.9 324.1 200.7 325.1 200.2 326.1 200.3 327.1 200.4 328.1 200.4 329.1 200.8 330.1 201.2 331.1 201.8" fill="none" stroke="#1a1a1a" stroke-width="1.05" stroke-linejoin="round"/>
<path d="M249.80 158.0 250.15 150.0 250.45 90.0 250.60 42.8 250.80 44.8 251.20 100.0 251.60 150.0 252.40 175.0 M248.80 158.0 249.15 150.0 249.45 90.0 249.60 34.6 249.80 36.6 250.20 100.0 250.60 150.0 251.40 175.0 M247.90 158.0 248.25 150.0 248.55 90.0 248.70 38.1 248.90 40.1 249.30 100.0 249.70 150.0 250.50 175.0 M245.90 158.0 246.25 150.0 246.55 90.0 246.70 37.0 246.90 39.0 247.30 100.0 247.70 150.0 248.50 175.0 M243.50 158.0 243.85 150.0 244.15 90.0 244.30 35.8 244.50 37.8 244.90 100.0 245.30 150.0 246.10 175.0 M254.10 158.0 254.45 150.0 254.75 90.0 254.90 48.7 255.10 50.7 255.50 100.0 255.90 150.0 256.70 175.0 M55.60 156.0 55.85 150.0 56.15 90.0 56.30 31.8 56.50 33.8 56.90 100.0 57.30 150.0 57.90 172.0 M96.40 152.5 96.55 150.0 96.85 90.0 97.00 44.4 97.20 46.4 97.60 100.0 98.00 150.0 98.60 172.0 M141.80 152.3 141.95 150.0 142.25 90.0 142.40 44.4 142.60 46.4 143.00 100.0 143.40 150.0 144.00 172.0 M182.20 152.4 182.35 150.0 182.65 90.0 182.80 42.6 183.00 44.6 183.40 100.0 183.80 150.0 184.40 172.0 M58.70 156.0 58.95 150.0 59.25 90.0 59.40 30.8 59.60 32.8 60.00 100.0 60.40 150.0 61.00 172.0 M99.50 152.5 99.65 150.0 99.95 90.0 100.10 35.8 100.30 37.8 100.70 100.0 101.10 150.0 101.70 172.0 M145.60 152.5 145.75 150.0 146.05 90.0 146.20 40.3 146.40 42.3 146.80 100.0 147.20 150.0 147.80 172.0" fill="none" stroke="#222" stroke-width="0.8" stroke-linejoin="round"/>
<rect x="18.4" y="192.2" width="24.4" height="11.4" fill="#0f0f0f"/>
<line x1="22.5" y1="194.6" x2="31" y2="194.6" stroke="#8a8a8a" stroke-width="0.55" />
<line x1="25" y1="196.2" x2="29" y2="196.2" stroke="#8a8a8a" stroke-width="0.55" />
<line x1="31" y1="196.3" x2="36" y2="196.3" stroke="#8a8a8a" stroke-width="0.55" />
<line x1="20.5" y1="198.2" x2="42" y2="198.2" stroke="#8a8a8a" stroke-width="0.55" />
<line x1="23" y1="200" x2="27" y2="200" stroke="#8a8a8a" stroke-width="0.55" />
<line x1="21.5" y1="201.6" x2="31" y2="201.6" stroke="#8a8a8a" stroke-width="0.55" />
<line x1="20" y1="85.5" x2="20" y2="128.3" stroke="#333" stroke-width="1.3" />
<text x="0" y="0" font-size="14" text-anchor="middle" fill="#1a1a1a" transform="translate(17.2,106.5) rotate(-90)">20 mV</text>
<line x1="284.8" y1="85.1" x2="306.6" y2="85.1" stroke="#444" stroke-width="1.1" stroke-dasharray="1.2 1.2"/>
<text x="310" y="91.3" font-size="14" text-anchor="start" fill="#1a1a1a" >0</text>
<line x1="282.8" y1="235.7" x2="331.9" y2="235.7" stroke="#444" stroke-width="1.5" />
<text x="296.3" y="250.6" font-size="14" text-anchor="start" fill="#1a1a1a" >0.1 s</text>
<line x1="240" y1="266.4" x2="258.3" y2="266.4" stroke="#333" stroke-width="1.0" stroke-dasharray="1.4 1.0"/>
<line x1="240" y1="295.1" x2="258.3" y2="295.1" stroke="#333" stroke-width="1.0" stroke-dasharray="1.4 1.0"/>
<path d="M249.2 266.6 L253.3 277.4 L250.4 277.4 L250.4 284 L253.3 284 L249.2 295 L245.1 284 L248 284 L248 277.4 L245.1 277.4 Z" fill="#7a0a0a"/>
<path d="M77.0 297.3 L79.3 309.3 L82.1 306.0 L86.4 305.1 Z" fill="#0c0c8c"/>
<line x1="82.1" y1="306.0" x2="85.2" y2="311.2" stroke="#0c0c8c" stroke-width="2.2"/>
<path d="M209.2 268.3 L211.7 280.3 L214.5 276.9 L218.7 276.0 Z" fill="#0c880c"/>
<line x1="214.5" y1="276.9" x2="217.5" y2="281.9" stroke="#0c880c" stroke-width="2.2"/>
<path d="M268.0 163.9 L277.9 156.7 L273.7 155.5 L271.1 152.1 Z" fill="#85850f"/>
<line x1="273.7" y1="155.5" x2="277.6" y2="149.8" stroke="#85850f" stroke-width="2.2"/>
<text transform="translate(360.3,17.5) scale(1,1.11)" font-size="23" fill="#000">B</text>
<text transform="translate(544.8,17.5) scale(1,1.11)" font-size="23" fill="#000">C</text>
<text transform="translate(360.5,175.6) scale(1,1.11)" font-size="23" fill="#000">D</text>
<text transform="translate(545.3,175.6) scale(1,1.11)" font-size="23" fill="#000">E</text>
<line x1="410" y1="29.2" x2="410" y2="131.2" stroke="#8a8a8a" stroke-width="1.2" />
<line x1="410" y1="131.2" x2="527.5" y2="131.2" stroke="#8a8a8a" stroke-width="1.2" />
<line x1="405.5" y1="29.2" x2="410" y2="29.2" stroke="#8a8a8a" stroke-width="1.2" />
<line x1="405.5" y1="58.47" x2="410" y2="58.47" stroke="#8a8a8a" stroke-width="1.2" />
<line x1="405.5" y1="87.73" x2="410" y2="87.73" stroke="#8a8a8a" stroke-width="1.2" />
<line x1="405.5" y1="117" x2="410" y2="117" stroke="#8a8a8a" stroke-width="1.2" />
<line x1="407.5" y1="43.83" x2="410" y2="43.83" stroke="#8a8a8a" stroke-width="1.2" />
<line x1="407.5" y1="73.1" x2="410" y2="73.1" stroke="#8a8a8a" stroke-width="1.2" />
<line x1="407.5" y1="102.36" x2="410" y2="102.36" stroke="#8a8a8a" stroke-width="1.2" />
<line x1="409.8" y1="131.2" x2="409.8" y2="135.7" stroke="#8a8a8a" stroke-width="1.2" />
<line x1="439.12" y1="131.2" x2="439.12" y2="135.7" stroke="#8a8a8a" stroke-width="1.2" />
<line x1="468.45" y1="131.2" x2="468.45" y2="135.7" stroke="#8a8a8a" stroke-width="1.2" />
<line x1="497.78" y1="131.2" x2="497.78" y2="135.7" stroke="#8a8a8a" stroke-width="1.2" />
<line x1="527.1" y1="131.2" x2="527.1" y2="135.7" stroke="#8a8a8a" stroke-width="1.2" />
<line x1="424.46" y1="131.2" x2="424.46" y2="133.7" stroke="#8a8a8a" stroke-width="1.2" />
<line x1="453.79" y1="131.2" x2="453.79" y2="133.7" stroke="#8a8a8a" stroke-width="1.2" />
<line x1="483.11" y1="131.2" x2="483.11" y2="133.7" stroke="#8a8a8a" stroke-width="1.2" />
<line x1="512.44" y1="131.2" x2="512.44" y2="133.7" stroke="#8a8a8a" stroke-width="1.2" />
<text x="409.8" y="149.4" font-size="13.7" text-anchor="middle" fill="#000" >-200</text>
<text x="439.12" y="149.4" font-size="13.7" text-anchor="middle" fill="#000" >-150</text>
<text x="468.45" y="149.4" font-size="13.7" text-anchor="middle" fill="#000" >-100</text>
<text x="497.78" y="149.4" font-size="13.7" text-anchor="middle" fill="#000" >-50</text>
<text x="527.1" y="149.4" font-size="13.7" text-anchor="middle" fill="#000" >0</text>
<text x="402.6" y="33.9" font-size="13.7" text-anchor="end" fill="#000" >300</text>
<text x="402.6" y="63.17" font-size="13.7" text-anchor="end" fill="#000" >250</text>
<text x="402.6" y="92.43" font-size="13.7" text-anchor="end" fill="#000" >200</text>
<text x="402.6" y="121.7" font-size="13.7" text-anchor="end" fill="#000" >150</text>
<text x="469" y="172.4" font-size="15.3" text-anchor="middle" fill="#000" >I (pA)</text>
<text transform="translate(370.6,108.2) rotate(-90)" font-size="15" fill="#000">R<tspan font-size="10.5" dy="3.6">m</tspan><tspan dy="-3.6"> (MΩ)</tspan></text>
<circle cx="416" cy="33.9" r="2.9" fill="#0b0b8e"/>
<circle cx="416" cy="52.3" r="2.9" fill="#0a8a0a"/>
<text x="431.6" y="38.8" font-size="14" fill="#000">R<tspan font-size="8.8" dy="3.6">max</tspan></text>
<text x="431.6" y="57.5" font-size="14" fill="#000">R<tspan font-size="8.8" dy="3.6">end</tspan></text>
<line x1="411" y1="72.4" x2="526" y2="59" stroke="#222" stroke-width="1" />
<line x1="411" y1="111.2" x2="525" y2="77.2" stroke="#222" stroke-width="1" />
<circle cx="413.2" cy="72" r="2.75" fill="#0b0b8e"/>
<circle cx="416.3" cy="73.5" r="2.75" fill="#0b0b8e"/>
<circle cx="419.3" cy="71.5" r="2.75" fill="#0b0b8e"/>
<circle cx="422.4" cy="67.6" r="2.75" fill="#0b0b8e"/>
<circle cx="425.5" cy="72.7" r="2.75" fill="#0b0b8e"/>
<circle cx="428.5" cy="69.2" r="2.75" fill="#0b0b8e"/>
<circle cx="431.6" cy="72" r="2.75" fill="#0b0b8e"/>
<circle cx="434.2" cy="66.9" r="2.75" fill="#0b0b8e"/>
<circle cx="437.8" cy="70" r="2.75" fill="#0b0b8e"/>
<circle cx="440.3" cy="67.9" r="2.75" fill="#0b0b8e"/>
<circle cx="443.4" cy="70" r="2.75" fill="#0b0b8e"/>
<circle cx="446.5" cy="67.4" r="2.75" fill="#0b0b8e"/>
<circle cx="449.5" cy="69.2" r="2.75" fill="#0b0b8e"/>
<circle cx="452.6" cy="67.4" r="2.75" fill="#0b0b8e"/>
<circle cx="455.7" cy="68.9" r="2.75" fill="#0b0b8e"/>
<circle cx="458.2" cy="65.1" r="2.75" fill="#0b0b8e"/>
<circle cx="461.5" cy="67.4" r="2.75" fill="#0b0b8e"/>
<circle cx="464.6" cy="62.3" r="2.75" fill="#0b0b8e"/>
<circle cx="467.7" cy="62.3" r="2.75" fill="#0b0b8e"/>
<circle cx="470.2" cy="66.9" r="2.75" fill="#0b0b8e"/>
<circle cx="473.3" cy="65.9" r="2.75" fill="#0b0b8e"/>
<circle cx="476.4" cy="62.3" r="2.75" fill="#0b0b8e"/>
<circle cx="479.4" cy="64.3" r="2.75" fill="#0b0b8e"/>
<circle cx="482" cy="64.3" r="2.75" fill="#0b0b8e"/>
<circle cx="485.1" cy="64.8" r="2.75" fill="#0b0b8e"/>
<circle cx="488.1" cy="66.9" r="2.75" fill="#0b0b8e"/>
<circle cx="491.2" cy="65.9" r="2.75" fill="#0b0b8e"/>
<circle cx="494.3" cy="65.4" r="2.75" fill="#0b0b8e"/>
<circle cx="497.4" cy="61.8" r="2.75" fill="#0b0b8e"/>
<circle cx="500.4" cy="65.9" r="2.75" fill="#0b0b8e"/>
<circle cx="503.5" cy="61.8" r="2.75" fill="#0b0b8e"/>
<circle cx="506.6" cy="68.4" r="2.75" fill="#0b0b8e"/>
<circle cx="509.6" cy="61.8" r="2.75" fill="#0b0b8e"/>
<circle cx="512.7" cy="60.7" r="2.75" fill="#0b0b8e"/>
<circle cx="515.8" cy="62.8" r="2.75" fill="#0b0b8e"/>
<circle cx="518.9" cy="59.7" r="2.75" fill="#0b0b8e"/>
<circle cx="413.2" cy="109.5" r="2.75" fill="#0a8a0a"/>
<circle cx="416.6" cy="112.5" r="2.75" fill="#0a8a0a"/>
<circle cx="419.2" cy="108.6" r="2.75" fill="#0a8a0a"/>
<circle cx="422.4" cy="105" r="2.75" fill="#0a8a0a"/>
<circle cx="425.4" cy="109" r="2.75" fill="#0a8a0a"/>
<circle cx="428.4" cy="105.5" r="2.75" fill="#0a8a0a"/>
<circle cx="431.3" cy="107.2" r="2.75" fill="#0a8a0a"/>
<circle cx="434.2" cy="102.9" r="2.75" fill="#0a8a0a"/>
<circle cx="437.2" cy="103.7" r="2.75" fill="#0a8a0a"/>
<circle cx="440.3" cy="102" r="2.75" fill="#0a8a0a"/>
<circle cx="443.8" cy="103.7" r="2.75" fill="#0a8a0a"/>
<circle cx="446.8" cy="100" r="2.75" fill="#0a8a0a"/>
<circle cx="450" cy="102" r="2.75" fill="#0a8a0a"/>
<circle cx="452.6" cy="98.4" r="2.75" fill="#0a8a0a"/>
<circle cx="455.7" cy="100.7" r="2.75" fill="#0a8a0a"/>
<circle cx="458.7" cy="96.7" r="2.75" fill="#0a8a0a"/>
<circle cx="461.5" cy="99.7" r="2.75" fill="#0a8a0a"/>
<circle cx="464.6" cy="94" r="2.75" fill="#0a8a0a"/>
<circle cx="467.7" cy="92" r="2.75" fill="#0a8a0a"/>
<circle cx="470.7" cy="94.6" r="2.75" fill="#0a8a0a"/>
<circle cx="473.8" cy="94.6" r="2.75" fill="#0a8a0a"/>
<circle cx="476.4" cy="88.9" r="2.75" fill="#0a8a0a"/>
<circle cx="479.4" cy="93" r="2.75" fill="#0a8a0a"/>
<circle cx="482.5" cy="88.9" r="2.75" fill="#0a8a0a"/>
<circle cx="485.6" cy="89.4" r="2.75" fill="#0a8a0a"/>
<circle cx="488.7" cy="91.5" r="2.75" fill="#0a8a0a"/>
<circle cx="491.2" cy="87.9" r="2.75" fill="#0a8a0a"/>
<circle cx="494.3" cy="86.9" r="2.75" fill="#0a8a0a"/>
<circle cx="497.4" cy="88.4" r="2.75" fill="#0a8a0a"/>
<circle cx="500.9" cy="84.8" r="2.75" fill="#0a8a0a"/>
<circle cx="503.5" cy="79.7" r="2.75" fill="#0a8a0a"/>
<circle cx="506.6" cy="80.7" r="2.75" fill="#0a8a0a"/>
<circle cx="509.6" cy="84.3" r="2.75" fill="#0a8a0a"/>
<circle cx="515.8" cy="77.7" r="2.75" fill="#0a8a0a"/>
<circle cx="518.9" cy="83.3" r="2.75" fill="#0a8a0a"/>
<circle cx="512.5" cy="69.5" r="2.75" fill="#0a8a0a"/>
<line x1="585.3" y1="29.2" x2="585.3" y2="133" stroke="#8a8a8a" stroke-width="1.2" />
<line x1="585.3" y1="133.3" x2="643" y2="133.3" stroke="#8a8a8a" stroke-width="1.2" />
<line x1="646.5" y1="133.3" x2="703.5" y2="133.3" stroke="#8a8a8a" stroke-width="1.2" />
<line x1="641.5" y1="136" x2="643.8" y2="130" stroke="#333" stroke-width="0.9" />
<line x1="644.5" y1="136" x2="646.8" y2="130" stroke="#333" stroke-width="0.9" />
<line x1="580.8" y1="130.3" x2="585.3" y2="130.3" stroke="#8a8a8a" stroke-width="1.2" />
<line x1="580.8" y1="96.6" x2="585.3" y2="96.6" stroke="#8a8a8a" stroke-width="1.2" />
<line x1="580.8" y1="62.9" x2="585.3" y2="62.9" stroke="#8a8a8a" stroke-width="1.2" />
<line x1="580.8" y1="29.2" x2="585.3" y2="29.2" stroke="#8a8a8a" stroke-width="1.2" />
<line x1="582.8" y1="113.45" x2="585.3" y2="113.45" stroke="#8a8a8a" stroke-width="1.2" />
<line x1="582.8" y1="79.75" x2="585.3" y2="79.75" stroke="#8a8a8a" stroke-width="1.2" />
<line x1="582.8" y1="46.05" x2="585.3" y2="46.05" stroke="#8a8a8a" stroke-width="1.2" />
<line x1="586.8" y1="133" x2="586.8" y2="137.5" stroke="#8a8a8a" stroke-width="1.2" />
<line x1="624.8" y1="133" x2="624.8" y2="137.5" stroke="#8a8a8a" stroke-width="1.2" />
<line x1="605.8" y1="133" x2="605.8" y2="135.5" stroke="#8a8a8a" stroke-width="1.2" />
<line x1="652.3" y1="133" x2="652.3" y2="137.5" stroke="#8a8a8a" stroke-width="1.2" />
<line x1="686.5" y1="133" x2="686.5" y2="137.5" stroke="#8a8a8a" stroke-width="1.2" />
<line x1="669.4" y1="133" x2="669.4" y2="135.5" stroke="#8a8a8a" stroke-width="1.2" />
<line x1="703.6" y1="133" x2="703.6" y2="135.5" stroke="#8a8a8a" stroke-width="1.2" />
<text x="578.5" y="135" font-size="13.7" text-anchor="end" fill="#000" >0</text>
<text x="578.5" y="101.3" font-size="13.7" text-anchor="end" fill="#000" >2</text>
<text x="578.5" y="67.6" font-size="13.7" text-anchor="end" fill="#000" >4</text>
<text x="578.5" y="33.9" font-size="13.7" text-anchor="end" fill="#000" >6</text>
<text x="586.8" y="150.8" font-size="13.7" text-anchor="middle" fill="#000" >-200</text>
<text x="624.8" y="150.8" font-size="13.7" text-anchor="middle" fill="#000" >-150</text>
<text x="652.3" y="151.3" font-size="13.7" text-anchor="middle" fill="#000" >0</text>
<text x="686.5" y="151.3" font-size="13.7" text-anchor="middle" fill="#000" >50</text>
<text x="645" y="172.4" font-size="15.3" text-anchor="middle" fill="#000" >I (pA)</text>
<text x="0" y="0" font-size="15" text-anchor="middle" fill="#000" transform="translate(566.3,79.4) rotate(-90)">Spike number</text>
<circle cx="595.6" cy="36.5" r="2.9" fill="#1010e0"/>
<circle cx="595.6" cy="52.6" r="2.9" fill="#138585"/>
<text x="611.6" y="41.1" font-size="14" text-anchor="start" fill="#000" >Depol.</text>
<text x="611.6" y="56.8" font-size="14" text-anchor="start" fill="#000" >PIR</text>
<circle cx="590.7" cy="114.4" r="2.55" fill="#138585"/>
<circle cx="594.66" cy="114.4" r="2.55" fill="#138585"/>
<circle cx="598.62" cy="114.4" r="2.55" fill="#138585"/>
<circle cx="602.58" cy="114.4" r="2.55" fill="#138585"/>
<circle cx="606.54" cy="114.4" r="2.55" fill="#138585"/>
<circle cx="610.5" cy="114.4" r="2.55" fill="#138585"/>
<circle cx="614.46" cy="114.4" r="2.55" fill="#138585"/>
<circle cx="618.42" cy="114.4" r="2.55" fill="#138585"/>
<circle cx="622.38" cy="114.4" r="2.55" fill="#138585"/>
<circle cx="626.34" cy="114.4" r="2.55" fill="#138585"/>
<circle cx="630.3" cy="114.4" r="2.55" fill="#138585"/>
<circle cx="590.7" cy="131.4" r="2.55" fill="#1010e0"/>
<circle cx="594.55" cy="131.4" r="2.55" fill="#1010e0"/>
<circle cx="598.41" cy="131.4" r="2.55" fill="#1010e0"/>
<circle cx="602.26" cy="131.4" r="2.55" fill="#1010e0"/>
<circle cx="606.12" cy="131.4" r="2.55" fill="#1010e0"/>
<circle cx="609.97" cy="131.4" r="2.55" fill="#1010e0"/>
<circle cx="613.82" cy="131.4" r="2.55" fill="#1010e0"/>
<circle cx="617.68" cy="131.4" r="2.55" fill="#1010e0"/>
<circle cx="621.53" cy="131.4" r="2.55" fill="#1010e0"/>
<circle cx="625.38" cy="131.4" r="2.55" fill="#1010e0"/>
<circle cx="629.24" cy="131.4" r="2.55" fill="#1010e0"/>
<circle cx="633.09" cy="131.4" r="2.55" fill="#1010e0"/>
<circle cx="636.95" cy="131.4" r="2.55" fill="#1010e0"/>
<circle cx="640.8" cy="131.4" r="2.55" fill="#1010e0"/>
<circle cx="649.2" cy="131.4" r="2.55" fill="#1010e0"/>
<circle cx="652.97" cy="131.4" r="2.55" fill="#1010e0"/>
<circle cx="656.73" cy="131.4" r="2.55" fill="#1010e0"/>
<circle cx="660.5" cy="131.4" r="2.55" fill="#1010e0"/>
<circle cx="664.27" cy="131.4" r="2.55" fill="#1010e0"/>
<circle cx="668.03" cy="131.4" r="2.55" fill="#1010e0"/>
<circle cx="671.8" cy="131.4" r="2.55" fill="#1010e0"/>
<circle cx="675.57" cy="131.4" r="2.55" fill="#1010e0"/>
<circle cx="679.33" cy="131.4" r="2.55" fill="#1010e0"/>
<circle cx="683.1" cy="131.4" r="2.55" fill="#1010e0"/>
<circle cx="686.7" cy="97" r="2.9" fill="#1010e0"/>
<circle cx="690.4" cy="80.6" r="2.9" fill="#1010e0"/>
<circle cx="693.7" cy="62.6" r="2.9" fill="#1010e0"/>
<circle cx="697.7" cy="62.6" r="2.9" fill="#1010e0"/>
<circle cx="701" cy="46.6" r="2.9" fill="#1010e0"/>
<line x1="682" y1="131" x2="702.9" y2="34.2" stroke="#222" stroke-width="1" />
<line x1="410" y1="194.4" x2="410" y2="296.3" stroke="#8a8a8a" stroke-width="1.2" />
<line x1="410" y1="296.3" x2="527.5" y2="296.3" stroke="#8a8a8a" stroke-width="1.2" />
<line x1="405.5" y1="296.3" x2="410" y2="296.3" stroke="#8a8a8a" stroke-width="1.2" />
<line x1="405.5" y1="262.4" x2="410" y2="262.4" stroke="#8a8a8a" stroke-width="1.2" />
<line x1="405.5" y1="228.5" x2="410" y2="228.5" stroke="#8a8a8a" stroke-width="1.2" />
<line x1="405.5" y1="194.6" x2="410" y2="194.6" stroke="#8a8a8a" stroke-width="1.2" />
<line x1="407.5" y1="279.35" x2="410" y2="279.35" stroke="#8a8a8a" stroke-width="1.2" />
<line x1="407.5" y1="245.45" x2="410" y2="245.45" stroke="#8a8a8a" stroke-width="1.2" />
<line x1="407.5" y1="211.55" x2="410" y2="211.55" stroke="#8a8a8a" stroke-width="1.2" />
<line x1="410" y1="296.3" x2="410" y2="300.8" stroke="#8a8a8a" stroke-width="1.2" />
<line x1="439.32" y1="296.3" x2="439.32" y2="300.8" stroke="#8a8a8a" stroke-width="1.2" />
<line x1="468.65" y1="296.3" x2="468.65" y2="300.8" stroke="#8a8a8a" stroke-width="1.2" />
<line x1="497.98" y1="296.3" x2="497.98" y2="300.8" stroke="#8a8a8a" stroke-width="1.2" />
<line x1="527.3" y1="296.3" x2="527.3" y2="300.8" stroke="#8a8a8a" stroke-width="1.2" />
<line x1="424.66" y1="296.3" x2="424.66" y2="298.8" stroke="#8a8a8a" stroke-width="1.2" />
<line x1="453.99" y1="296.3" x2="453.99" y2="298.8" stroke="#8a8a8a" stroke-width="1.2" />
<line x1="483.31" y1="296.3" x2="483.31" y2="298.8" stroke="#8a8a8a" stroke-width="1.2" />
<line x1="512.64" y1="296.3" x2="512.64" y2="298.8" stroke="#8a8a8a" stroke-width="1.2" />
<text x="410" y="313.6" font-size="13.7" text-anchor="middle" fill="#000" >-200</text>
<text x="439.32" y="313.6" font-size="13.7" text-anchor="middle" fill="#000" >-150</text>
<text x="468.65" y="313.6" font-size="13.7" text-anchor="middle" fill="#000" >-100</text>
<text x="497.98" y="313.6" font-size="13.7" text-anchor="middle" fill="#000" >-50</text>
<text x="527.3" y="313.6" font-size="13.7" text-anchor="middle" fill="#000" >0</text>
<text x="402.6" y="301" font-size="13.7" text-anchor="end" fill="#000" >0</text>
<text x="402.6" y="267.1" font-size="13.7" text-anchor="end" fill="#000" >5</text>
<text x="402.6" y="233.2" font-size="13.7" text-anchor="end" fill="#000" >10</text>
<text x="402.6" y="199.3" font-size="13.7" text-anchor="end" fill="#000" >15</text>
<text x="469" y="337" font-size="15.3" text-anchor="middle" fill="#000" >I (pA)</text>
<text x="0" y="0" font-size="15" text-anchor="middle" fill="#000" transform="translate(383.2,246) rotate(-90)">ΔV (mV)</text>
<circle cx="417.7" cy="265" r="2.9" fill="#8a0a12"/>
<circle cx="417.7" cy="284" r="2.9" fill="#8c8c16"/>
<text x="432.6" y="269.7" font-size="14" fill="#000">V<tspan font-size="8.8" dy="3.6">sag</tspan></text>
<text x="432.6" y="289.2" font-size="14" fill="#000">V<tspan font-size="8.8" dy="3.6">RebP</tspan></text>
<circle cx="413.3" cy="211.6" r="2.75" fill="#8a0a12"/>
<circle cx="416.4" cy="210.6" r="2.75" fill="#8a0a12"/>
<circle cx="419.4" cy="215.7" r="2.75" fill="#8a0a12"/>
<circle cx="422.5" cy="217.7" r="2.75" fill="#8a0a12"/>
<circle cx="425.6" cy="223.5" r="2.75" fill="#8a0a12"/>
<circle cx="428.7" cy="224.9" r="2.75" fill="#8a0a12"/>
<circle cx="431.7" cy="228" r="2.75" fill="#8a0a12"/>
<circle cx="434.8" cy="229.6" r="2.75" fill="#8a0a12"/>
<circle cx="437.9" cy="236.2" r="2.75" fill="#8a0a12"/>
<circle cx="440.9" cy="237.2" r="2.75" fill="#8a0a12"/>
<circle cx="444" cy="240.3" r="2.75" fill="#8a0a12"/>
<circle cx="447.1" cy="243.3" r="2.75" fill="#8a0a12"/>
<circle cx="450.1" cy="246.4" r="2.75" fill="#8a0a12"/>
<circle cx="453.2" cy="250.1" r="2.75" fill="#8a0a12"/>
<circle cx="456.3" cy="251.5" r="2.75" fill="#8a0a12"/>
<circle cx="459.4" cy="252.5" r="2.75" fill="#8a0a12"/>
<circle cx="462.5" cy="255" r="2.75" fill="#8a0a12"/>
<circle cx="465.5" cy="258" r="2.75" fill="#8a0a12"/>
<circle cx="468.5" cy="261" r="2.75" fill="#8a0a12"/>
<circle cx="471.2" cy="264.7" r="2.75" fill="#8a0a12"/>
<circle cx="476" cy="266" r="2.75" fill="#8a0a12"/>
<circle cx="479.9" cy="268.8" r="2.75" fill="#8a0a12"/>
<circle cx="482.9" cy="272.9" r="2.75" fill="#8a0a12"/>
<circle cx="488.1" cy="277" r="2.75" fill="#8a0a12"/>
<circle cx="492.8" cy="280.5" r="2.75" fill="#8a0a12"/>
<circle cx="497.5" cy="280.5" r="2.75" fill="#8a0a12"/>
<circle cx="501" cy="284.6" r="2.75" fill="#8a0a12"/>
<circle cx="509.8" cy="287.5" r="2.75" fill="#8a0a12"/>
<circle cx="505.7" cy="291" r="2.75" fill="#8a0a12"/>
<circle cx="512.7" cy="293.9" r="2.75" fill="#8a0a12"/>
<circle cx="516.8" cy="291.6" r="2.75" fill="#8a0a12"/>
<circle cx="523.8" cy="292.2" r="2.75" fill="#8a0a12"/>
<circle cx="446.7" cy="202" r="2.75" fill="#8c8c16"/>
<circle cx="449.1" cy="217.3" r="2.75" fill="#8c8c16"/>
<circle cx="452.2" cy="227.6" r="2.75" fill="#8c8c16"/>
<circle cx="455.3" cy="231.7" r="2.75" fill="#8c8c16"/>
<circle cx="458.3" cy="236.6" r="2.75" fill="#8c8c16"/>
<circle cx="461.4" cy="237.2" r="2.75" fill="#8c8c16"/>
<circle cx="464.5" cy="252.5" r="2.75" fill="#8c8c16"/>
<circle cx="467.5" cy="256" r="2.75" fill="#8c8c16"/>
<circle cx="470.5" cy="262" r="2.75" fill="#8c8c16"/>
<circle cx="474.1" cy="260.6" r="2.75" fill="#8c8c16"/>
<circle cx="476.4" cy="270.5" r="2.75" fill="#8c8c16"/>
<circle cx="478.8" cy="275.2" r="2.75" fill="#8c8c16"/>
<circle cx="484" cy="277" r="2.75" fill="#8c8c16"/>
<circle cx="488.1" cy="279.9" r="2.75" fill="#8c8c16"/>
<circle cx="491.1" cy="286.3" r="2.75" fill="#8c8c16"/>
<circle cx="495" cy="288" r="2.75" fill="#8c8c16"/>
<circle cx="499.8" cy="287.5" r="2.75" fill="#8c8c16"/>
<circle cx="503.9" cy="288.1" r="2.75" fill="#8c8c16"/>
<circle cx="508" cy="290" r="2.75" fill="#8c8c16"/>
<circle cx="512" cy="291" r="2.75" fill="#8c8c16"/>
<circle cx="516.2" cy="290.4" r="2.75" fill="#8c8c16"/>
<circle cx="520.3" cy="291.6" r="2.75" fill="#8c8c16"/>
<circle cx="525" cy="292.7" r="2.75" fill="#8c8c16"/>
<path d="M410.2 211.6 L462.4 253.6 L495.1 281.6 L526.7 293.9" fill="none" stroke="#222" stroke-width="1" />
<path d="M440.9 194.2 L482.9 282.8 L526.7 293.9" fill="none" stroke="#222" stroke-width="1" />
<line x1="586" y1="194.6" x2="586" y2="296.7" stroke="#8a8a8a" stroke-width="1.2" />
<line x1="586" y1="296.7" x2="703.5" y2="296.7" stroke="#8a8a8a" stroke-width="1.2" />
<line x1="581.5" y1="296.3" x2="586" y2="296.3" stroke="#8a8a8a" stroke-width="1.2" />
<line x1="581.5" y1="275.88" x2="586" y2="275.88" stroke="#8a8a8a" stroke-width="1.2" />
<line x1="581.5" y1="255.46" x2="586" y2="255.46" stroke="#8a8a8a" stroke-width="1.2" />
<line x1="581.5" y1="235.04" x2="586" y2="235.04" stroke="#8a8a8a" stroke-width="1.2" />
<line x1="581.5" y1="214.62" x2="586" y2="214.62" stroke="#8a8a8a" stroke-width="1.2" />
<line x1="581.5" y1="194.2" x2="586" y2="194.2" stroke="#8a8a8a" stroke-width="1.2" />
<line x1="583.5" y1="286.09" x2="586" y2="286.09" stroke="#8a8a8a" stroke-width="1.2" />
<line x1="583.5" y1="265.67" x2="586" y2="265.67" stroke="#8a8a8a" stroke-width="1.2" />
<line x1="583.5" y1="245.25" x2="586" y2="245.25" stroke="#8a8a8a" stroke-width="1.2" />
<line x1="583.5" y1="224.83" x2="586" y2="224.83" stroke="#8a8a8a" stroke-width="1.2" />
<line x1="583.5" y1="204.41" x2="586" y2="204.41" stroke="#8a8a8a" stroke-width="1.2" />
<line x1="585.6" y1="296.7" x2="585.6" y2="301.2" stroke="#8a8a8a" stroke-width="1.2" />
<line x1="614.98" y1="296.7" x2="614.98" y2="301.2" stroke="#8a8a8a" stroke-width="1.2" />
<line x1="644.35" y1="296.7" x2="644.35" y2="301.2" stroke="#8a8a8a" stroke-width="1.2" />
<line x1="673.73" y1="296.7" x2="673.73" y2="301.2" stroke="#8a8a8a" stroke-width="1.2" />
<line x1="703.1" y1="296.7" x2="703.1" y2="301.2" stroke="#8a8a8a" stroke-width="1.2" />
<line x1="600.29" y1="296.7" x2="600.29" y2="299.2" stroke="#8a8a8a" stroke-width="1.2" />
<line x1="629.66" y1="296.7" x2="629.66" y2="299.2" stroke="#8a8a8a" stroke-width="1.2" />
<line x1="659.04" y1="296.7" x2="659.04" y2="299.2" stroke="#8a8a8a" stroke-width="1.2" />
<line x1="688.41" y1="296.7" x2="688.41" y2="299.2" stroke="#8a8a8a" stroke-width="1.2" />
<text x="585.6" y="313.6" font-size="13.7" text-anchor="middle" fill="#000" >-200</text>
<text x="614.98" y="313.6" font-size="13.7" text-anchor="middle" fill="#000" >-150</text>
<text x="644.35" y="313.6" font-size="13.7" text-anchor="middle" fill="#000" >-100</text>
<text x="673.73" y="313.6" font-size="13.7" text-anchor="middle" fill="#000" >-50</text>
<text x="703.1" y="313.6" font-size="13.7" text-anchor="middle" fill="#000" >0</text>
<text x="578.6" y="301" font-size="13.7" text-anchor="end" fill="#000" >0</text>
<text x="578.6" y="280.58" font-size="13.7" text-anchor="end" fill="#000" >10</text>
<text x="578.6" y="260.16" font-size="13.7" text-anchor="end" fill="#000" >20</text>
<text x="578.6" y="239.74" font-size="13.7" text-anchor="end" fill="#000" >30</text>
<text x="578.6" y="219.32" font-size="13.7" text-anchor="end" fill="#000" >40</text>
<text x="578.6" y="198.9" font-size="13.7" text-anchor="end" fill="#000" >50</text>
<text x="644.5" y="337" font-size="15.3" text-anchor="middle" fill="#000" >I (pA)</text>
<text x="0" y="0" font-size="15" text-anchor="middle" fill="#000" transform="translate(556,242.8) rotate(-90)">Relative ΔV (%)</text>
<circle cx="598.7" cy="264" r="2.9" fill="#d4565e"/>
<circle cx="598.7" cy="283" r="2.9" fill="#b3b314"/>
<text x="614.2" y="269" font-size="14" fill="#000">V<tspan font-size="8.8" dy="3.6">sag</tspan></text>
<text x="614.2" y="288.3" font-size="14" fill="#000">V<tspan font-size="8.8" dy="3.6">RebP</tspan></text>
<rect x="696.2" y="294.9" width="6.6" height="1.8" fill="#b3b314"/>
<circle cx="589.4" cy="238.7" r="2.75" fill="#d4565e"/>
<circle cx="592.3" cy="235" r="2.75" fill="#d4565e"/>
<circle cx="595.5" cy="238.7" r="2.75" fill="#d4565e"/>
<circle cx="598.5" cy="240.5" r="2.75" fill="#d4565e"/>
<circle cx="601.4" cy="239.9" r="2.75" fill="#d4565e"/>
<circle cx="604.3" cy="241" r="2.75" fill="#d4565e"/>
<circle cx="607.8" cy="241" r="2.75" fill="#d4565e"/>
<circle cx="610.7" cy="241.6" r="2.75" fill="#d4565e"/>
<circle cx="613.7" cy="245.1" r="2.75" fill="#d4565e"/>
<circle cx="616.6" cy="244" r="2.75" fill="#d4565e"/>
<circle cx="620.1" cy="244" r="2.75" fill="#d4565e"/>
<circle cx="622.4" cy="246.9" r="2.75" fill="#d4565e"/>
<circle cx="625.4" cy="246.3" r="2.75" fill="#d4565e"/>
<circle cx="628.9" cy="249.8" r="2.75" fill="#d4565e"/>
<circle cx="632.4" cy="248.1" r="2.75" fill="#d4565e"/>
<circle cx="636.5" cy="248.1" r="2.75" fill="#d4565e"/>
<circle cx="640" cy="249.8" r="2.75" fill="#d4565e"/>
<circle cx="643.5" cy="250.4" r="2.75" fill="#d4565e"/>
<circle cx="649.3" cy="253.9" r="2.75" fill="#d4565e"/>
<circle cx="655.2" cy="255" r="2.75" fill="#d4565e"/>
<circle cx="659.9" cy="258.6" r="2.75" fill="#d4565e"/>
<circle cx="664.5" cy="258.6" r="2.75" fill="#d4565e"/>
<circle cx="669.2" cy="263.2" r="2.75" fill="#d4565e"/>
<circle cx="673.4" cy="258.6" r="2.75" fill="#d4565e"/>
<circle cx="676.9" cy="267.9" r="2.75" fill="#d4565e"/>
<circle cx="682" cy="276.1" r="2.75" fill="#d4565e"/>
<circle cx="685.6" cy="263.2" r="2.75" fill="#d4565e"/>
<circle cx="691.4" cy="274.2" r="2.75" fill="#d4565e"/>
<circle cx="694.4" cy="262" r="2.75" fill="#d4565e"/>
<circle cx="688.4" cy="285" r="2.75" fill="#d4565e"/>
<circle cx="622.6" cy="208.8" r="2.75" fill="#b3b314"/>
<circle cx="625.4" cy="219.7" r="2.75" fill="#b3b314"/>
<circle cx="628.9" cy="227" r="2.75" fill="#b3b314"/>
<circle cx="631.8" cy="228.2" r="2.75" fill="#b3b314"/>
<circle cx="634.7" cy="232.3" r="2.75" fill="#b3b314"/>
<circle cx="637.6" cy="228.8" r="2.75" fill="#b3b314"/>
<circle cx="640.6" cy="245.1" r="2.75" fill="#b3b314"/>
<circle cx="643.5" cy="250.4" r="2.75" fill="#b3b314"/>
<circle cx="646.4" cy="242.2" r="2.75" fill="#b3b314"/>
<circle cx="648.7" cy="248.1" r="2.75" fill="#b3b314"/>
<circle cx="652.9" cy="259.7" r="2.75" fill="#b3b314"/>
<circle cx="656.4" cy="263.2" r="2.75" fill="#b3b314"/>
<circle cx="658.7" cy="264.4" r="2.75" fill="#b3b314"/>
<circle cx="663.4" cy="262" r="2.75" fill="#b3b314"/>
<circle cx="667.6" cy="274.9" r="2.75" fill="#b3b314"/>
<circle cx="671.5" cy="273.3" r="2.75" fill="#b3b314"/>
<circle cx="675" cy="271.4" r="2.75" fill="#b3b314"/>
<circle cx="678.6" cy="271.9" r="2.75" fill="#b3b314"/>
<circle cx="682" cy="270.9" r="2.75" fill="#b3b314"/>
<circle cx="685.6" cy="274.9" r="2.75" fill="#b3b314"/>
<circle cx="689.1" cy="281.9" r="2.75" fill="#b3b314"/>
<circle cx="691.4" cy="269.1" r="2.75" fill="#b3b314"/>
<circle cx="694.9" cy="265.6" r="2.75" fill="#b3b314"/>
<line x1="585" y1="234.6" x2="698.4" y2="273.3" stroke="#222" stroke-width="1" />
<line x1="614.7" y1="202.2" x2="668" y2="272.6" stroke="#222" stroke-width="1" />
</svg></body></html>
